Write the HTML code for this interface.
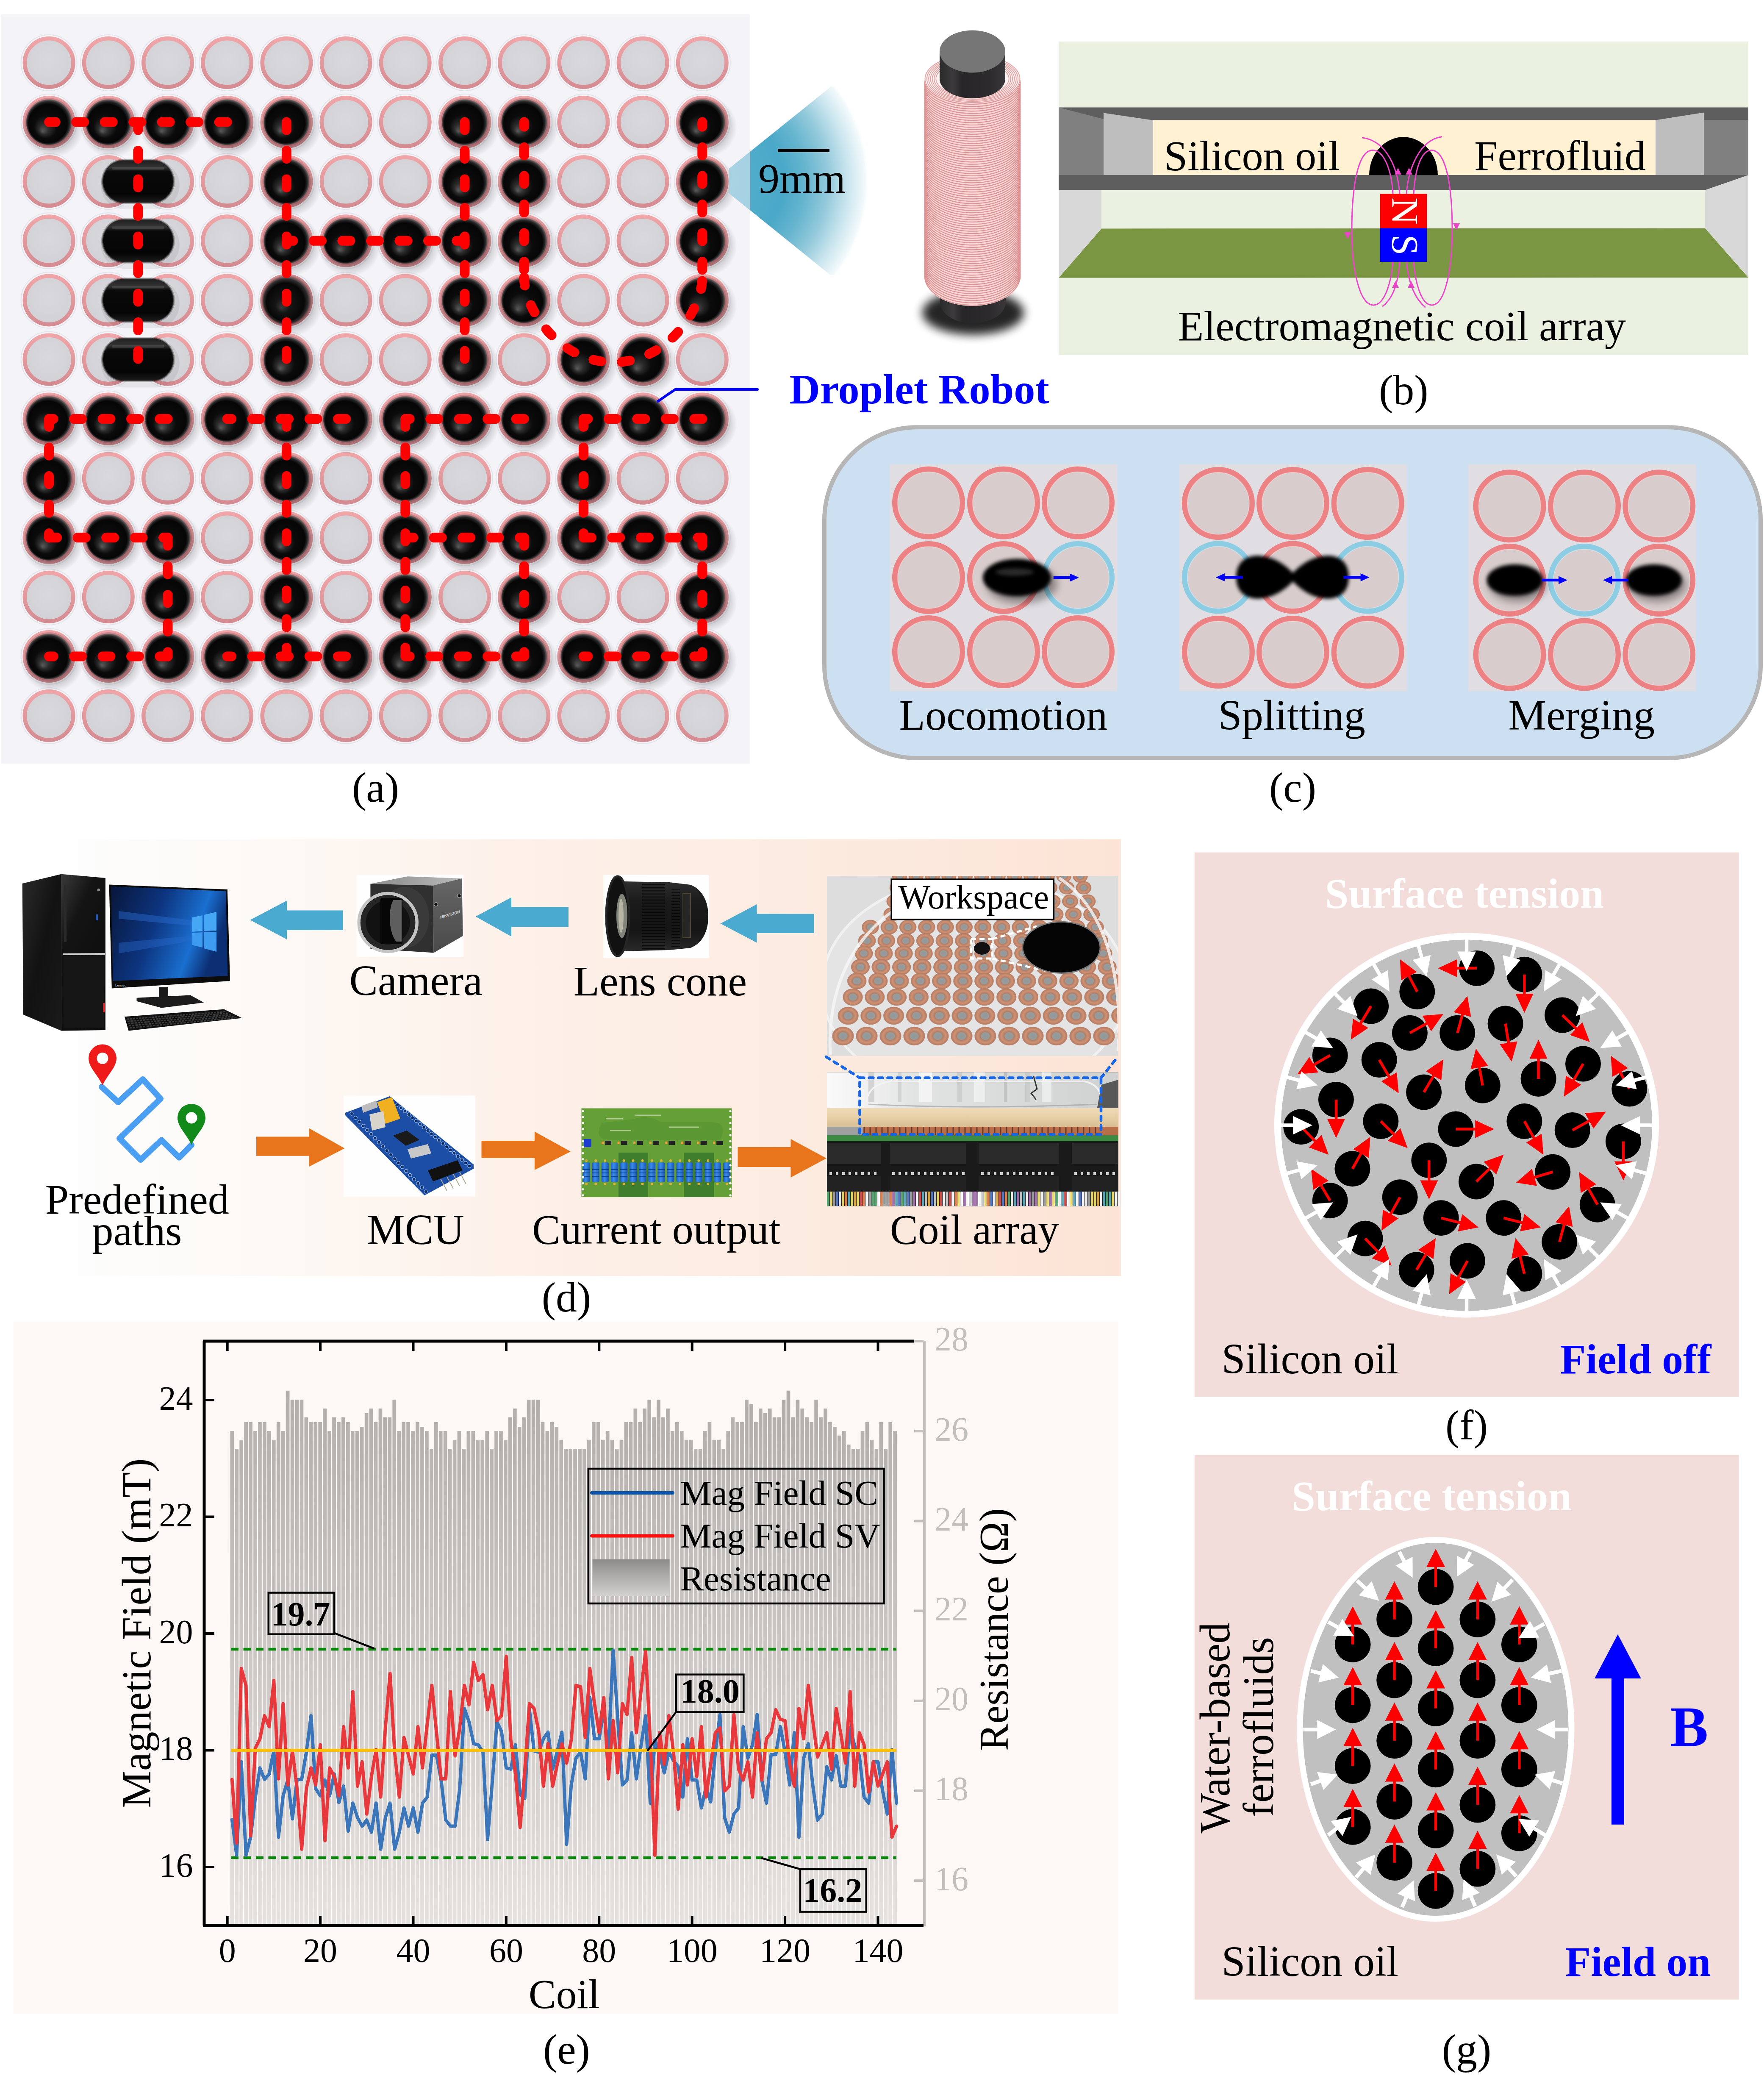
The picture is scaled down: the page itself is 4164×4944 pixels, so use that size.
<!DOCTYPE html>
<html><head><meta charset="utf-8"><title>Droplet robot figure</title>
<style>html,body{margin:0;padding:0;background:#fff;}body{width:4164px;height:4944px;overflow:hidden;}svg{display:block;}</style>
</head><body>
<svg xmlns="http://www.w3.org/2000/svg" width="4164" height="4944" viewBox="0 0 4164 4944"><defs>
<radialGradient id="gcell" cx="0.5" cy="0.45" r="0.55">
 <stop offset="0" stop-color="#d9d8dd"/><stop offset="1" stop-color="#d2d1d6"/>
</radialGradient>
<linearGradient id="gring" x1="0" y1="0" x2="0" y2="1">
 <stop offset="0" stop-color="#f0a6a8"/><stop offset="1" stop-color="#d48c92"/>
</linearGradient>
<radialGradient id="gdrop" cx="0.5" cy="0.5" r="0.5" fx="0.36" fy="0.70">
 <stop offset="0" stop-color="#5a5a5a"/>
 <stop offset="0.22" stop-color="#2c2c2c"/>
 <stop offset="0.5" stop-color="#0b0b0b"/>
 <stop offset="0.84" stop-color="#060606"/>
 <stop offset="0.92" stop-color="#262626"/>
 <stop offset="0.97" stop-color="#3a3a3a" stop-opacity="0.7"/>
 <stop offset="1" stop-color="#444" stop-opacity="0"/>
</radialGradient>
<radialGradient id="gdropb" cx="0.5" cy="0.5" r="0.5" fx="0.4" fy="0.65">
 <stop offset="0" stop-color="#3a3a3a"/>
 <stop offset="0.3" stop-color="#151515"/>
 <stop offset="0.75" stop-color="#070707"/>
 <stop offset="0.88" stop-color="#1a1a1a" stop-opacity="0.85"/>
 <stop offset="1" stop-color="#333" stop-opacity="0"/>
</radialGradient>
<radialGradient id="gshadow" cx="0.5" cy="0.5" r="0.5">
 <stop offset="0" stop-color="#000" stop-opacity="0.32"/>
 <stop offset="0.6" stop-color="#000" stop-opacity="0.22"/>
 <stop offset="1" stop-color="#000" stop-opacity="0"/>
</radialGradient>
<linearGradient id="gcap" x1="0" y1="0" x2="0" y2="1">
 <stop offset="0" stop-color="#222"/><stop offset="0.16" stop-color="#333"/><stop offset="0.26" stop-color="#0a0a0a"/>
 <stop offset="0.8" stop-color="#050505"/><stop offset="1" stop-color="#1a1a1a"/>
</linearGradient>

<radialGradient id="gcone" gradientUnits="userSpaceOnUse" cx="1685" cy="427" r="368">
 <stop offset="0" stop-color="#5ab2cf"/><stop offset="0.45" stop-color="#4aa8c8"/>
 <stop offset="0.59" stop-color="#66b5cf"/><stop offset="0.73" stop-color="#93c9db"/>
 <stop offset="0.86" stop-color="#cae5ee"/><stop offset="0.97" stop-color="#f2f9fb"/><stop offset="1" stop-color="#ffffff" stop-opacity="0"/>
</radialGradient>
<linearGradient id="gcore" x1="0" y1="0" x2="1" y2="0">
 <stop offset="0" stop-color="#2a2a2a"/><stop offset="0.2" stop-color="#3c3a3c"/><stop offset="0.35" stop-color="#272527"/>
 <stop offset="0.75" stop-color="#2c2a2d"/><stop offset="1" stop-color="#3a373b"/>
</linearGradient>
<filter id="fcshadow" x="-50%" y="-50%" width="200%" height="200%"><feGaussianBlur stdDeviation="11"/></filter>
<filter id="fblurc" x="-30%" y="-30%" width="160%" height="160%"><feGaussianBlur stdDeviation="4"/></filter>
<filter id="fblurc2" x="-30%" y="-30%" width="160%" height="160%"><feGaussianBlur stdDeviation="9"/></filter>
<marker id="mblue" viewBox="0 0 10 10" refX="9" refY="5" markerWidth="3.6" markerHeight="3.6" orient="auto-start-reverse" markerUnits="strokeWidth">
 <path d="M0,0 L10,5 L0,10 Z" fill="#0000ff"/></marker>

<linearGradient id="gdbg" x1="0" y1="0" x2="1" y2="0">
 <stop offset="0" stop-color="#fdfdfd"/><stop offset="0.1" stop-color="#fdfbf9"/><stop offset="0.45" stop-color="#fdf0e8"/><stop offset="1" stop-color="#fbe4d6"/>
</linearGradient>
<linearGradient id="gscreen" x1="0" y1="0" x2="1" y2="0.3">
 <stop offset="0" stop-color="#08163a"/><stop offset="0.45" stop-color="#0d3580"/><stop offset="0.8" stop-color="#1a6fd0"/><stop offset="1" stop-color="#0c2e72"/>
</linearGradient>
<linearGradient id="gtower" x1="0" y1="0" x2="1" y2="1">
 <stop offset="0" stop-color="#2a2a2a"/><stop offset="0.5" stop-color="#121212"/><stop offset="1" stop-color="#1a1a1a"/>
</linearGradient>
<linearGradient id="gfront" x1="0" y1="0" x2="0.6" y2="1">
 <stop offset="0" stop-color="#3a3a3a"/><stop offset="0.35" stop-color="#141414"/><stop offset="1" stop-color="#0c0c0c"/>
</linearGradient>
<linearGradient id="gcamtop" x1="0" y1="0" x2="1" y2="0">
 <stop offset="0" stop-color="#8a8a8a"/><stop offset="1" stop-color="#b9bcbc"/>
</linearGradient>
<linearGradient id="gcamside" x1="0" y1="0" x2="0" y2="1">
 <stop offset="0" stop-color="#666"/><stop offset="1" stop-color="#4a4a4a"/>
</linearGradient>
<linearGradient id="glens" x1="0" y1="0" x2="0" y2="1">
 <stop offset="0" stop-color="#2e2e2e"/><stop offset="0.3" stop-color="#1a1a1a"/><stop offset="0.7" stop-color="#151515"/><stop offset="1" stop-color="#2a2a2a"/>
</linearGradient>
<linearGradient id="gglass" x1="0" y1="0" x2="1" y2="0">
 <stop offset="0" stop-color="#fafafa"/><stop offset="0.15" stop-color="#f0f0f0"/><stop offset="0.3" stop-color="#e2e3e3"/><stop offset="0.6" stop-color="#dadcdc"/><stop offset="1" stop-color="#cfd1d1"/>
</linearGradient>
<linearGradient id="gtan" x1="0" y1="0" x2="0" y2="1">
 <stop offset="0" stop-color="#efdcb8"/><stop offset="0.5" stop-color="#e6cfa6"/><stop offset="1" stop-color="#d9bd92"/>
</linearGradient>
<radialGradient id="gcopper" cx="0.5" cy="0.5" r="0.5">
 <stop offset="0" stop-color="#85898a"/><stop offset="0.38" stop-color="#8a8e8e"/><stop offset="0.44" stop-color="#a86a4c"/>
 <stop offset="0.7" stop-color="#c98260"/><stop offset="0.93" stop-color="#b06848"/><stop offset="1" stop-color="#a06048" stop-opacity="0.6"/>
</radialGradient>
<linearGradient id="gres" x1="0" y1="0" x2="1" y2="0">
 <stop offset="0" stop-color="#1d5fc0"/><stop offset="0.4" stop-color="#3a8cf0"/><stop offset="1" stop-color="#1a56b0"/>
</linearGradient>

<linearGradient id="gbar" gradientUnits="userSpaceOnUse" x1="0" y1="3280" x2="0" y2="4541">
 <stop offset="0" stop-color="#b1adaa"/><stop offset="0.5" stop-color="#cbc7c5"/><stop offset="1" stop-color="#e4e1df"/>
</linearGradient>
<linearGradient id="glegbar" x1="0" y1="0" x2="0" y2="1">
 <stop offset="0" stop-color="#8e8c8b"/><stop offset="1" stop-color="#d4d2d1"/>
</linearGradient>
</defs><rect width="4164" height="4944" fill="#fff"/>
<rect x="2" y="34" width="1768" height="1768" fill="#f3f3f8"/>
<circle cx="115.6" cy="148.0" r="66" fill="none" stroke="#e4e4ea" stroke-width="2"/><circle cx="115.6" cy="148.0" r="57.2" fill="url(#gcell)" stroke="url(#gring)" stroke-width="9.6"/>
<circle cx="255.8" cy="148.0" r="66" fill="none" stroke="#e4e4ea" stroke-width="2"/><circle cx="255.8" cy="148.0" r="57.2" fill="url(#gcell)" stroke="url(#gring)" stroke-width="9.6"/>
<circle cx="396.0" cy="148.0" r="66" fill="none" stroke="#e4e4ea" stroke-width="2"/><circle cx="396.0" cy="148.0" r="57.2" fill="url(#gcell)" stroke="url(#gring)" stroke-width="9.6"/>
<circle cx="536.2" cy="148.0" r="66" fill="none" stroke="#e4e4ea" stroke-width="2"/><circle cx="536.2" cy="148.0" r="57.2" fill="url(#gcell)" stroke="url(#gring)" stroke-width="9.6"/>
<circle cx="676.4" cy="148.0" r="66" fill="none" stroke="#e4e4ea" stroke-width="2"/><circle cx="676.4" cy="148.0" r="57.2" fill="url(#gcell)" stroke="url(#gring)" stroke-width="9.6"/>
<circle cx="816.6" cy="148.0" r="66" fill="none" stroke="#e4e4ea" stroke-width="2"/><circle cx="816.6" cy="148.0" r="57.2" fill="url(#gcell)" stroke="url(#gring)" stroke-width="9.6"/>
<circle cx="956.8" cy="148.0" r="66" fill="none" stroke="#e4e4ea" stroke-width="2"/><circle cx="956.8" cy="148.0" r="57.2" fill="url(#gcell)" stroke="url(#gring)" stroke-width="9.6"/>
<circle cx="1097.0" cy="148.0" r="66" fill="none" stroke="#e4e4ea" stroke-width="2"/><circle cx="1097.0" cy="148.0" r="57.2" fill="url(#gcell)" stroke="url(#gring)" stroke-width="9.6"/>
<circle cx="1237.2" cy="148.0" r="66" fill="none" stroke="#e4e4ea" stroke-width="2"/><circle cx="1237.2" cy="148.0" r="57.2" fill="url(#gcell)" stroke="url(#gring)" stroke-width="9.6"/>
<circle cx="1377.4" cy="148.0" r="66" fill="none" stroke="#e4e4ea" stroke-width="2"/><circle cx="1377.4" cy="148.0" r="57.2" fill="url(#gcell)" stroke="url(#gring)" stroke-width="9.6"/>
<circle cx="1517.6" cy="148.0" r="66" fill="none" stroke="#e4e4ea" stroke-width="2"/><circle cx="1517.6" cy="148.0" r="57.2" fill="url(#gcell)" stroke="url(#gring)" stroke-width="9.6"/>
<circle cx="1657.8" cy="148.0" r="66" fill="none" stroke="#e4e4ea" stroke-width="2"/><circle cx="1657.8" cy="148.0" r="57.2" fill="url(#gcell)" stroke="url(#gring)" stroke-width="9.6"/>
<circle cx="115.6" cy="288.1" r="66" fill="none" stroke="#e4e4ea" stroke-width="2"/><circle cx="115.6" cy="288.1" r="57.2" fill="url(#gcell)" stroke="url(#gring)" stroke-width="9.6"/>
<circle cx="255.8" cy="288.1" r="66" fill="none" stroke="#e4e4ea" stroke-width="2"/><circle cx="255.8" cy="288.1" r="57.2" fill="url(#gcell)" stroke="url(#gring)" stroke-width="9.6"/>
<circle cx="396.0" cy="288.1" r="66" fill="none" stroke="#e4e4ea" stroke-width="2"/><circle cx="396.0" cy="288.1" r="57.2" fill="url(#gcell)" stroke="url(#gring)" stroke-width="9.6"/>
<circle cx="536.2" cy="288.1" r="66" fill="none" stroke="#e4e4ea" stroke-width="2"/><circle cx="536.2" cy="288.1" r="57.2" fill="url(#gcell)" stroke="url(#gring)" stroke-width="9.6"/>
<circle cx="676.4" cy="288.1" r="66" fill="none" stroke="#e4e4ea" stroke-width="2"/><circle cx="676.4" cy="288.1" r="57.2" fill="url(#gcell)" stroke="url(#gring)" stroke-width="9.6"/>
<circle cx="816.6" cy="288.1" r="66" fill="none" stroke="#e4e4ea" stroke-width="2"/><circle cx="816.6" cy="288.1" r="57.2" fill="url(#gcell)" stroke="url(#gring)" stroke-width="9.6"/>
<circle cx="956.8" cy="288.1" r="66" fill="none" stroke="#e4e4ea" stroke-width="2"/><circle cx="956.8" cy="288.1" r="57.2" fill="url(#gcell)" stroke="url(#gring)" stroke-width="9.6"/>
<circle cx="1097.0" cy="288.1" r="66" fill="none" stroke="#e4e4ea" stroke-width="2"/><circle cx="1097.0" cy="288.1" r="57.2" fill="url(#gcell)" stroke="url(#gring)" stroke-width="9.6"/>
<circle cx="1237.2" cy="288.1" r="66" fill="none" stroke="#e4e4ea" stroke-width="2"/><circle cx="1237.2" cy="288.1" r="57.2" fill="url(#gcell)" stroke="url(#gring)" stroke-width="9.6"/>
<circle cx="1377.4" cy="288.1" r="66" fill="none" stroke="#e4e4ea" stroke-width="2"/><circle cx="1377.4" cy="288.1" r="57.2" fill="url(#gcell)" stroke="url(#gring)" stroke-width="9.6"/>
<circle cx="1517.6" cy="288.1" r="66" fill="none" stroke="#e4e4ea" stroke-width="2"/><circle cx="1517.6" cy="288.1" r="57.2" fill="url(#gcell)" stroke="url(#gring)" stroke-width="9.6"/>
<circle cx="1657.8" cy="288.1" r="66" fill="none" stroke="#e4e4ea" stroke-width="2"/><circle cx="1657.8" cy="288.1" r="57.2" fill="url(#gcell)" stroke="url(#gring)" stroke-width="9.6"/>
<circle cx="115.6" cy="428.2" r="66" fill="none" stroke="#e4e4ea" stroke-width="2"/><circle cx="115.6" cy="428.2" r="57.2" fill="url(#gcell)" stroke="url(#gring)" stroke-width="9.6"/>
<circle cx="255.8" cy="428.2" r="66" fill="none" stroke="#e4e4ea" stroke-width="2"/><circle cx="255.8" cy="428.2" r="57.2" fill="url(#gcell)" stroke="url(#gring)" stroke-width="9.6"/>
<circle cx="396.0" cy="428.2" r="66" fill="none" stroke="#e4e4ea" stroke-width="2"/><circle cx="396.0" cy="428.2" r="57.2" fill="url(#gcell)" stroke="url(#gring)" stroke-width="9.6"/>
<circle cx="536.2" cy="428.2" r="66" fill="none" stroke="#e4e4ea" stroke-width="2"/><circle cx="536.2" cy="428.2" r="57.2" fill="url(#gcell)" stroke="url(#gring)" stroke-width="9.6"/>
<circle cx="676.4" cy="428.2" r="66" fill="none" stroke="#e4e4ea" stroke-width="2"/><circle cx="676.4" cy="428.2" r="57.2" fill="url(#gcell)" stroke="url(#gring)" stroke-width="9.6"/>
<circle cx="816.6" cy="428.2" r="66" fill="none" stroke="#e4e4ea" stroke-width="2"/><circle cx="816.6" cy="428.2" r="57.2" fill="url(#gcell)" stroke="url(#gring)" stroke-width="9.6"/>
<circle cx="956.8" cy="428.2" r="66" fill="none" stroke="#e4e4ea" stroke-width="2"/><circle cx="956.8" cy="428.2" r="57.2" fill="url(#gcell)" stroke="url(#gring)" stroke-width="9.6"/>
<circle cx="1097.0" cy="428.2" r="66" fill="none" stroke="#e4e4ea" stroke-width="2"/><circle cx="1097.0" cy="428.2" r="57.2" fill="url(#gcell)" stroke="url(#gring)" stroke-width="9.6"/>
<circle cx="1237.2" cy="428.2" r="66" fill="none" stroke="#e4e4ea" stroke-width="2"/><circle cx="1237.2" cy="428.2" r="57.2" fill="url(#gcell)" stroke="url(#gring)" stroke-width="9.6"/>
<circle cx="1377.4" cy="428.2" r="66" fill="none" stroke="#e4e4ea" stroke-width="2"/><circle cx="1377.4" cy="428.2" r="57.2" fill="url(#gcell)" stroke="url(#gring)" stroke-width="9.6"/>
<circle cx="1517.6" cy="428.2" r="66" fill="none" stroke="#e4e4ea" stroke-width="2"/><circle cx="1517.6" cy="428.2" r="57.2" fill="url(#gcell)" stroke="url(#gring)" stroke-width="9.6"/>
<circle cx="1657.8" cy="428.2" r="66" fill="none" stroke="#e4e4ea" stroke-width="2"/><circle cx="1657.8" cy="428.2" r="57.2" fill="url(#gcell)" stroke="url(#gring)" stroke-width="9.6"/>
<circle cx="115.6" cy="568.3" r="66" fill="none" stroke="#e4e4ea" stroke-width="2"/><circle cx="115.6" cy="568.3" r="57.2" fill="url(#gcell)" stroke="url(#gring)" stroke-width="9.6"/>
<circle cx="255.8" cy="568.3" r="66" fill="none" stroke="#e4e4ea" stroke-width="2"/><circle cx="255.8" cy="568.3" r="57.2" fill="url(#gcell)" stroke="url(#gring)" stroke-width="9.6"/>
<circle cx="396.0" cy="568.3" r="66" fill="none" stroke="#e4e4ea" stroke-width="2"/><circle cx="396.0" cy="568.3" r="57.2" fill="url(#gcell)" stroke="url(#gring)" stroke-width="9.6"/>
<circle cx="536.2" cy="568.3" r="66" fill="none" stroke="#e4e4ea" stroke-width="2"/><circle cx="536.2" cy="568.3" r="57.2" fill="url(#gcell)" stroke="url(#gring)" stroke-width="9.6"/>
<circle cx="676.4" cy="568.3" r="66" fill="none" stroke="#e4e4ea" stroke-width="2"/><circle cx="676.4" cy="568.3" r="57.2" fill="url(#gcell)" stroke="url(#gring)" stroke-width="9.6"/>
<circle cx="816.6" cy="568.3" r="66" fill="none" stroke="#e4e4ea" stroke-width="2"/><circle cx="816.6" cy="568.3" r="57.2" fill="url(#gcell)" stroke="url(#gring)" stroke-width="9.6"/>
<circle cx="956.8" cy="568.3" r="66" fill="none" stroke="#e4e4ea" stroke-width="2"/><circle cx="956.8" cy="568.3" r="57.2" fill="url(#gcell)" stroke="url(#gring)" stroke-width="9.6"/>
<circle cx="1097.0" cy="568.3" r="66" fill="none" stroke="#e4e4ea" stroke-width="2"/><circle cx="1097.0" cy="568.3" r="57.2" fill="url(#gcell)" stroke="url(#gring)" stroke-width="9.6"/>
<circle cx="1237.2" cy="568.3" r="66" fill="none" stroke="#e4e4ea" stroke-width="2"/><circle cx="1237.2" cy="568.3" r="57.2" fill="url(#gcell)" stroke="url(#gring)" stroke-width="9.6"/>
<circle cx="1377.4" cy="568.3" r="66" fill="none" stroke="#e4e4ea" stroke-width="2"/><circle cx="1377.4" cy="568.3" r="57.2" fill="url(#gcell)" stroke="url(#gring)" stroke-width="9.6"/>
<circle cx="1517.6" cy="568.3" r="66" fill="none" stroke="#e4e4ea" stroke-width="2"/><circle cx="1517.6" cy="568.3" r="57.2" fill="url(#gcell)" stroke="url(#gring)" stroke-width="9.6"/>
<circle cx="1657.8" cy="568.3" r="66" fill="none" stroke="#e4e4ea" stroke-width="2"/><circle cx="1657.8" cy="568.3" r="57.2" fill="url(#gcell)" stroke="url(#gring)" stroke-width="9.6"/>
<circle cx="115.6" cy="708.4" r="66" fill="none" stroke="#e4e4ea" stroke-width="2"/><circle cx="115.6" cy="708.4" r="57.2" fill="url(#gcell)" stroke="url(#gring)" stroke-width="9.6"/>
<circle cx="255.8" cy="708.4" r="66" fill="none" stroke="#e4e4ea" stroke-width="2"/><circle cx="255.8" cy="708.4" r="57.2" fill="url(#gcell)" stroke="url(#gring)" stroke-width="9.6"/>
<circle cx="396.0" cy="708.4" r="66" fill="none" stroke="#e4e4ea" stroke-width="2"/><circle cx="396.0" cy="708.4" r="57.2" fill="url(#gcell)" stroke="url(#gring)" stroke-width="9.6"/>
<circle cx="536.2" cy="708.4" r="66" fill="none" stroke="#e4e4ea" stroke-width="2"/><circle cx="536.2" cy="708.4" r="57.2" fill="url(#gcell)" stroke="url(#gring)" stroke-width="9.6"/>
<circle cx="676.4" cy="708.4" r="66" fill="none" stroke="#e4e4ea" stroke-width="2"/><circle cx="676.4" cy="708.4" r="57.2" fill="url(#gcell)" stroke="url(#gring)" stroke-width="9.6"/>
<circle cx="816.6" cy="708.4" r="66" fill="none" stroke="#e4e4ea" stroke-width="2"/><circle cx="816.6" cy="708.4" r="57.2" fill="url(#gcell)" stroke="url(#gring)" stroke-width="9.6"/>
<circle cx="956.8" cy="708.4" r="66" fill="none" stroke="#e4e4ea" stroke-width="2"/><circle cx="956.8" cy="708.4" r="57.2" fill="url(#gcell)" stroke="url(#gring)" stroke-width="9.6"/>
<circle cx="1097.0" cy="708.4" r="66" fill="none" stroke="#e4e4ea" stroke-width="2"/><circle cx="1097.0" cy="708.4" r="57.2" fill="url(#gcell)" stroke="url(#gring)" stroke-width="9.6"/>
<circle cx="1237.2" cy="708.4" r="66" fill="none" stroke="#e4e4ea" stroke-width="2"/><circle cx="1237.2" cy="708.4" r="57.2" fill="url(#gcell)" stroke="url(#gring)" stroke-width="9.6"/>
<circle cx="1377.4" cy="708.4" r="66" fill="none" stroke="#e4e4ea" stroke-width="2"/><circle cx="1377.4" cy="708.4" r="57.2" fill="url(#gcell)" stroke="url(#gring)" stroke-width="9.6"/>
<circle cx="1517.6" cy="708.4" r="66" fill="none" stroke="#e4e4ea" stroke-width="2"/><circle cx="1517.6" cy="708.4" r="57.2" fill="url(#gcell)" stroke="url(#gring)" stroke-width="9.6"/>
<circle cx="1657.8" cy="708.4" r="66" fill="none" stroke="#e4e4ea" stroke-width="2"/><circle cx="1657.8" cy="708.4" r="57.2" fill="url(#gcell)" stroke="url(#gring)" stroke-width="9.6"/>
<circle cx="115.6" cy="848.5" r="66" fill="none" stroke="#e4e4ea" stroke-width="2"/><circle cx="115.6" cy="848.5" r="57.2" fill="url(#gcell)" stroke="url(#gring)" stroke-width="9.6"/>
<circle cx="255.8" cy="848.5" r="66" fill="none" stroke="#e4e4ea" stroke-width="2"/><circle cx="255.8" cy="848.5" r="57.2" fill="url(#gcell)" stroke="url(#gring)" stroke-width="9.6"/>
<circle cx="396.0" cy="848.5" r="66" fill="none" stroke="#e4e4ea" stroke-width="2"/><circle cx="396.0" cy="848.5" r="57.2" fill="url(#gcell)" stroke="url(#gring)" stroke-width="9.6"/>
<circle cx="536.2" cy="848.5" r="66" fill="none" stroke="#e4e4ea" stroke-width="2"/><circle cx="536.2" cy="848.5" r="57.2" fill="url(#gcell)" stroke="url(#gring)" stroke-width="9.6"/>
<circle cx="676.4" cy="848.5" r="66" fill="none" stroke="#e4e4ea" stroke-width="2"/><circle cx="676.4" cy="848.5" r="57.2" fill="url(#gcell)" stroke="url(#gring)" stroke-width="9.6"/>
<circle cx="816.6" cy="848.5" r="66" fill="none" stroke="#e4e4ea" stroke-width="2"/><circle cx="816.6" cy="848.5" r="57.2" fill="url(#gcell)" stroke="url(#gring)" stroke-width="9.6"/>
<circle cx="956.8" cy="848.5" r="66" fill="none" stroke="#e4e4ea" stroke-width="2"/><circle cx="956.8" cy="848.5" r="57.2" fill="url(#gcell)" stroke="url(#gring)" stroke-width="9.6"/>
<circle cx="1097.0" cy="848.5" r="66" fill="none" stroke="#e4e4ea" stroke-width="2"/><circle cx="1097.0" cy="848.5" r="57.2" fill="url(#gcell)" stroke="url(#gring)" stroke-width="9.6"/>
<circle cx="1237.2" cy="848.5" r="66" fill="none" stroke="#e4e4ea" stroke-width="2"/><circle cx="1237.2" cy="848.5" r="57.2" fill="url(#gcell)" stroke="url(#gring)" stroke-width="9.6"/>
<circle cx="1377.4" cy="848.5" r="66" fill="none" stroke="#e4e4ea" stroke-width="2"/><circle cx="1377.4" cy="848.5" r="57.2" fill="url(#gcell)" stroke="url(#gring)" stroke-width="9.6"/>
<circle cx="1517.6" cy="848.5" r="66" fill="none" stroke="#e4e4ea" stroke-width="2"/><circle cx="1517.6" cy="848.5" r="57.2" fill="url(#gcell)" stroke="url(#gring)" stroke-width="9.6"/>
<circle cx="1657.8" cy="848.5" r="66" fill="none" stroke="#e4e4ea" stroke-width="2"/><circle cx="1657.8" cy="848.5" r="57.2" fill="url(#gcell)" stroke="url(#gring)" stroke-width="9.6"/>
<circle cx="115.6" cy="988.6" r="66" fill="none" stroke="#e4e4ea" stroke-width="2"/><circle cx="115.6" cy="988.6" r="57.2" fill="url(#gcell)" stroke="url(#gring)" stroke-width="9.6"/>
<circle cx="255.8" cy="988.6" r="66" fill="none" stroke="#e4e4ea" stroke-width="2"/><circle cx="255.8" cy="988.6" r="57.2" fill="url(#gcell)" stroke="url(#gring)" stroke-width="9.6"/>
<circle cx="396.0" cy="988.6" r="66" fill="none" stroke="#e4e4ea" stroke-width="2"/><circle cx="396.0" cy="988.6" r="57.2" fill="url(#gcell)" stroke="url(#gring)" stroke-width="9.6"/>
<circle cx="536.2" cy="988.6" r="66" fill="none" stroke="#e4e4ea" stroke-width="2"/><circle cx="536.2" cy="988.6" r="57.2" fill="url(#gcell)" stroke="url(#gring)" stroke-width="9.6"/>
<circle cx="676.4" cy="988.6" r="66" fill="none" stroke="#e4e4ea" stroke-width="2"/><circle cx="676.4" cy="988.6" r="57.2" fill="url(#gcell)" stroke="url(#gring)" stroke-width="9.6"/>
<circle cx="816.6" cy="988.6" r="66" fill="none" stroke="#e4e4ea" stroke-width="2"/><circle cx="816.6" cy="988.6" r="57.2" fill="url(#gcell)" stroke="url(#gring)" stroke-width="9.6"/>
<circle cx="956.8" cy="988.6" r="66" fill="none" stroke="#e4e4ea" stroke-width="2"/><circle cx="956.8" cy="988.6" r="57.2" fill="url(#gcell)" stroke="url(#gring)" stroke-width="9.6"/>
<circle cx="1097.0" cy="988.6" r="66" fill="none" stroke="#e4e4ea" stroke-width="2"/><circle cx="1097.0" cy="988.6" r="57.2" fill="url(#gcell)" stroke="url(#gring)" stroke-width="9.6"/>
<circle cx="1237.2" cy="988.6" r="66" fill="none" stroke="#e4e4ea" stroke-width="2"/><circle cx="1237.2" cy="988.6" r="57.2" fill="url(#gcell)" stroke="url(#gring)" stroke-width="9.6"/>
<circle cx="1377.4" cy="988.6" r="66" fill="none" stroke="#e4e4ea" stroke-width="2"/><circle cx="1377.4" cy="988.6" r="57.2" fill="url(#gcell)" stroke="url(#gring)" stroke-width="9.6"/>
<circle cx="1517.6" cy="988.6" r="66" fill="none" stroke="#e4e4ea" stroke-width="2"/><circle cx="1517.6" cy="988.6" r="57.2" fill="url(#gcell)" stroke="url(#gring)" stroke-width="9.6"/>
<circle cx="1657.8" cy="988.6" r="66" fill="none" stroke="#e4e4ea" stroke-width="2"/><circle cx="1657.8" cy="988.6" r="57.2" fill="url(#gcell)" stroke="url(#gring)" stroke-width="9.6"/>
<circle cx="115.6" cy="1128.7" r="66" fill="none" stroke="#e4e4ea" stroke-width="2"/><circle cx="115.6" cy="1128.7" r="57.2" fill="url(#gcell)" stroke="url(#gring)" stroke-width="9.6"/>
<circle cx="255.8" cy="1128.7" r="66" fill="none" stroke="#e4e4ea" stroke-width="2"/><circle cx="255.8" cy="1128.7" r="57.2" fill="url(#gcell)" stroke="url(#gring)" stroke-width="9.6"/>
<circle cx="396.0" cy="1128.7" r="66" fill="none" stroke="#e4e4ea" stroke-width="2"/><circle cx="396.0" cy="1128.7" r="57.2" fill="url(#gcell)" stroke="url(#gring)" stroke-width="9.6"/>
<circle cx="536.2" cy="1128.7" r="66" fill="none" stroke="#e4e4ea" stroke-width="2"/><circle cx="536.2" cy="1128.7" r="57.2" fill="url(#gcell)" stroke="url(#gring)" stroke-width="9.6"/>
<circle cx="676.4" cy="1128.7" r="66" fill="none" stroke="#e4e4ea" stroke-width="2"/><circle cx="676.4" cy="1128.7" r="57.2" fill="url(#gcell)" stroke="url(#gring)" stroke-width="9.6"/>
<circle cx="816.6" cy="1128.7" r="66" fill="none" stroke="#e4e4ea" stroke-width="2"/><circle cx="816.6" cy="1128.7" r="57.2" fill="url(#gcell)" stroke="url(#gring)" stroke-width="9.6"/>
<circle cx="956.8" cy="1128.7" r="66" fill="none" stroke="#e4e4ea" stroke-width="2"/><circle cx="956.8" cy="1128.7" r="57.2" fill="url(#gcell)" stroke="url(#gring)" stroke-width="9.6"/>
<circle cx="1097.0" cy="1128.7" r="66" fill="none" stroke="#e4e4ea" stroke-width="2"/><circle cx="1097.0" cy="1128.7" r="57.2" fill="url(#gcell)" stroke="url(#gring)" stroke-width="9.6"/>
<circle cx="1237.2" cy="1128.7" r="66" fill="none" stroke="#e4e4ea" stroke-width="2"/><circle cx="1237.2" cy="1128.7" r="57.2" fill="url(#gcell)" stroke="url(#gring)" stroke-width="9.6"/>
<circle cx="1377.4" cy="1128.7" r="66" fill="none" stroke="#e4e4ea" stroke-width="2"/><circle cx="1377.4" cy="1128.7" r="57.2" fill="url(#gcell)" stroke="url(#gring)" stroke-width="9.6"/>
<circle cx="1517.6" cy="1128.7" r="66" fill="none" stroke="#e4e4ea" stroke-width="2"/><circle cx="1517.6" cy="1128.7" r="57.2" fill="url(#gcell)" stroke="url(#gring)" stroke-width="9.6"/>
<circle cx="1657.8" cy="1128.7" r="66" fill="none" stroke="#e4e4ea" stroke-width="2"/><circle cx="1657.8" cy="1128.7" r="57.2" fill="url(#gcell)" stroke="url(#gring)" stroke-width="9.6"/>
<circle cx="115.6" cy="1268.8" r="66" fill="none" stroke="#e4e4ea" stroke-width="2"/><circle cx="115.6" cy="1268.8" r="57.2" fill="url(#gcell)" stroke="url(#gring)" stroke-width="9.6"/>
<circle cx="255.8" cy="1268.8" r="66" fill="none" stroke="#e4e4ea" stroke-width="2"/><circle cx="255.8" cy="1268.8" r="57.2" fill="url(#gcell)" stroke="url(#gring)" stroke-width="9.6"/>
<circle cx="396.0" cy="1268.8" r="66" fill="none" stroke="#e4e4ea" stroke-width="2"/><circle cx="396.0" cy="1268.8" r="57.2" fill="url(#gcell)" stroke="url(#gring)" stroke-width="9.6"/>
<circle cx="536.2" cy="1268.8" r="66" fill="none" stroke="#e4e4ea" stroke-width="2"/><circle cx="536.2" cy="1268.8" r="57.2" fill="url(#gcell)" stroke="url(#gring)" stroke-width="9.6"/>
<circle cx="676.4" cy="1268.8" r="66" fill="none" stroke="#e4e4ea" stroke-width="2"/><circle cx="676.4" cy="1268.8" r="57.2" fill="url(#gcell)" stroke="url(#gring)" stroke-width="9.6"/>
<circle cx="816.6" cy="1268.8" r="66" fill="none" stroke="#e4e4ea" stroke-width="2"/><circle cx="816.6" cy="1268.8" r="57.2" fill="url(#gcell)" stroke="url(#gring)" stroke-width="9.6"/>
<circle cx="956.8" cy="1268.8" r="66" fill="none" stroke="#e4e4ea" stroke-width="2"/><circle cx="956.8" cy="1268.8" r="57.2" fill="url(#gcell)" stroke="url(#gring)" stroke-width="9.6"/>
<circle cx="1097.0" cy="1268.8" r="66" fill="none" stroke="#e4e4ea" stroke-width="2"/><circle cx="1097.0" cy="1268.8" r="57.2" fill="url(#gcell)" stroke="url(#gring)" stroke-width="9.6"/>
<circle cx="1237.2" cy="1268.8" r="66" fill="none" stroke="#e4e4ea" stroke-width="2"/><circle cx="1237.2" cy="1268.8" r="57.2" fill="url(#gcell)" stroke="url(#gring)" stroke-width="9.6"/>
<circle cx="1377.4" cy="1268.8" r="66" fill="none" stroke="#e4e4ea" stroke-width="2"/><circle cx="1377.4" cy="1268.8" r="57.2" fill="url(#gcell)" stroke="url(#gring)" stroke-width="9.6"/>
<circle cx="1517.6" cy="1268.8" r="66" fill="none" stroke="#e4e4ea" stroke-width="2"/><circle cx="1517.6" cy="1268.8" r="57.2" fill="url(#gcell)" stroke="url(#gring)" stroke-width="9.6"/>
<circle cx="1657.8" cy="1268.8" r="66" fill="none" stroke="#e4e4ea" stroke-width="2"/><circle cx="1657.8" cy="1268.8" r="57.2" fill="url(#gcell)" stroke="url(#gring)" stroke-width="9.6"/>
<circle cx="115.6" cy="1408.9" r="66" fill="none" stroke="#e4e4ea" stroke-width="2"/><circle cx="115.6" cy="1408.9" r="57.2" fill="url(#gcell)" stroke="url(#gring)" stroke-width="9.6"/>
<circle cx="255.8" cy="1408.9" r="66" fill="none" stroke="#e4e4ea" stroke-width="2"/><circle cx="255.8" cy="1408.9" r="57.2" fill="url(#gcell)" stroke="url(#gring)" stroke-width="9.6"/>
<circle cx="396.0" cy="1408.9" r="66" fill="none" stroke="#e4e4ea" stroke-width="2"/><circle cx="396.0" cy="1408.9" r="57.2" fill="url(#gcell)" stroke="url(#gring)" stroke-width="9.6"/>
<circle cx="536.2" cy="1408.9" r="66" fill="none" stroke="#e4e4ea" stroke-width="2"/><circle cx="536.2" cy="1408.9" r="57.2" fill="url(#gcell)" stroke="url(#gring)" stroke-width="9.6"/>
<circle cx="676.4" cy="1408.9" r="66" fill="none" stroke="#e4e4ea" stroke-width="2"/><circle cx="676.4" cy="1408.9" r="57.2" fill="url(#gcell)" stroke="url(#gring)" stroke-width="9.6"/>
<circle cx="816.6" cy="1408.9" r="66" fill="none" stroke="#e4e4ea" stroke-width="2"/><circle cx="816.6" cy="1408.9" r="57.2" fill="url(#gcell)" stroke="url(#gring)" stroke-width="9.6"/>
<circle cx="956.8" cy="1408.9" r="66" fill="none" stroke="#e4e4ea" stroke-width="2"/><circle cx="956.8" cy="1408.9" r="57.2" fill="url(#gcell)" stroke="url(#gring)" stroke-width="9.6"/>
<circle cx="1097.0" cy="1408.9" r="66" fill="none" stroke="#e4e4ea" stroke-width="2"/><circle cx="1097.0" cy="1408.9" r="57.2" fill="url(#gcell)" stroke="url(#gring)" stroke-width="9.6"/>
<circle cx="1237.2" cy="1408.9" r="66" fill="none" stroke="#e4e4ea" stroke-width="2"/><circle cx="1237.2" cy="1408.9" r="57.2" fill="url(#gcell)" stroke="url(#gring)" stroke-width="9.6"/>
<circle cx="1377.4" cy="1408.9" r="66" fill="none" stroke="#e4e4ea" stroke-width="2"/><circle cx="1377.4" cy="1408.9" r="57.2" fill="url(#gcell)" stroke="url(#gring)" stroke-width="9.6"/>
<circle cx="1517.6" cy="1408.9" r="66" fill="none" stroke="#e4e4ea" stroke-width="2"/><circle cx="1517.6" cy="1408.9" r="57.2" fill="url(#gcell)" stroke="url(#gring)" stroke-width="9.6"/>
<circle cx="1657.8" cy="1408.9" r="66" fill="none" stroke="#e4e4ea" stroke-width="2"/><circle cx="1657.8" cy="1408.9" r="57.2" fill="url(#gcell)" stroke="url(#gring)" stroke-width="9.6"/>
<circle cx="115.6" cy="1549.0" r="66" fill="none" stroke="#e4e4ea" stroke-width="2"/><circle cx="115.6" cy="1549.0" r="57.2" fill="url(#gcell)" stroke="url(#gring)" stroke-width="9.6"/>
<circle cx="255.8" cy="1549.0" r="66" fill="none" stroke="#e4e4ea" stroke-width="2"/><circle cx="255.8" cy="1549.0" r="57.2" fill="url(#gcell)" stroke="url(#gring)" stroke-width="9.6"/>
<circle cx="396.0" cy="1549.0" r="66" fill="none" stroke="#e4e4ea" stroke-width="2"/><circle cx="396.0" cy="1549.0" r="57.2" fill="url(#gcell)" stroke="url(#gring)" stroke-width="9.6"/>
<circle cx="536.2" cy="1549.0" r="66" fill="none" stroke="#e4e4ea" stroke-width="2"/><circle cx="536.2" cy="1549.0" r="57.2" fill="url(#gcell)" stroke="url(#gring)" stroke-width="9.6"/>
<circle cx="676.4" cy="1549.0" r="66" fill="none" stroke="#e4e4ea" stroke-width="2"/><circle cx="676.4" cy="1549.0" r="57.2" fill="url(#gcell)" stroke="url(#gring)" stroke-width="9.6"/>
<circle cx="816.6" cy="1549.0" r="66" fill="none" stroke="#e4e4ea" stroke-width="2"/><circle cx="816.6" cy="1549.0" r="57.2" fill="url(#gcell)" stroke="url(#gring)" stroke-width="9.6"/>
<circle cx="956.8" cy="1549.0" r="66" fill="none" stroke="#e4e4ea" stroke-width="2"/><circle cx="956.8" cy="1549.0" r="57.2" fill="url(#gcell)" stroke="url(#gring)" stroke-width="9.6"/>
<circle cx="1097.0" cy="1549.0" r="66" fill="none" stroke="#e4e4ea" stroke-width="2"/><circle cx="1097.0" cy="1549.0" r="57.2" fill="url(#gcell)" stroke="url(#gring)" stroke-width="9.6"/>
<circle cx="1237.2" cy="1549.0" r="66" fill="none" stroke="#e4e4ea" stroke-width="2"/><circle cx="1237.2" cy="1549.0" r="57.2" fill="url(#gcell)" stroke="url(#gring)" stroke-width="9.6"/>
<circle cx="1377.4" cy="1549.0" r="66" fill="none" stroke="#e4e4ea" stroke-width="2"/><circle cx="1377.4" cy="1549.0" r="57.2" fill="url(#gcell)" stroke="url(#gring)" stroke-width="9.6"/>
<circle cx="1517.6" cy="1549.0" r="66" fill="none" stroke="#e4e4ea" stroke-width="2"/><circle cx="1517.6" cy="1549.0" r="57.2" fill="url(#gcell)" stroke="url(#gring)" stroke-width="9.6"/>
<circle cx="1657.8" cy="1549.0" r="66" fill="none" stroke="#e4e4ea" stroke-width="2"/><circle cx="1657.8" cy="1549.0" r="57.2" fill="url(#gcell)" stroke="url(#gring)" stroke-width="9.6"/>
<circle cx="115.6" cy="1689.1" r="66" fill="none" stroke="#e4e4ea" stroke-width="2"/><circle cx="115.6" cy="1689.1" r="57.2" fill="url(#gcell)" stroke="url(#gring)" stroke-width="9.6"/>
<circle cx="255.8" cy="1689.1" r="66" fill="none" stroke="#e4e4ea" stroke-width="2"/><circle cx="255.8" cy="1689.1" r="57.2" fill="url(#gcell)" stroke="url(#gring)" stroke-width="9.6"/>
<circle cx="396.0" cy="1689.1" r="66" fill="none" stroke="#e4e4ea" stroke-width="2"/><circle cx="396.0" cy="1689.1" r="57.2" fill="url(#gcell)" stroke="url(#gring)" stroke-width="9.6"/>
<circle cx="536.2" cy="1689.1" r="66" fill="none" stroke="#e4e4ea" stroke-width="2"/><circle cx="536.2" cy="1689.1" r="57.2" fill="url(#gcell)" stroke="url(#gring)" stroke-width="9.6"/>
<circle cx="676.4" cy="1689.1" r="66" fill="none" stroke="#e4e4ea" stroke-width="2"/><circle cx="676.4" cy="1689.1" r="57.2" fill="url(#gcell)" stroke="url(#gring)" stroke-width="9.6"/>
<circle cx="816.6" cy="1689.1" r="66" fill="none" stroke="#e4e4ea" stroke-width="2"/><circle cx="816.6" cy="1689.1" r="57.2" fill="url(#gcell)" stroke="url(#gring)" stroke-width="9.6"/>
<circle cx="956.8" cy="1689.1" r="66" fill="none" stroke="#e4e4ea" stroke-width="2"/><circle cx="956.8" cy="1689.1" r="57.2" fill="url(#gcell)" stroke="url(#gring)" stroke-width="9.6"/>
<circle cx="1097.0" cy="1689.1" r="66" fill="none" stroke="#e4e4ea" stroke-width="2"/><circle cx="1097.0" cy="1689.1" r="57.2" fill="url(#gcell)" stroke="url(#gring)" stroke-width="9.6"/>
<circle cx="1237.2" cy="1689.1" r="66" fill="none" stroke="#e4e4ea" stroke-width="2"/><circle cx="1237.2" cy="1689.1" r="57.2" fill="url(#gcell)" stroke="url(#gring)" stroke-width="9.6"/>
<circle cx="1377.4" cy="1689.1" r="66" fill="none" stroke="#e4e4ea" stroke-width="2"/><circle cx="1377.4" cy="1689.1" r="57.2" fill="url(#gcell)" stroke="url(#gring)" stroke-width="9.6"/>
<circle cx="1517.6" cy="1689.1" r="66" fill="none" stroke="#e4e4ea" stroke-width="2"/><circle cx="1517.6" cy="1689.1" r="57.2" fill="url(#gcell)" stroke="url(#gring)" stroke-width="9.6"/>
<circle cx="1657.8" cy="1689.1" r="66" fill="none" stroke="#e4e4ea" stroke-width="2"/><circle cx="1657.8" cy="1689.1" r="57.2" fill="url(#gcell)" stroke="url(#gring)" stroke-width="9.6"/>
<ellipse cx="123.6" cy="300.1" rx="74" ry="72" fill="url(#gshadow)"/><ellipse cx="263.8" cy="300.1" rx="74" ry="72" fill="url(#gshadow)"/><ellipse cx="404.0" cy="300.1" rx="74" ry="72" fill="url(#gshadow)"/><ellipse cx="544.2" cy="300.1" rx="74" ry="72" fill="url(#gshadow)"/><ellipse cx="684.4" cy="300.1" rx="74" ry="72" fill="url(#gshadow)"/><ellipse cx="1105.0" cy="300.1" rx="74" ry="72" fill="url(#gshadow)"/><ellipse cx="1245.2" cy="300.1" rx="74" ry="72" fill="url(#gshadow)"/><ellipse cx="1665.8" cy="300.1" rx="74" ry="72" fill="url(#gshadow)"/><ellipse cx="684.4" cy="440.2" rx="74" ry="72" fill="url(#gshadow)"/><ellipse cx="1105.0" cy="440.2" rx="74" ry="72" fill="url(#gshadow)"/><ellipse cx="1245.2" cy="440.2" rx="74" ry="72" fill="url(#gshadow)"/><ellipse cx="1665.8" cy="440.2" rx="74" ry="72" fill="url(#gshadow)"/><ellipse cx="684.4" cy="580.3" rx="74" ry="72" fill="url(#gshadow)"/><ellipse cx="824.6" cy="580.3" rx="74" ry="72" fill="url(#gshadow)"/><ellipse cx="964.8" cy="580.3" rx="74" ry="72" fill="url(#gshadow)"/><ellipse cx="1105.0" cy="580.3" rx="74" ry="72" fill="url(#gshadow)"/><ellipse cx="1245.2" cy="580.3" rx="74" ry="72" fill="url(#gshadow)"/><ellipse cx="1665.8" cy="580.3" rx="74" ry="72" fill="url(#gshadow)"/><ellipse cx="684.4" cy="720.4" rx="77" ry="75" fill="url(#gshadow)"/><ellipse cx="1105.0" cy="720.4" rx="74" ry="72" fill="url(#gshadow)"/><ellipse cx="1245.2" cy="720.4" rx="74" ry="72" fill="url(#gshadow)"/><ellipse cx="1665.8" cy="720.4" rx="74" ry="72" fill="url(#gshadow)"/><ellipse cx="684.4" cy="860.5" rx="74" ry="72" fill="url(#gshadow)"/><ellipse cx="1105.0" cy="860.5" rx="74" ry="72" fill="url(#gshadow)"/><ellipse cx="1385.4" cy="860.5" rx="74" ry="72" fill="url(#gshadow)"/><ellipse cx="1525.6" cy="860.5" rx="74" ry="72" fill="url(#gshadow)"/><ellipse cx="123.6" cy="1000.6" rx="74" ry="72" fill="url(#gshadow)"/><ellipse cx="263.8" cy="1000.6" rx="74" ry="72" fill="url(#gshadow)"/><ellipse cx="404.0" cy="1000.6" rx="74" ry="72" fill="url(#gshadow)"/><ellipse cx="544.2" cy="1000.6" rx="74" ry="72" fill="url(#gshadow)"/><ellipse cx="684.4" cy="1000.6" rx="74" ry="72" fill="url(#gshadow)"/><ellipse cx="824.6" cy="1000.6" rx="74" ry="72" fill="url(#gshadow)"/><ellipse cx="964.8" cy="1000.6" rx="74" ry="72" fill="url(#gshadow)"/><ellipse cx="1105.0" cy="1000.6" rx="74" ry="72" fill="url(#gshadow)"/><ellipse cx="1245.2" cy="1000.6" rx="74" ry="72" fill="url(#gshadow)"/><ellipse cx="1385.4" cy="1000.6" rx="74" ry="72" fill="url(#gshadow)"/><ellipse cx="1525.6" cy="1000.6" rx="74" ry="72" fill="url(#gshadow)"/><ellipse cx="1665.8" cy="1000.6" rx="74" ry="72" fill="url(#gshadow)"/><ellipse cx="123.6" cy="1140.7" rx="74" ry="72" fill="url(#gshadow)"/><ellipse cx="684.4" cy="1140.7" rx="74" ry="72" fill="url(#gshadow)"/><ellipse cx="964.8" cy="1140.7" rx="74" ry="72" fill="url(#gshadow)"/><ellipse cx="1385.4" cy="1140.7" rx="74" ry="72" fill="url(#gshadow)"/><ellipse cx="123.6" cy="1280.8" rx="74" ry="72" fill="url(#gshadow)"/><ellipse cx="263.8" cy="1280.8" rx="74" ry="72" fill="url(#gshadow)"/><ellipse cx="404.0" cy="1280.8" rx="74" ry="72" fill="url(#gshadow)"/><ellipse cx="684.4" cy="1280.8" rx="74" ry="72" fill="url(#gshadow)"/><ellipse cx="964.8" cy="1280.8" rx="74" ry="72" fill="url(#gshadow)"/><ellipse cx="1105.0" cy="1280.8" rx="74" ry="72" fill="url(#gshadow)"/><ellipse cx="1245.2" cy="1280.8" rx="74" ry="72" fill="url(#gshadow)"/><ellipse cx="1385.4" cy="1280.8" rx="74" ry="72" fill="url(#gshadow)"/><ellipse cx="1525.6" cy="1280.8" rx="74" ry="72" fill="url(#gshadow)"/><ellipse cx="1665.8" cy="1280.8" rx="74" ry="72" fill="url(#gshadow)"/><ellipse cx="404.0" cy="1420.9" rx="74" ry="72" fill="url(#gshadow)"/><ellipse cx="684.4" cy="1420.9" rx="74" ry="72" fill="url(#gshadow)"/><ellipse cx="964.8" cy="1420.9" rx="74" ry="72" fill="url(#gshadow)"/><ellipse cx="1245.2" cy="1420.9" rx="74" ry="72" fill="url(#gshadow)"/><ellipse cx="1665.8" cy="1420.9" rx="74" ry="72" fill="url(#gshadow)"/><ellipse cx="123.6" cy="1561.0" rx="74" ry="72" fill="url(#gshadow)"/><ellipse cx="263.8" cy="1561.0" rx="74" ry="72" fill="url(#gshadow)"/><ellipse cx="404.0" cy="1561.0" rx="74" ry="72" fill="url(#gshadow)"/><ellipse cx="544.2" cy="1561.0" rx="74" ry="72" fill="url(#gshadow)"/><ellipse cx="684.4" cy="1561.0" rx="74" ry="72" fill="url(#gshadow)"/><ellipse cx="824.6" cy="1561.0" rx="74" ry="72" fill="url(#gshadow)"/><ellipse cx="964.8" cy="1561.0" rx="74" ry="72" fill="url(#gshadow)"/><ellipse cx="1105.0" cy="1561.0" rx="74" ry="72" fill="url(#gshadow)"/><ellipse cx="1245.2" cy="1561.0" rx="74" ry="72" fill="url(#gshadow)"/><ellipse cx="1385.4" cy="1561.0" rx="74" ry="72" fill="url(#gshadow)"/><ellipse cx="1525.6" cy="1561.0" rx="74" ry="72" fill="url(#gshadow)"/><ellipse cx="1665.8" cy="1561.0" rx="74" ry="72" fill="url(#gshadow)"/><rect x="237.9" y="380.2" width="186" height="114" rx="57" fill="#000" opacity="0.06"/><rect x="237.9" y="520.3" width="186" height="114" rx="57" fill="#000" opacity="0.06"/><rect x="237.9" y="660.4" width="186" height="114" rx="57" fill="#000" opacity="0.06"/><rect x="237.9" y="800.5" width="186" height="114" rx="57" fill="#000" opacity="0.06"/>
<circle cx="115.6" cy="288.1" r="57" fill="#7a4048" opacity="0.25"/><circle cx="115.6" cy="288.1" r="54.5" fill="url(#gdrop)"/><circle cx="255.8" cy="288.1" r="57" fill="#7a4048" opacity="0.25"/><circle cx="255.8" cy="288.1" r="54.5" fill="url(#gdrop)"/><circle cx="396.0" cy="288.1" r="57" fill="#7a4048" opacity="0.25"/><circle cx="396.0" cy="288.1" r="54.5" fill="url(#gdrop)"/><circle cx="536.2" cy="288.1" r="57" fill="#7a4048" opacity="0.25"/><circle cx="536.2" cy="288.1" r="54.5" fill="url(#gdrop)"/><circle cx="676.4" cy="288.1" r="57" fill="#7a4048" opacity="0.25"/><circle cx="676.4" cy="288.1" r="54.5" fill="url(#gdrop)"/><circle cx="1097.0" cy="288.1" r="57" fill="#7a4048" opacity="0.25"/><circle cx="1097.0" cy="288.1" r="54.5" fill="url(#gdrop)"/><circle cx="1237.2" cy="288.1" r="57" fill="#7a4048" opacity="0.25"/><circle cx="1237.2" cy="288.1" r="54.5" fill="url(#gdrop)"/><circle cx="1657.8" cy="288.1" r="57" fill="#7a4048" opacity="0.25"/><circle cx="1657.8" cy="288.1" r="54.5" fill="url(#gdrop)"/><circle cx="676.4" cy="428.2" r="57" fill="#7a4048" opacity="0.25"/><circle cx="676.4" cy="428.2" r="54.5" fill="url(#gdrop)"/><circle cx="1097.0" cy="428.2" r="57" fill="#7a4048" opacity="0.25"/><circle cx="1097.0" cy="428.2" r="54.5" fill="url(#gdrop)"/><circle cx="1237.2" cy="428.2" r="57" fill="#7a4048" opacity="0.25"/><circle cx="1237.2" cy="428.2" r="54.5" fill="url(#gdrop)"/><circle cx="1657.8" cy="428.2" r="57" fill="#7a4048" opacity="0.25"/><circle cx="1657.8" cy="428.2" r="54.5" fill="url(#gdrop)"/><circle cx="676.4" cy="568.3" r="57" fill="#7a4048" opacity="0.25"/><circle cx="676.4" cy="568.3" r="54.5" fill="url(#gdrop)"/><circle cx="816.6" cy="568.3" r="57" fill="#7a4048" opacity="0.25"/><circle cx="816.6" cy="568.3" r="54.5" fill="url(#gdrop)"/><circle cx="956.8" cy="568.3" r="57" fill="#7a4048" opacity="0.25"/><circle cx="956.8" cy="568.3" r="54.5" fill="url(#gdrop)"/><circle cx="1097.0" cy="568.3" r="57" fill="#7a4048" opacity="0.25"/><circle cx="1097.0" cy="568.3" r="54.5" fill="url(#gdrop)"/><circle cx="1237.2" cy="568.3" r="57" fill="#7a4048" opacity="0.25"/><circle cx="1237.2" cy="568.3" r="54.5" fill="url(#gdrop)"/><circle cx="1657.8" cy="568.3" r="57" fill="#7a4048" opacity="0.25"/><circle cx="1657.8" cy="568.3" r="54.5" fill="url(#gdrop)"/><circle cx="676.4" cy="708.4" r="62" fill="#7a4048" opacity="0.25"/><circle cx="676.4" cy="708.4" r="59.5" fill="url(#gdropb)"/><circle cx="1097.0" cy="708.4" r="57" fill="#7a4048" opacity="0.25"/><circle cx="1097.0" cy="708.4" r="54.5" fill="url(#gdrop)"/><circle cx="1237.2" cy="708.4" r="57" fill="#7a4048" opacity="0.25"/><circle cx="1237.2" cy="708.4" r="54.5" fill="url(#gdrop)"/><circle cx="1657.8" cy="708.4" r="57" fill="#7a4048" opacity="0.25"/><circle cx="1657.8" cy="708.4" r="54.5" fill="url(#gdrop)"/><circle cx="676.4" cy="848.5" r="57" fill="#7a4048" opacity="0.25"/><circle cx="676.4" cy="848.5" r="54.5" fill="url(#gdrop)"/><circle cx="1097.0" cy="848.5" r="57" fill="#7a4048" opacity="0.25"/><circle cx="1097.0" cy="848.5" r="54.5" fill="url(#gdrop)"/><circle cx="1377.4" cy="848.5" r="57" fill="#7a4048" opacity="0.25"/><circle cx="1377.4" cy="848.5" r="54.5" fill="url(#gdrop)"/><circle cx="1517.6" cy="848.5" r="57" fill="#7a4048" opacity="0.25"/><circle cx="1517.6" cy="848.5" r="54.5" fill="url(#gdrop)"/><circle cx="115.6" cy="988.6" r="57" fill="#7a4048" opacity="0.25"/><circle cx="115.6" cy="988.6" r="54.5" fill="url(#gdrop)"/><circle cx="255.8" cy="988.6" r="57" fill="#7a4048" opacity="0.25"/><circle cx="255.8" cy="988.6" r="54.5" fill="url(#gdrop)"/><circle cx="396.0" cy="988.6" r="57" fill="#7a4048" opacity="0.25"/><circle cx="396.0" cy="988.6" r="54.5" fill="url(#gdrop)"/><circle cx="536.2" cy="988.6" r="57" fill="#7a4048" opacity="0.25"/><circle cx="536.2" cy="988.6" r="54.5" fill="url(#gdrop)"/><circle cx="676.4" cy="988.6" r="57" fill="#7a4048" opacity="0.25"/><circle cx="676.4" cy="988.6" r="54.5" fill="url(#gdrop)"/><circle cx="816.6" cy="988.6" r="57" fill="#7a4048" opacity="0.25"/><circle cx="816.6" cy="988.6" r="54.5" fill="url(#gdrop)"/><circle cx="956.8" cy="988.6" r="57" fill="#7a4048" opacity="0.25"/><circle cx="956.8" cy="988.6" r="54.5" fill="url(#gdrop)"/><circle cx="1097.0" cy="988.6" r="57" fill="#7a4048" opacity="0.25"/><circle cx="1097.0" cy="988.6" r="54.5" fill="url(#gdrop)"/><circle cx="1237.2" cy="988.6" r="57" fill="#7a4048" opacity="0.25"/><circle cx="1237.2" cy="988.6" r="54.5" fill="url(#gdrop)"/><circle cx="1377.4" cy="988.6" r="57" fill="#7a4048" opacity="0.25"/><circle cx="1377.4" cy="988.6" r="54.5" fill="url(#gdrop)"/><circle cx="1517.6" cy="988.6" r="57" fill="#7a4048" opacity="0.25"/><circle cx="1517.6" cy="988.6" r="54.5" fill="url(#gdrop)"/><circle cx="1657.8" cy="988.6" r="57" fill="#7a4048" opacity="0.25"/><circle cx="1657.8" cy="988.6" r="54.5" fill="url(#gdrop)"/><circle cx="115.6" cy="1128.7" r="57" fill="#7a4048" opacity="0.25"/><circle cx="115.6" cy="1128.7" r="54.5" fill="url(#gdrop)"/><circle cx="676.4" cy="1128.7" r="57" fill="#7a4048" opacity="0.25"/><circle cx="676.4" cy="1128.7" r="54.5" fill="url(#gdrop)"/><circle cx="956.8" cy="1128.7" r="57" fill="#7a4048" opacity="0.25"/><circle cx="956.8" cy="1128.7" r="54.5" fill="url(#gdrop)"/><circle cx="1377.4" cy="1128.7" r="57" fill="#7a4048" opacity="0.25"/><circle cx="1377.4" cy="1128.7" r="54.5" fill="url(#gdrop)"/><circle cx="115.6" cy="1268.8" r="57" fill="#7a4048" opacity="0.25"/><circle cx="115.6" cy="1268.8" r="54.5" fill="url(#gdrop)"/><circle cx="255.8" cy="1268.8" r="57" fill="#7a4048" opacity="0.25"/><circle cx="255.8" cy="1268.8" r="54.5" fill="url(#gdrop)"/><circle cx="396.0" cy="1268.8" r="57" fill="#7a4048" opacity="0.25"/><circle cx="396.0" cy="1268.8" r="54.5" fill="url(#gdrop)"/><circle cx="676.4" cy="1268.8" r="57" fill="#7a4048" opacity="0.25"/><circle cx="676.4" cy="1268.8" r="54.5" fill="url(#gdrop)"/><circle cx="956.8" cy="1268.8" r="57" fill="#7a4048" opacity="0.25"/><circle cx="956.8" cy="1268.8" r="54.5" fill="url(#gdrop)"/><circle cx="1097.0" cy="1268.8" r="57" fill="#7a4048" opacity="0.25"/><circle cx="1097.0" cy="1268.8" r="54.5" fill="url(#gdrop)"/><circle cx="1237.2" cy="1268.8" r="57" fill="#7a4048" opacity="0.25"/><circle cx="1237.2" cy="1268.8" r="54.5" fill="url(#gdrop)"/><circle cx="1377.4" cy="1268.8" r="57" fill="#7a4048" opacity="0.25"/><circle cx="1377.4" cy="1268.8" r="54.5" fill="url(#gdrop)"/><circle cx="1517.6" cy="1268.8" r="57" fill="#7a4048" opacity="0.25"/><circle cx="1517.6" cy="1268.8" r="54.5" fill="url(#gdrop)"/><circle cx="1657.8" cy="1268.8" r="57" fill="#7a4048" opacity="0.25"/><circle cx="1657.8" cy="1268.8" r="54.5" fill="url(#gdrop)"/><circle cx="396.0" cy="1408.9" r="57" fill="#7a4048" opacity="0.25"/><circle cx="396.0" cy="1408.9" r="54.5" fill="url(#gdrop)"/><circle cx="676.4" cy="1408.9" r="57" fill="#7a4048" opacity="0.25"/><circle cx="676.4" cy="1408.9" r="54.5" fill="url(#gdrop)"/><circle cx="956.8" cy="1408.9" r="57" fill="#7a4048" opacity="0.25"/><circle cx="956.8" cy="1408.9" r="54.5" fill="url(#gdrop)"/><circle cx="1237.2" cy="1408.9" r="57" fill="#7a4048" opacity="0.25"/><circle cx="1237.2" cy="1408.9" r="54.5" fill="url(#gdrop)"/><circle cx="1657.8" cy="1408.9" r="57" fill="#7a4048" opacity="0.25"/><circle cx="1657.8" cy="1408.9" r="54.5" fill="url(#gdrop)"/><circle cx="115.6" cy="1549.0" r="57" fill="#7a4048" opacity="0.25"/><circle cx="115.6" cy="1549.0" r="54.5" fill="url(#gdrop)"/><circle cx="255.8" cy="1549.0" r="57" fill="#7a4048" opacity="0.25"/><circle cx="255.8" cy="1549.0" r="54.5" fill="url(#gdrop)"/><circle cx="396.0" cy="1549.0" r="57" fill="#7a4048" opacity="0.25"/><circle cx="396.0" cy="1549.0" r="54.5" fill="url(#gdrop)"/><circle cx="536.2" cy="1549.0" r="57" fill="#7a4048" opacity="0.25"/><circle cx="536.2" cy="1549.0" r="54.5" fill="url(#gdrop)"/><circle cx="676.4" cy="1549.0" r="57" fill="#7a4048" opacity="0.25"/><circle cx="676.4" cy="1549.0" r="54.5" fill="url(#gdrop)"/><circle cx="816.6" cy="1549.0" r="57" fill="#7a4048" opacity="0.25"/><circle cx="816.6" cy="1549.0" r="54.5" fill="url(#gdrop)"/><circle cx="956.8" cy="1549.0" r="57" fill="#7a4048" opacity="0.25"/><circle cx="956.8" cy="1549.0" r="54.5" fill="url(#gdrop)"/><circle cx="1097.0" cy="1549.0" r="57" fill="#7a4048" opacity="0.25"/><circle cx="1097.0" cy="1549.0" r="54.5" fill="url(#gdrop)"/><circle cx="1237.2" cy="1549.0" r="57" fill="#7a4048" opacity="0.25"/><circle cx="1237.2" cy="1549.0" r="54.5" fill="url(#gdrop)"/><circle cx="1377.4" cy="1549.0" r="57" fill="#7a4048" opacity="0.25"/><circle cx="1377.4" cy="1549.0" r="54.5" fill="url(#gdrop)"/><circle cx="1517.6" cy="1549.0" r="57" fill="#7a4048" opacity="0.25"/><circle cx="1517.6" cy="1549.0" r="54.5" fill="url(#gdrop)"/><circle cx="1657.8" cy="1549.0" r="57" fill="#7a4048" opacity="0.25"/><circle cx="1657.8" cy="1549.0" r="54.5" fill="url(#gdrop)"/>
<rect x="238.9" y="374.7" width="174" height="107" rx="53.5" fill="#111" opacity="0.25"/><rect x="240.9" y="376.7" width="170" height="103" rx="51.5" fill="#111" opacity="0.45"/><rect x="242.4" y="378.2" width="167.0" height="100.0" rx="50.0" fill="#111" opacity="0.7"/><rect x="243.9" y="379.7" width="164" height="97" rx="48.5" fill="url(#gcap)"/><rect x="263.9" y="394.2" width="124" height="6" rx="3" fill="#555" opacity="0.55"/><rect x="238.9" y="514.8" width="174" height="107" rx="53.5" fill="#111" opacity="0.25"/><rect x="240.9" y="516.8" width="170" height="103" rx="51.5" fill="#111" opacity="0.45"/><rect x="242.4" y="518.3" width="167.0" height="100.0" rx="50.0" fill="#111" opacity="0.7"/><rect x="243.9" y="519.8" width="164" height="97" rx="48.5" fill="url(#gcap)"/><rect x="263.9" y="534.3" width="124" height="6" rx="3" fill="#555" opacity="0.55"/><rect x="238.9" y="654.9" width="174" height="107" rx="53.5" fill="#111" opacity="0.25"/><rect x="240.9" y="656.9" width="170" height="103" rx="51.5" fill="#111" opacity="0.45"/><rect x="242.4" y="658.4" width="167.0" height="100.0" rx="50.0" fill="#111" opacity="0.7"/><rect x="243.9" y="659.9" width="164" height="97" rx="48.5" fill="url(#gcap)"/><rect x="263.9" y="674.4" width="124" height="6" rx="3" fill="#555" opacity="0.55"/><rect x="238.9" y="795.0" width="174" height="107" rx="53.5" fill="#111" opacity="0.25"/><rect x="240.9" y="797.0" width="170" height="103" rx="51.5" fill="#111" opacity="0.45"/><rect x="242.4" y="798.5" width="167.0" height="100.0" rx="50.0" fill="#111" opacity="0.7"/><rect x="243.9" y="800.0" width="164" height="97" rx="48.5" fill="url(#gcap)"/><rect x="263.9" y="814.5" width="124" height="6" rx="3" fill="#555" opacity="0.55"/>
<path d="M536.2,288.1L115.6,288.1" fill="none" stroke="#ff0000" stroke-width="23" stroke-linecap="round" stroke-linejoin="round" stroke-dasharray="19 48.5" stroke-dashoffset="0"/>
<path d="M325.9,288.1L325.9,848.5" fill="none" stroke="#ff0000" stroke-width="23" stroke-linecap="round" stroke-linejoin="round" stroke-dasharray="19 48.5" stroke-dashoffset="0"/>
<path d="M676.4,288.1L676.4,848.5" fill="none" stroke="#ff0000" stroke-width="23" stroke-linecap="round" stroke-linejoin="round" stroke-dasharray="19 48.5" stroke-dashoffset="0"/>
<path d="M1097.0,568.3L676.4,568.3" fill="none" stroke="#ff0000" stroke-width="23" stroke-linecap="round" stroke-linejoin="round" stroke-dasharray="19 48.5" stroke-dashoffset="0"/>
<path d="M1097.0,288.1L1097.0,848.5" fill="none" stroke="#ff0000" stroke-width="23" stroke-linecap="round" stroke-linejoin="round" stroke-dasharray="19 48.5" stroke-dashoffset="0"/>
<path d="M1237.2,288.1L1237.2,655.0" fill="none" stroke="#ff0000" stroke-width="23" stroke-linecap="round" stroke-linejoin="round" stroke-dasharray="19 48.5" stroke-dashoffset="8"/>
<path d="M1657.8,288.1L1657.8,655.0" fill="none" stroke="#ff0000" stroke-width="23" stroke-linecap="round" stroke-linejoin="round" stroke-dasharray="19 48.5" stroke-dashoffset="8"/>
<path d="M396.0,988.6L115.6,988.6" fill="none" stroke="#ff0000" stroke-width="23" stroke-linecap="round" stroke-linejoin="round" stroke-dasharray="19 48.5" stroke-dashoffset="0"/>
<path d="M115.6,988.6L115.6,1268.8" fill="none" stroke="#ff0000" stroke-width="23" stroke-linecap="round" stroke-linejoin="round" stroke-dasharray="19 48.5" stroke-dashoffset="0"/>
<path d="M115.6,1268.8L396.0,1268.8" fill="none" stroke="#ff0000" stroke-width="23" stroke-linecap="round" stroke-linejoin="round" stroke-dasharray="19 48.5" stroke-dashoffset="0"/>
<path d="M396.0,1268.8L396.0,1549.0" fill="none" stroke="#ff0000" stroke-width="23" stroke-linecap="round" stroke-linejoin="round" stroke-dasharray="19 48.5" stroke-dashoffset="0"/>
<path d="M396.0,1549.0L115.6,1549.0" fill="none" stroke="#ff0000" stroke-width="23" stroke-linecap="round" stroke-linejoin="round" stroke-dasharray="19 48.5" stroke-dashoffset="0"/>
<path d="M816.6,988.6L536.2,988.6" fill="none" stroke="#ff0000" stroke-width="23" stroke-linecap="round" stroke-linejoin="round" stroke-dasharray="19 48.5" stroke-dashoffset="0"/>
<path d="M676.4,988.6L676.4,1549.0" fill="none" stroke="#ff0000" stroke-width="23" stroke-linecap="round" stroke-linejoin="round" stroke-dasharray="19 48.5" stroke-dashoffset="0"/>
<path d="M816.6,1549.0L536.2,1549.0" fill="none" stroke="#ff0000" stroke-width="23" stroke-linecap="round" stroke-linejoin="round" stroke-dasharray="19 48.5" stroke-dashoffset="0"/>
<path d="M1237.2,988.6L956.8,988.6" fill="none" stroke="#ff0000" stroke-width="23" stroke-linecap="round" stroke-linejoin="round" stroke-dasharray="19 48.5" stroke-dashoffset="0"/>
<path d="M956.8,988.6L956.8,1549.0" fill="none" stroke="#ff0000" stroke-width="23" stroke-linecap="round" stroke-linejoin="round" stroke-dasharray="19 48.5" stroke-dashoffset="0"/>
<path d="M956.8,1268.8L1237.2,1268.8" fill="none" stroke="#ff0000" stroke-width="23" stroke-linecap="round" stroke-linejoin="round" stroke-dasharray="19 48.5" stroke-dashoffset="0"/>
<path d="M1237.2,1268.8L1237.2,1549.0" fill="none" stroke="#ff0000" stroke-width="23" stroke-linecap="round" stroke-linejoin="round" stroke-dasharray="19 48.5" stroke-dashoffset="0"/>
<path d="M1237.2,1549.0L956.8,1549.0" fill="none" stroke="#ff0000" stroke-width="23" stroke-linecap="round" stroke-linejoin="round" stroke-dasharray="19 48.5" stroke-dashoffset="0"/>
<path d="M1657.8,988.6L1377.4,988.6" fill="none" stroke="#ff0000" stroke-width="23" stroke-linecap="round" stroke-linejoin="round" stroke-dasharray="19 48.5" stroke-dashoffset="0"/>
<path d="M1377.4,988.6L1377.4,1268.8" fill="none" stroke="#ff0000" stroke-width="23" stroke-linecap="round" stroke-linejoin="round" stroke-dasharray="19 48.5" stroke-dashoffset="0"/>
<path d="M1377.4,1268.8L1657.8,1268.8" fill="none" stroke="#ff0000" stroke-width="23" stroke-linecap="round" stroke-linejoin="round" stroke-dasharray="19 48.5" stroke-dashoffset="0"/>
<path d="M1657.8,1268.8L1657.8,1549.0" fill="none" stroke="#ff0000" stroke-width="23" stroke-linecap="round" stroke-linejoin="round" stroke-dasharray="19 48.5" stroke-dashoffset="0"/>
<path d="M1657.8,1549.0L1377.4,1549.0" fill="none" stroke="#ff0000" stroke-width="23" stroke-linecap="round" stroke-linejoin="round" stroke-dasharray="19 48.5" stroke-dashoffset="0"/>
<path d="M1237.2,655C1237.2,730 1320,855 1448,855C1576,855 1657.8,730 1657.8,655" fill="none" stroke="#ff0000" stroke-width="23" stroke-linecap="round" stroke-linejoin="round" stroke-dasharray="19 48.5" stroke-dashoffset="0"/>
<polyline points="1553,947 1594,919 1788,919" fill="none" stroke="#0000ff" stroke-width="6" stroke-linecap="round"/>
<path d="M1721,398 L1962,204 L2080,204 L2080,650 L1960,649 L1721,456 Z" fill="url(#gcone)"/>
<path d="M1721,398 L1771,357.8 L1771,496.3 L1721,456 Z" fill="#f3f3f8" opacity="0.52"/>
<rect x="1836" y="351" width="122" height="8" fill="#000"/>
<text x="1790" y="454.5" font-family="Liberation Serif, Times New Roman, serif" font-size="100.2">9mm</text>
<ellipse cx="2297" cy="738" rx="120" ry="52" fill="#000" opacity="0.85" filter="url(#fcshadow)"/>
<path d="M2219,640 V713 A77.5,50 0 0 0 2374,713 V640 Z" fill="url(#gcore)"/>
<path d="M2182,186 V652 A113.5,70 0 0 0 2409,652 V186 Z" fill="#f6d6d6"/>
<path d="M2182.5,188.9A113,57.1 0 0 0 2408.5,188.9M2182.5,194.2A113,57.2 0 0 0 2408.5,194.2M2182.5,199.5A113,57.4 0 0 0 2408.5,199.5M2182.5,204.8A113,57.5 0 0 0 2408.5,204.8M2182.5,210.1A113,57.7 0 0 0 2408.5,210.1M2182.5,215.4A113,57.8 0 0 0 2408.5,215.4M2182.5,220.7A113,58.0 0 0 0 2408.5,220.7M2182.5,226.0A113,58.1 0 0 0 2408.5,226.0M2182.5,231.3A113,58.3 0 0 0 2408.5,231.3M2182.5,236.6A113,58.4 0 0 0 2408.5,236.6M2182.5,241.9A113,58.6 0 0 0 2408.5,241.9M2182.5,247.2A113,58.7 0 0 0 2408.5,247.2M2182.5,252.5A113,58.9 0 0 0 2408.5,252.5M2182.5,257.8A113,59.0 0 0 0 2408.5,257.8M2182.5,263.1A113,59.2 0 0 0 2408.5,263.1M2182.5,268.4A113,59.3 0 0 0 2408.5,268.4M2182.5,273.8A113,59.4 0 0 0 2408.5,273.8M2182.5,279.1A113,59.6 0 0 0 2408.5,279.1M2182.5,284.4A113,59.7 0 0 0 2408.5,284.4M2182.5,289.7A113,59.9 0 0 0 2408.5,289.7M2182.5,295.0A113,60.0 0 0 0 2408.5,295.0M2182.5,300.3A113,60.2 0 0 0 2408.5,300.3M2182.5,305.6A113,60.3 0 0 0 2408.5,305.6M2182.5,310.9A113,60.5 0 0 0 2408.5,310.9M2182.5,316.2A113,60.6 0 0 0 2408.5,316.2M2182.5,321.5A113,60.8 0 0 0 2408.5,321.5M2182.5,326.8A113,60.9 0 0 0 2408.5,326.8M2182.5,332.1A113,61.1 0 0 0 2408.5,332.1M2182.5,337.4A113,61.2 0 0 0 2408.5,337.4M2182.5,342.7A113,61.4 0 0 0 2408.5,342.7M2182.5,348.0A113,61.5 0 0 0 2408.5,348.0M2182.5,353.3A113,61.7 0 0 0 2408.5,353.3M2182.5,358.6A113,61.8 0 0 0 2408.5,358.6M2182.5,363.9A113,62.0 0 0 0 2408.5,363.9M2182.5,369.2A113,62.1 0 0 0 2408.5,369.2M2182.5,374.5A113,62.3 0 0 0 2408.5,374.5M2182.5,379.8A113,62.4 0 0 0 2408.5,379.8M2182.5,385.1A113,62.6 0 0 0 2408.5,385.1M2182.5,390.4A113,62.7 0 0 0 2408.5,390.4M2182.5,395.7A113,62.8 0 0 0 2408.5,395.7M2182.5,401.0A113,63.0 0 0 0 2408.5,401.0M2182.5,406.3A113,63.1 0 0 0 2408.5,406.3M2182.5,411.6A113,63.3 0 0 0 2408.5,411.6M2182.5,416.9A113,63.4 0 0 0 2408.5,416.9M2182.5,422.2A113,63.6 0 0 0 2408.5,422.2M2182.5,427.5A113,63.7 0 0 0 2408.5,427.5M2182.5,432.8A113,63.9 0 0 0 2408.5,432.8M2182.5,438.1A113,64.0 0 0 0 2408.5,438.1M2182.5,443.4A113,64.2 0 0 0 2408.5,443.4M2182.5,448.7A113,64.3 0 0 0 2408.5,448.7M2182.5,454.0A113,64.5 0 0 0 2408.5,454.0M2182.5,459.3A113,64.6 0 0 0 2408.5,459.3M2182.5,464.6A113,64.8 0 0 0 2408.5,464.6M2182.5,469.9A113,64.9 0 0 0 2408.5,469.9M2182.5,475.2A113,65.1 0 0 0 2408.5,475.2M2182.5,480.5A113,65.2 0 0 0 2408.5,480.5M2182.5,485.8A113,65.4 0 0 0 2408.5,485.8M2182.5,491.1A113,65.5 0 0 0 2408.5,491.1M2182.5,496.4A113,65.7 0 0 0 2408.5,496.4M2182.5,501.7A113,65.8 0 0 0 2408.5,501.7M2182.5,507.0A113,66.0 0 0 0 2408.5,507.0M2182.5,512.3A113,66.1 0 0 0 2408.5,512.3M2182.5,517.6A113,66.3 0 0 0 2408.5,517.6M2182.5,523.0A113,66.4 0 0 0 2408.5,523.0M2182.5,528.3A113,66.5 0 0 0 2408.5,528.3M2182.5,533.6A113,66.7 0 0 0 2408.5,533.6M2182.5,538.9A113,66.8 0 0 0 2408.5,538.9M2182.5,544.2A113,67.0 0 0 0 2408.5,544.2M2182.5,549.5A113,67.1 0 0 0 2408.5,549.5M2182.5,554.8A113,67.3 0 0 0 2408.5,554.8M2182.5,560.1A113,67.4 0 0 0 2408.5,560.1M2182.5,565.4A113,67.6 0 0 0 2408.5,565.4M2182.5,570.7A113,67.7 0 0 0 2408.5,570.7M2182.5,576.0A113,67.9 0 0 0 2408.5,576.0M2182.5,581.3A113,68.0 0 0 0 2408.5,581.3M2182.5,586.6A113,68.2 0 0 0 2408.5,586.6M2182.5,591.9A113,68.3 0 0 0 2408.5,591.9M2182.5,597.2A113,68.5 0 0 0 2408.5,597.2M2182.5,602.5A113,68.6 0 0 0 2408.5,602.5M2182.5,607.8A113,68.8 0 0 0 2408.5,607.8M2182.5,613.1A113,68.9 0 0 0 2408.5,613.1M2182.5,618.4A113,69.1 0 0 0 2408.5,618.4M2182.5,623.7A113,69.2 0 0 0 2408.5,623.7M2182.5,629.0A113,69.4 0 0 0 2408.5,629.0M2182.5,634.3A113,69.5 0 0 0 2408.5,634.3M2182.5,639.6A113,69.7 0 0 0 2408.5,639.6M2182.5,644.9A113,69.8 0 0 0 2408.5,644.9M2182.5,650.2A113,69.9 0 0 0 2408.5,650.2" fill="none" stroke="#dc9494" stroke-width="2.2"/>
<ellipse cx="2295.5" cy="186" rx="113.5" ry="57" fill="#fdf2f2"/>
<ellipse cx="2295.5" cy="186" rx="112.0" ry="56.0" fill="none" stroke="#e3a0a0" stroke-width="1.8"/><ellipse cx="2295.5" cy="186" rx="107.7" ry="53.4" fill="none" stroke="#e3a0a0" stroke-width="1.8"/><ellipse cx="2295.5" cy="186" rx="103.4" ry="50.8" fill="none" stroke="#e3a0a0" stroke-width="1.8"/><ellipse cx="2295.5" cy="186" rx="99.1" ry="48.2" fill="none" stroke="#e3a0a0" stroke-width="1.8"/><ellipse cx="2295.5" cy="186" rx="94.8" ry="45.6" fill="none" stroke="#e3a0a0" stroke-width="1.8"/><ellipse cx="2295.5" cy="186" rx="90.5" ry="43.0" fill="none" stroke="#e3a0a0" stroke-width="1.8"/><ellipse cx="2295.5" cy="186" rx="86.2" ry="40.4" fill="none" stroke="#e3a0a0" stroke-width="1.8"/>
<path d="M2218,121.5 V186 A77.5,46 0 0 0 2373,186 V121.5 Z" fill="url(#gcore)"/>
<ellipse cx="2295.5" cy="121.5" rx="77.5" ry="50" fill="#767676"/>
<text x="1863.5" y="952" font-family="Liberation Serif, Times New Roman, serif" font-size="100.2" font-weight="bold" fill="#0000ff">Droplet Robot</text>
<rect x="2499" y="98" width="1628" height="740" fill="#ebf1e0"/>
<polygon points="2600,539.4 4025,538.8 4127,655 2499,655.6" fill="#7a9642"/>
<polygon points="2499,448.6 2600,448.6 2600,539.4 2499,655.6" fill="#d8d8d8"/>
<polygon points="4025,448.6 4127,413 4127,654 4025,538.8" fill="#d8d8d8"/>
<rect x="2499" y="253.5" width="1628" height="30.2" fill="#5e5e5e"/>
<polygon points="2499,253.5 2605,281 2605,414 2499,414" fill="#808080"/>
<polygon points="2605,266.5 2722,283.7 2722,414 2605,414" fill="#bebebe"/>
<rect x="2722" y="283.7" width="1186" height="130" fill="#fff1d2"/>
<polygon points="3908,283.6 4022,265.6 4022,414 3908,414" fill="#bebebe"/>
<rect x="4022" y="283.6" width="105" height="130.4" fill="#808080"/>
<polygon points="2499,413 4127,413 4025,448.6 2499,448.6" fill="#5e5e5e"/>
<path d="M3232,413.3 A81,90 0 0 1 3394,413.3 Z" fill="#000"/>
<rect x="3258" y="457.5" width="110.3" height="81" fill="#ff0000"/>
<rect x="3258" y="538.4" width="110.3" height="79.6" fill="#0000ff"/>
<text transform="translate(3316.7,498) rotate(90)" text-anchor="middle" y="30" font-family="Liberation Serif, Times New Roman, serif" font-size="88" fill="#fff">N</text>
<text transform="translate(3316.7,578) rotate(90)" text-anchor="middle" y="30" font-family="Liberation Serif, Times New Roman, serif" font-size="88" fill="#fff">S</text>
<path d="M3288,457.5 C3285,400 3266,354 3240,354.5 C3203,355 3191,450 3191,543 C3191,640 3210,720 3242,720 C3270,720 3285,660 3288,618" fill="none" stroke="#ee44cc" stroke-width="3"/>
<path d="M3337,457.5 C3340,400 3355,354 3379,354.5 C3416,355 3428,450 3428,543 C3428,640 3410,720 3380,720 C3353,720 3340,660 3337,618" fill="none" stroke="#ee44cc" stroke-width="3"/>
<path d="M3304,457.5 C3300,400 3275,332 3215,324.7" fill="none" stroke="#ee44cc" stroke-width="3"/>
<path d="M3320,457.5 C3324,400 3350,330 3404,322.4" fill="none" stroke="#ee44cc" stroke-width="3"/>
<path d="M3304,618 C3300,670 3288,705 3263,723.3" fill="none" stroke="#ee44cc" stroke-width="3"/>
<path d="M3320,618 C3325,670 3340,705 3365,725.6" fill="none" stroke="#ee44cc" stroke-width="3"/>
<polygon points="3292,412 3308,412 3300,396" fill="#ee44cc"/>
<polygon points="3318,412 3334,412 3326,396" fill="#ee44cc"/>
<polygon points="3173,548 3189,548 3181,564" fill="#ee44cc"/>
<polygon points="3430,527 3446,527 3438,543" fill="#ee44cc"/>
<polygon points="3286,679 3302,679 3294,663" fill="#ee44cc"/>
<polygon points="3323,679 3339,679 3331,663" fill="#ee44cc"/>
<text x="2747.5" y="400.8" font-family="Liberation Serif, Times New Roman, serif" font-size="100.4">Silicon oil</text>
<text x="3480" y="400.5" font-family="Liberation Serif, Times New Roman, serif" font-size="99.9">Ferrofluid</text>
<text x="2780.6" y="802.7" font-family="Liberation Serif, Times New Roman, serif" font-size="99.7">Electromagnetic coil array</text>
<rect x="1946" y="1008.3" width="2210" height="780.7" rx="218" fill="#cce0f2" stroke="#b6b6b6" stroke-width="10"/>
<rect x="2100.5" y="1095.6" width="537" height="535.6" fill="#e1dee3"/>
<circle cx="2192" cy="1186.7" r="79.5" fill="#d8cccc" stroke="#ec8284" stroke-width="13"/><circle cx="2192" cy="1186.7" r="73" fill="none" stroke="#ffffff" stroke-opacity="0.35" stroke-width="2"/>
<circle cx="2369" cy="1186.7" r="79.5" fill="#d8cccc" stroke="#ec8284" stroke-width="13"/><circle cx="2369" cy="1186.7" r="73" fill="none" stroke="#ffffff" stroke-opacity="0.35" stroke-width="2"/>
<circle cx="2545" cy="1186.7" r="79.5" fill="#d8cccc" stroke="#ec8284" stroke-width="13"/><circle cx="2545" cy="1186.7" r="73" fill="none" stroke="#ffffff" stroke-opacity="0.35" stroke-width="2"/>
<circle cx="2192" cy="1363" r="79.5" fill="#d8cccc" stroke="#ec8284" stroke-width="13"/><circle cx="2192" cy="1363" r="73" fill="none" stroke="#ffffff" stroke-opacity="0.35" stroke-width="2"/>
<circle cx="2369" cy="1363" r="79.5" fill="#d8cccc" stroke="#ec8284" stroke-width="13"/><circle cx="2369" cy="1363" r="73" fill="none" stroke="#ffffff" stroke-opacity="0.35" stroke-width="2"/>
<circle cx="2545" cy="1363" r="79.5" fill="#d8cccc" stroke="#8ccde4" stroke-width="13"/><circle cx="2545" cy="1363" r="73" fill="none" stroke="#ffffff" stroke-opacity="0.35" stroke-width="2"/>
<circle cx="2192" cy="1538" r="79.5" fill="#d8cccc" stroke="#ec8284" stroke-width="13"/><circle cx="2192" cy="1538" r="73" fill="none" stroke="#ffffff" stroke-opacity="0.35" stroke-width="2"/>
<circle cx="2369" cy="1538" r="79.5" fill="#d8cccc" stroke="#ec8284" stroke-width="13"/><circle cx="2369" cy="1538" r="73" fill="none" stroke="#ffffff" stroke-opacity="0.35" stroke-width="2"/>
<circle cx="2545" cy="1538" r="79.5" fill="#d8cccc" stroke="#ec8284" stroke-width="13"/><circle cx="2545" cy="1538" r="73" fill="none" stroke="#ffffff" stroke-opacity="0.35" stroke-width="2"/>
<rect x="2783.7" y="1095.6" width="537" height="535.6" fill="#e1dee3"/>
<circle cx="2875.9" cy="1188" r="79.5" fill="#d8cccc" stroke="#ec8284" stroke-width="13"/><circle cx="2875.9" cy="1188" r="73" fill="none" stroke="#ffffff" stroke-opacity="0.35" stroke-width="2"/>
<circle cx="3052" cy="1188" r="79.5" fill="#d8cccc" stroke="#ec8284" stroke-width="13"/><circle cx="3052" cy="1188" r="73" fill="none" stroke="#ffffff" stroke-opacity="0.35" stroke-width="2"/>
<circle cx="3228.6" cy="1188" r="79.5" fill="#d8cccc" stroke="#ec8284" stroke-width="13"/><circle cx="3228.6" cy="1188" r="73" fill="none" stroke="#ffffff" stroke-opacity="0.35" stroke-width="2"/>
<circle cx="2875.9" cy="1362.6" r="79.5" fill="#d8cccc" stroke="#8ccde4" stroke-width="13"/><circle cx="2875.9" cy="1362.6" r="73" fill="none" stroke="#ffffff" stroke-opacity="0.35" stroke-width="2"/>
<circle cx="3052" cy="1362.6" r="79.5" fill="#d8cccc" stroke="#ec8284" stroke-width="13"/><circle cx="3052" cy="1362.6" r="73" fill="none" stroke="#ffffff" stroke-opacity="0.35" stroke-width="2"/>
<circle cx="3228.6" cy="1362.6" r="79.5" fill="#d8cccc" stroke="#8ccde4" stroke-width="13"/><circle cx="3228.6" cy="1362.6" r="73" fill="none" stroke="#ffffff" stroke-opacity="0.35" stroke-width="2"/>
<circle cx="2875.9" cy="1539" r="79.5" fill="#d8cccc" stroke="#ec8284" stroke-width="13"/><circle cx="2875.9" cy="1539" r="73" fill="none" stroke="#ffffff" stroke-opacity="0.35" stroke-width="2"/>
<circle cx="3052" cy="1539" r="79.5" fill="#d8cccc" stroke="#ec8284" stroke-width="13"/><circle cx="3052" cy="1539" r="73" fill="none" stroke="#ffffff" stroke-opacity="0.35" stroke-width="2"/>
<circle cx="3228.6" cy="1539" r="79.5" fill="#d8cccc" stroke="#ec8284" stroke-width="13"/><circle cx="3228.6" cy="1539" r="73" fill="none" stroke="#ffffff" stroke-opacity="0.35" stroke-width="2"/>
<rect x="3465.8" y="1095.6" width="537" height="535.6" fill="#e1dee3"/>
<clipPath id="clipm"><rect x="3465.8" y="1095.6" width="537" height="535.6"/></clipPath><g clip-path="url(#clipm)">
<circle cx="3563.6" cy="1194.3" r="79.5" fill="#d8cccc" stroke="#ec8284" stroke-width="13"/><circle cx="3563.6" cy="1194.3" r="73" fill="none" stroke="#ffffff" stroke-opacity="0.35" stroke-width="2"/>
<circle cx="3740" cy="1194.3" r="79.5" fill="#d8cccc" stroke="#ec8284" stroke-width="13"/><circle cx="3740" cy="1194.3" r="73" fill="none" stroke="#ffffff" stroke-opacity="0.35" stroke-width="2"/>
<circle cx="3916.3" cy="1194.3" r="79.5" fill="#d8cccc" stroke="#ec8284" stroke-width="13"/><circle cx="3916.3" cy="1194.3" r="73" fill="none" stroke="#ffffff" stroke-opacity="0.35" stroke-width="2"/>
<circle cx="3563.6" cy="1369" r="79.5" fill="#d8cccc" stroke="#ec8284" stroke-width="13"/><circle cx="3563.6" cy="1369" r="73" fill="none" stroke="#ffffff" stroke-opacity="0.35" stroke-width="2"/>
<circle cx="3740" cy="1369" r="79.5" fill="#d8cccc" stroke="#8ccde4" stroke-width="13"/><circle cx="3740" cy="1369" r="73" fill="none" stroke="#ffffff" stroke-opacity="0.35" stroke-width="2"/>
<circle cx="3916.3" cy="1369" r="79.5" fill="#d8cccc" stroke="#ec8284" stroke-width="13"/><circle cx="3916.3" cy="1369" r="73" fill="none" stroke="#ffffff" stroke-opacity="0.35" stroke-width="2"/>
<circle cx="3563.6" cy="1544.6" r="79.5" fill="#d8cccc" stroke="#ec8284" stroke-width="13"/><circle cx="3563.6" cy="1544.6" r="73" fill="none" stroke="#ffffff" stroke-opacity="0.35" stroke-width="2"/>
<circle cx="3740" cy="1544.6" r="79.5" fill="#d8cccc" stroke="#ec8284" stroke-width="13"/><circle cx="3740" cy="1544.6" r="73" fill="none" stroke="#ffffff" stroke-opacity="0.35" stroke-width="2"/>
<circle cx="3916.3" cy="1544.6" r="79.5" fill="#d8cccc" stroke="#ec8284" stroke-width="13"/><circle cx="3916.3" cy="1544.6" r="73" fill="none" stroke="#ffffff" stroke-opacity="0.35" stroke-width="2"/>
</g>
<ellipse cx="2412" cy="1378" rx="84" ry="46" fill="#000" opacity="0.35" filter="url(#fblurc2)"/>
<ellipse cx="2400.5" cy="1363" rx="80.5" ry="44" fill="#050505" filter="url(#fblurc)"/>
<ellipse cx="2395" cy="1350" rx="45" ry="9" fill="#555" opacity="0.5" filter="url(#fblurc)"/>
<path d="M2918,1362 C2918,1296 3000,1296 3052,1352 C3104,1296 3184,1296 3184,1362 C3184,1428 3104,1428 3052,1372 C3000,1428 2918,1428 2918,1362 Z" fill="#050505" filter="url(#fblurc)"/>
<ellipse cx="3583" cy="1380" rx="68" ry="40" fill="#000" opacity="0.35" filter="url(#fblurc2)"/>
<ellipse cx="3575.7" cy="1369" rx="66" ry="37" fill="#050505" filter="url(#fblurc)"/>
<ellipse cx="3912" cy="1380" rx="68" ry="40" fill="#000" opacity="0.35" filter="url(#fblurc2)"/>
<ellipse cx="3904" cy="1369" rx="66" ry="37" fill="#050505" filter="url(#fblurc)"/>
<polygon points="2486.7,1359.75 2525.7,1359.75 2525.7,1353.5 2546.7,1363 2525.7,1372.5 2525.7,1366.25 2486.7,1366.25" fill="#0000ff"/>
<polygon points="2934,1359.35 2891,1359.35 2891,1353.1 2870,1362.6 2891,1372.1 2891,1365.85 2934,1365.85" fill="#0000ff"/>
<polygon points="3171,1359.35 3211.6,1359.35 3211.6,1353.1 3232.6,1362.6 3211.6,1372.1 3211.6,1365.85 3171,1365.85" fill="#0000ff"/>
<polygon points="3640,1365.75 3679,1365.75 3679,1359.5 3700,1369 3679,1378.5 3679,1372.25 3640,1372.25" fill="#0000ff"/>
<polygon points="3844,1365.75 3805,1365.75 3805,1359.5 3784,1369 3805,1378.5 3805,1372.25 3844,1372.25" fill="#0000ff"/>
<text x="2122.5" y="1721.7" font-family="Liberation Serif, Times New Roman, serif" font-size="100.6">Locomotion</text>
<text x="2875.4" y="1721.7" font-family="Liberation Serif, Times New Roman, serif" font-size="100.9">Splitting</text>
<text x="3560.6" y="1721.7" font-family="Liberation Serif, Times New Roman, serif" font-size="100.9">Merging</text>
<rect x="184" y="1980.5" width="2462" height="1030.5" fill="url(#gdbg)"/>
<polygon points="52.7,2085 144.8,2062.7 144.8,2432.5 55,2394.4" fill="url(#gtower)"/>
<polygon points="144.8,2062.7 248.9,2072 248.9,2431 144.8,2432.5" fill="url(#gfront)"/>
<polygon points="148,2250 248,2249 248,2253 148,2254" fill="#cfcfcf"/>
<rect x="150" y="2257" width="96" height="168" fill="#161616"/>
<rect x="243" y="2367" width="5" height="22" fill="#e02020"/>
<rect x="151" y="2088" width="6" height="135" fill="#2a2a2a"/>
<circle cx="233" cy="2100" r="3.2" fill="#888"/>
<rect x="226" y="2158" width="5" height="14" fill="#2a5ab0"/>
<polygon points="257.5,2087.5 536.8,2099 543,2315 263.8,2332.5" fill="#0c0c0c"/>
<polygon points="262,2092 533,2103 537.5,2303 266.5,2315" fill="url(#gscreen)"/>
<polygon points="280,2150 455,2172 455,2185 280,2168" fill="#2a6cd0" opacity="0.45"/>
<polygon points="280,2225 455,2208 455,2220 280,2250" fill="#2a6cd0" opacity="0.4"/>
<polygon points="452.7,2165 478,2160 478,2197 452.7,2199" fill="#46a8f5"/>
<polygon points="481,2159 511,2152 511,2196 481,2197" fill="#46a8f5"/>
<polygon points="452.7,2202 478,2200 478,2236 452.7,2230" fill="#3d9cf0"/>
<polygon points="481,2200 511,2199 511,2246 481,2238" fill="#3d9cf0"/>
<text x="272" y="2328" font-family="Liberation Sans, sans-serif" font-size="8" fill="#ccc">Lenovo</text>
<rect x="375" y="2330" width="22" height="22" fill="#1a1a1a"/>
<polygon points="322.5,2354.8 449.5,2348.4 481.3,2365.9 381.3,2378.6 322.5,2362.7" fill="#1c1c1c"/>
<polygon points="294,2399.2 528.9,2381.7 571.7,2402.4 303.5,2432.5" fill="#111"/>
<path d="M298.9,2403.5l5.2,-0.4v3.3l-5.2,0.4zM306.3,2403.0l5.2,-0.4v3.3l-5.2,0.4zM313.7,2402.4l5.2,-0.4v3.3l-5.2,0.4zM321.0,2401.8l5.2,-0.4v3.3l-5.2,0.4zM328.4,2401.3l5.2,-0.4v3.3l-5.2,0.4zM335.7,2400.7l5.2,-0.4v3.3l-5.2,0.4zM343.1,2400.2l5.2,-0.4v3.3l-5.2,0.4zM350.5,2399.6l5.2,-0.4v3.3l-5.2,0.4zM357.8,2399.1l5.2,-0.4v3.3l-5.2,0.4zM365.2,2398.5l5.2,-0.4v3.3l-5.2,0.4zM372.5,2397.9l5.2,-0.4v3.3l-5.2,0.4zM379.9,2397.4l5.2,-0.4v3.3l-5.2,0.4zM387.2,2396.8l5.2,-0.4v3.3l-5.2,0.4zM394.6,2396.3l5.2,-0.4v3.3l-5.2,0.4zM402.0,2395.7l5.2,-0.4v3.3l-5.2,0.4zM409.3,2395.1l5.2,-0.4v3.3l-5.2,0.4zM416.7,2394.6l5.2,-0.4v3.3l-5.2,0.4zM424.0,2394.0l5.2,-0.4v3.3l-5.2,0.4zM431.4,2393.5l5.2,-0.4v3.3l-5.2,0.4zM438.8,2392.9l5.2,-0.4v3.3l-5.2,0.4zM446.1,2392.4l5.2,-0.4v3.3l-5.2,0.4zM453.5,2391.8l5.2,-0.4v3.3l-5.2,0.4zM460.8,2391.2l5.2,-0.4v3.3l-5.2,0.4zM468.2,2390.7l5.2,-0.4v3.3l-5.2,0.4zM475.6,2390.1l5.2,-0.4v3.3l-5.2,0.4zM482.9,2389.6l5.2,-0.4v3.3l-5.2,0.4zM490.3,2389.0l5.2,-0.4v3.3l-5.2,0.4zM497.6,2388.5l5.2,-0.4v3.3l-5.2,0.4zM505.0,2387.9l5.2,-0.4v3.3l-5.2,0.4zM512.4,2387.3l5.2,-0.4v3.3l-5.2,0.4zM519.7,2386.8l5.2,-0.4v3.3l-5.2,0.4zM527.1,2386.2l5.2,-0.4v3.3l-5.2,0.4zM300.6,2408.7l5.2,-0.4v3.3l-5.2,0.4zM308.1,2408.1l5.2,-0.4v3.3l-5.2,0.4zM315.7,2407.5l5.2,-0.4v3.3l-5.2,0.4zM323.2,2406.9l5.2,-0.4v3.3l-5.2,0.4zM330.7,2406.2l5.2,-0.4v3.3l-5.2,0.4zM338.2,2405.6l5.2,-0.4v3.3l-5.2,0.4zM345.7,2405.0l5.2,-0.4v3.3l-5.2,0.4zM353.2,2404.4l5.2,-0.4v3.3l-5.2,0.4zM360.8,2403.8l5.2,-0.4v3.3l-5.2,0.4zM368.3,2403.2l5.2,-0.4v3.3l-5.2,0.4zM375.8,2402.6l5.2,-0.4v3.3l-5.2,0.4zM383.3,2402.0l5.2,-0.4v3.3l-5.2,0.4zM390.8,2401.4l5.2,-0.4v3.3l-5.2,0.4zM398.3,2400.8l5.2,-0.4v3.3l-5.2,0.4zM405.8,2400.2l5.2,-0.4v3.3l-5.2,0.4zM413.4,2399.5l5.2,-0.4v3.3l-5.2,0.4zM420.9,2398.9l5.2,-0.4v3.3l-5.2,0.4zM428.4,2398.3l5.2,-0.4v3.3l-5.2,0.4zM435.9,2397.7l5.2,-0.4v3.3l-5.2,0.4zM443.4,2397.1l5.2,-0.4v3.3l-5.2,0.4zM450.9,2396.5l5.2,-0.4v3.3l-5.2,0.4zM458.5,2395.9l5.2,-0.4v3.3l-5.2,0.4zM466.0,2395.3l5.2,-0.4v3.3l-5.2,0.4zM473.5,2394.7l5.2,-0.4v3.3l-5.2,0.4zM481.0,2394.1l5.2,-0.4v3.3l-5.2,0.4zM488.5,2393.5l5.2,-0.4v3.3l-5.2,0.4zM496.0,2392.8l5.2,-0.4v3.3l-5.2,0.4zM503.5,2392.2l5.2,-0.4v3.3l-5.2,0.4zM511.1,2391.6l5.2,-0.4v3.3l-5.2,0.4zM518.6,2391.0l5.2,-0.4v3.3l-5.2,0.4zM526.1,2390.4l5.2,-0.4v3.3l-5.2,0.4zM533.6,2389.8l5.2,-0.4v3.3l-5.2,0.4zM302.3,2413.9l5.2,-0.4v3.3l-5.2,0.4zM310.0,2413.2l5.2,-0.4v3.3l-5.2,0.4zM317.7,2412.5l5.2,-0.4v3.3l-5.2,0.4zM325.3,2411.9l5.2,-0.4v3.3l-5.2,0.4zM333.0,2411.2l5.2,-0.4v3.3l-5.2,0.4zM340.7,2410.6l5.2,-0.4v3.3l-5.2,0.4zM348.3,2409.9l5.2,-0.4v3.3l-5.2,0.4zM356.0,2409.2l5.2,-0.4v3.3l-5.2,0.4zM363.7,2408.6l5.2,-0.4v3.3l-5.2,0.4zM371.4,2407.9l5.2,-0.4v3.3l-5.2,0.4zM379.0,2407.2l5.2,-0.4v3.3l-5.2,0.4zM386.7,2406.6l5.2,-0.4v3.3l-5.2,0.4zM394.4,2405.9l5.2,-0.4v3.3l-5.2,0.4zM402.1,2405.3l5.2,-0.4v3.3l-5.2,0.4zM409.7,2404.6l5.2,-0.4v3.3l-5.2,0.4zM417.4,2403.9l5.2,-0.4v3.3l-5.2,0.4zM425.1,2403.3l5.2,-0.4v3.3l-5.2,0.4zM432.7,2402.6l5.2,-0.4v3.3l-5.2,0.4zM440.4,2402.0l5.2,-0.4v3.3l-5.2,0.4zM448.1,2401.3l5.2,-0.4v3.3l-5.2,0.4zM455.8,2400.6l5.2,-0.4v3.3l-5.2,0.4zM463.4,2400.0l5.2,-0.4v3.3l-5.2,0.4zM471.1,2399.3l5.2,-0.4v3.3l-5.2,0.4zM478.8,2398.7l5.2,-0.4v3.3l-5.2,0.4zM486.4,2398.0l5.2,-0.4v3.3l-5.2,0.4zM494.1,2397.3l5.2,-0.4v3.3l-5.2,0.4zM501.8,2396.7l5.2,-0.4v3.3l-5.2,0.4zM509.5,2396.0l5.2,-0.4v3.3l-5.2,0.4zM517.1,2395.3l5.2,-0.4v3.3l-5.2,0.4zM524.8,2394.7l5.2,-0.4v3.3l-5.2,0.4zM532.5,2394.0l5.2,-0.4v3.3l-5.2,0.4zM540.1,2393.4l5.2,-0.4v3.3l-5.2,0.4zM304.0,2419.0l5.2,-0.4v3.3l-5.2,0.4zM311.8,2418.3l5.2,-0.4v3.3l-5.2,0.4zM319.7,2417.6l5.2,-0.4v3.3l-5.2,0.4zM327.5,2416.9l5.2,-0.4v3.3l-5.2,0.4zM335.3,2416.2l5.2,-0.4v3.3l-5.2,0.4zM343.1,2415.5l5.2,-0.4v3.3l-5.2,0.4zM351.0,2414.8l5.2,-0.4v3.3l-5.2,0.4zM358.8,2414.0l5.2,-0.4v3.3l-5.2,0.4zM366.6,2413.3l5.2,-0.4v3.3l-5.2,0.4zM374.5,2412.6l5.2,-0.4v3.3l-5.2,0.4zM382.3,2411.9l5.2,-0.4v3.3l-5.2,0.4zM390.1,2411.2l5.2,-0.4v3.3l-5.2,0.4zM397.9,2410.5l5.2,-0.4v3.3l-5.2,0.4zM405.8,2409.8l5.2,-0.4v3.3l-5.2,0.4zM413.6,2409.1l5.2,-0.4v3.3l-5.2,0.4zM421.4,2408.3l5.2,-0.4v3.3l-5.2,0.4zM429.3,2407.6l5.2,-0.4v3.3l-5.2,0.4zM437.1,2406.9l5.2,-0.4v3.3l-5.2,0.4zM444.9,2406.2l5.2,-0.4v3.3l-5.2,0.4zM452.7,2405.5l5.2,-0.4v3.3l-5.2,0.4zM460.6,2404.8l5.2,-0.4v3.3l-5.2,0.4zM468.4,2404.1l5.2,-0.4v3.3l-5.2,0.4zM476.2,2403.3l5.2,-0.4v3.3l-5.2,0.4zM484.1,2402.6l5.2,-0.4v3.3l-5.2,0.4zM491.9,2401.9l5.2,-0.4v3.3l-5.2,0.4zM499.7,2401.2l5.2,-0.4v3.3l-5.2,0.4zM507.5,2400.5l5.2,-0.4v3.3l-5.2,0.4zM515.4,2399.8l5.2,-0.4v3.3l-5.2,0.4zM523.2,2399.1l5.2,-0.4v3.3l-5.2,0.4zM531.0,2398.3l5.2,-0.4v3.3l-5.2,0.4zM538.9,2397.6l5.2,-0.4v3.3l-5.2,0.4zM546.7,2396.9l5.2,-0.4v3.3l-5.2,0.4zM305.7,2424.2l5.2,-0.4v3.3l-5.2,0.4zM313.7,2423.5l5.2,-0.4v3.3l-5.2,0.4zM321.7,2422.7l5.2,-0.4v3.3l-5.2,0.4zM329.7,2421.9l5.2,-0.4v3.3l-5.2,0.4zM337.6,2421.2l5.2,-0.4v3.3l-5.2,0.4zM345.6,2420.4l5.2,-0.4v3.3l-5.2,0.4zM353.6,2419.6l5.2,-0.4v3.3l-5.2,0.4zM361.6,2418.9l5.2,-0.4v3.3l-5.2,0.4zM369.6,2418.1l5.2,-0.4v3.3l-5.2,0.4zM377.6,2417.3l5.2,-0.4v3.3l-5.2,0.4zM385.5,2416.6l5.2,-0.4v3.3l-5.2,0.4zM393.5,2415.8l5.2,-0.4v3.3l-5.2,0.4zM401.5,2415.0l5.2,-0.4v3.3l-5.2,0.4zM409.5,2414.3l5.2,-0.4v3.3l-5.2,0.4zM417.5,2413.5l5.2,-0.4v3.3l-5.2,0.4zM425.5,2412.7l5.2,-0.4v3.3l-5.2,0.4zM433.4,2412.0l5.2,-0.4v3.3l-5.2,0.4zM441.4,2411.2l5.2,-0.4v3.3l-5.2,0.4zM449.4,2410.4l5.2,-0.4v3.3l-5.2,0.4zM457.4,2409.7l5.2,-0.4v3.3l-5.2,0.4zM465.4,2408.9l5.2,-0.4v3.3l-5.2,0.4zM473.4,2408.1l5.2,-0.4v3.3l-5.2,0.4zM481.4,2407.4l5.2,-0.4v3.3l-5.2,0.4zM489.3,2406.6l5.2,-0.4v3.3l-5.2,0.4zM497.3,2405.8l5.2,-0.4v3.3l-5.2,0.4zM505.3,2405.1l5.2,-0.4v3.3l-5.2,0.4zM513.3,2404.3l5.2,-0.4v3.3l-5.2,0.4zM521.3,2403.5l5.2,-0.4v3.3l-5.2,0.4zM529.3,2402.8l5.2,-0.4v3.3l-5.2,0.4zM537.2,2402.0l5.2,-0.4v3.3l-5.2,0.4zM545.2,2401.2l5.2,-0.4v3.3l-5.2,0.4zM553.2,2400.5l5.2,-0.4v3.3l-5.2,0.4z" fill="#3a3a3a"/>
<rect x="841" y="2064.3" width="253.3" height="193.7" fill="#fefefe"/>
<polygon points="874.4,2085.7 961.7,2068.3 1090.3,2073 1022,2089.7" fill="url(#gcamtop)"/>
<polygon points="1022,2089.7 1090.3,2073 1092.7,2208.7 1023.7,2248.4" fill="url(#gcamside)"/>
<polygon points="874.4,2085.7 1022,2089.7 1023.7,2248.4 874.4,2238.9" fill="#303030"/>
<text transform="translate(1040,2168) rotate(-16)" font-family="Liberation Sans, sans-serif" font-weight="bold" font-style="italic" font-size="9.5" fill="#ddd">HIKVISION</text>
<circle cx="1029" cy="2134" r="4.5" fill="#111" stroke="#aaa" stroke-width="1.5"/><circle cx="1084" cy="2114" r="4.5" fill="#111" stroke="#aaa" stroke-width="1.5"/>
<ellipse cx="955" cy="2165" rx="58" ry="72" fill="#3a3a3a"/>
<polygon points="915,2108 955,2093 955,2237 915,2246" fill="#3a3a3a"/>
<circle cx="915.7" cy="2177" r="68.5" fill="#121212" stroke="#c4c4c4" stroke-width="7.5"/>
<circle cx="915.7" cy="2177" r="58" fill="none" stroke="#262626" stroke-width="12"/>
<rect x="898" y="2120" width="52" height="108" rx="4" fill="#060606"/>
<path d="M928,2124 H948 V2222 H935 C918,2200 915,2150 928,2124 Z" fill="#5e5e5e"/>
<rect x="1424.4" y="2064.6" width="249.8" height="196.7" fill="#fefefe"/>
<path d="M1470,2080 L1580,2082 L1630,2088 C1660,2100 1672,2130 1672,2162 C1672,2195 1660,2225 1630,2237 L1580,2242 L1470,2245 Z" fill="url(#glens)"/>
<path d="M1515,2088.0H1570M1515,2095.2H1570M1515,2102.4H1570M1515,2109.6H1570M1515,2116.8H1570M1515,2124.0H1570M1515,2131.2H1570M1515,2138.4H1570M1515,2145.6H1570M1515,2152.8H1570M1515,2160.0H1570M1515,2167.2H1570M1515,2174.4H1570M1515,2181.6H1570M1515,2188.8H1570M1515,2196.0H1570M1515,2203.2H1570M1515,2210.4H1570M1515,2217.6H1570M1515,2224.8H1570M1515,2232.0H1570M1515,2239.2H1570" stroke="#0a0a0a" stroke-width="2.4"/>
<path d="M1585,2100.0H1605M1585,2107.0H1605M1585,2114.0H1605M1585,2121.0H1605M1585,2128.0H1605M1585,2135.0H1605M1585,2142.0H1605M1585,2149.0H1605M1585,2156.0H1605M1585,2163.0H1605M1585,2170.0H1605M1585,2177.0H1605M1585,2184.0H1605M1585,2191.0H1605M1585,2198.0H1605M1585,2205.0H1605M1585,2212.0H1605M1585,2219.0H1605M1585,2226.0H1605M1585,2233.0H1605" stroke="#0a0a0a" stroke-width="2"/>
<rect x="1612" y="2108" width="18" height="105" fill="#262626" stroke="#7a6a40" stroke-width="1"/>
<ellipse cx="1458" cy="2162" rx="27" ry="94" fill="#111" stroke="#262626" stroke-width="5"/>
<ellipse cx="1468" cy="2161" rx="13" ry="52" fill="#84857a"/>
<ellipse cx="1466" cy="2161" rx="6" ry="40" fill="#b7b5a6"/>
<clipPath id="clipws"><rect x="1952" y="2067" width="687.5" height="424.7"/></clipPath>
<g clip-path="url(#clipws)">
<rect x="1952" y="2067" width="687.5" height="424.7" fill="#dcdcdc"/>
<ellipse cx="2300" cy="2330" rx="360" ry="260" fill="#e4e4e4" stroke="#f4f4f4" stroke-width="6"/>
<ellipse cx="2123.6" cy="2068.0" rx="17.8" ry="15.3" fill="url(#gcopper)"/><ellipse cx="2162.3" cy="2068.0" rx="17.8" ry="15.3" fill="url(#gcopper)"/><ellipse cx="2201.1" cy="2068.0" rx="17.8" ry="15.3" fill="url(#gcopper)"/><ellipse cx="2239.9" cy="2068.0" rx="17.8" ry="15.3" fill="url(#gcopper)"/><ellipse cx="2278.6" cy="2068.0" rx="17.8" ry="15.3" fill="url(#gcopper)"/><ellipse cx="2317.4" cy="2068.0" rx="17.8" ry="15.3" fill="url(#gcopper)"/><ellipse cx="2356.1" cy="2068.0" rx="17.8" ry="15.3" fill="url(#gcopper)"/><ellipse cx="2394.9" cy="2068.0" rx="17.8" ry="15.3" fill="url(#gcopper)"/><ellipse cx="2433.7" cy="2068.0" rx="17.8" ry="15.3" fill="url(#gcopper)"/><ellipse cx="2472.4" cy="2068.0" rx="17.8" ry="15.3" fill="url(#gcopper)"/><ellipse cx="2511.2" cy="2068.0" rx="17.8" ry="15.3" fill="url(#gcopper)"/><ellipse cx="2550.0" cy="2068.0" rx="17.8" ry="15.3" fill="url(#gcopper)"/><ellipse cx="2118.0" cy="2095.0" rx="18.4" ry="15.8" fill="url(#gcopper)"/><ellipse cx="2158.0" cy="2095.0" rx="18.4" ry="15.8" fill="url(#gcopper)"/><ellipse cx="2198.0" cy="2095.0" rx="18.4" ry="15.8" fill="url(#gcopper)"/><ellipse cx="2238.0" cy="2095.0" rx="18.4" ry="15.8" fill="url(#gcopper)"/><ellipse cx="2278.0" cy="2095.0" rx="18.4" ry="15.8" fill="url(#gcopper)"/><ellipse cx="2318.0" cy="2095.0" rx="18.4" ry="15.8" fill="url(#gcopper)"/><ellipse cx="2358.0" cy="2095.0" rx="18.4" ry="15.8" fill="url(#gcopper)"/><ellipse cx="2398.0" cy="2095.0" rx="18.4" ry="15.8" fill="url(#gcopper)"/><ellipse cx="2438.0" cy="2095.0" rx="18.4" ry="15.8" fill="url(#gcopper)"/><ellipse cx="2478.0" cy="2095.0" rx="18.4" ry="15.8" fill="url(#gcopper)"/><ellipse cx="2518.0" cy="2095.0" rx="18.4" ry="15.8" fill="url(#gcopper)"/><ellipse cx="2558.0" cy="2095.0" rx="18.4" ry="15.8" fill="url(#gcopper)"/><ellipse cx="2111.4" cy="2127.0" rx="19.1" ry="16.4" fill="url(#gcopper)"/><ellipse cx="2152.9" cy="2127.0" rx="19.1" ry="16.4" fill="url(#gcopper)"/><ellipse cx="2194.3" cy="2127.0" rx="19.1" ry="16.4" fill="url(#gcopper)"/><ellipse cx="2235.8" cy="2127.0" rx="19.1" ry="16.4" fill="url(#gcopper)"/><ellipse cx="2277.3" cy="2127.0" rx="19.1" ry="16.4" fill="url(#gcopper)"/><ellipse cx="2318.7" cy="2127.0" rx="19.1" ry="16.4" fill="url(#gcopper)"/><ellipse cx="2360.2" cy="2127.0" rx="19.1" ry="16.4" fill="url(#gcopper)"/><ellipse cx="2401.7" cy="2127.0" rx="19.1" ry="16.4" fill="url(#gcopper)"/><ellipse cx="2443.1" cy="2127.0" rx="19.1" ry="16.4" fill="url(#gcopper)"/><ellipse cx="2484.6" cy="2127.0" rx="19.1" ry="16.4" fill="url(#gcopper)"/><ellipse cx="2526.0" cy="2127.0" rx="19.1" ry="16.4" fill="url(#gcopper)"/><ellipse cx="2567.5" cy="2127.0" rx="19.1" ry="16.4" fill="url(#gcopper)"/><ellipse cx="2105.0" cy="2158.0" rx="19.7" ry="17.0" fill="url(#gcopper)"/><ellipse cx="2147.9" cy="2158.0" rx="19.7" ry="17.0" fill="url(#gcopper)"/><ellipse cx="2190.8" cy="2158.0" rx="19.7" ry="17.0" fill="url(#gcopper)"/><ellipse cx="2233.7" cy="2158.0" rx="19.7" ry="17.0" fill="url(#gcopper)"/><ellipse cx="2276.6" cy="2158.0" rx="19.7" ry="17.0" fill="url(#gcopper)"/><ellipse cx="2319.4" cy="2158.0" rx="19.7" ry="17.0" fill="url(#gcopper)"/><ellipse cx="2362.3" cy="2158.0" rx="19.7" ry="17.0" fill="url(#gcopper)"/><ellipse cx="2405.2" cy="2158.0" rx="19.7" ry="17.0" fill="url(#gcopper)"/><ellipse cx="2448.1" cy="2158.0" rx="19.7" ry="17.0" fill="url(#gcopper)"/><ellipse cx="2491.0" cy="2158.0" rx="19.7" ry="17.0" fill="url(#gcopper)"/><ellipse cx="2533.8" cy="2158.0" rx="19.7" ry="17.0" fill="url(#gcopper)"/><ellipse cx="2576.7" cy="2158.0" rx="19.7" ry="17.0" fill="url(#gcopper)"/><ellipse cx="2054.6" cy="2188.0" rx="20.4" ry="17.5" fill="url(#gcopper)"/><ellipse cx="2098.9" cy="2188.0" rx="20.4" ry="17.5" fill="url(#gcopper)"/><ellipse cx="2143.1" cy="2188.0" rx="20.4" ry="17.5" fill="url(#gcopper)"/><ellipse cx="2187.4" cy="2188.0" rx="20.4" ry="17.5" fill="url(#gcopper)"/><ellipse cx="2231.6" cy="2188.0" rx="20.4" ry="17.5" fill="url(#gcopper)"/><ellipse cx="2275.9" cy="2188.0" rx="20.4" ry="17.5" fill="url(#gcopper)"/><ellipse cx="2320.1" cy="2188.0" rx="20.4" ry="17.5" fill="url(#gcopper)"/><ellipse cx="2364.4" cy="2188.0" rx="20.4" ry="17.5" fill="url(#gcopper)"/><ellipse cx="2408.6" cy="2188.0" rx="20.4" ry="17.5" fill="url(#gcopper)"/><ellipse cx="2452.9" cy="2188.0" rx="20.4" ry="17.5" fill="url(#gcopper)"/><ellipse cx="2497.1" cy="2188.0" rx="20.4" ry="17.5" fill="url(#gcopper)"/><ellipse cx="2541.4" cy="2188.0" rx="20.4" ry="17.5" fill="url(#gcopper)"/><ellipse cx="2585.6" cy="2188.0" rx="20.4" ry="17.5" fill="url(#gcopper)"/><ellipse cx="2046.6" cy="2220.0" rx="21.0" ry="18.1" fill="url(#gcopper)"/><ellipse cx="2092.3" cy="2220.0" rx="21.0" ry="18.1" fill="url(#gcopper)"/><ellipse cx="2138.0" cy="2220.0" rx="21.0" ry="18.1" fill="url(#gcopper)"/><ellipse cx="2183.7" cy="2220.0" rx="21.0" ry="18.1" fill="url(#gcopper)"/><ellipse cx="2229.4" cy="2220.0" rx="21.0" ry="18.1" fill="url(#gcopper)"/><ellipse cx="2275.1" cy="2220.0" rx="21.0" ry="18.1" fill="url(#gcopper)"/><ellipse cx="2320.9" cy="2220.0" rx="21.0" ry="18.1" fill="url(#gcopper)"/><ellipse cx="2366.6" cy="2220.0" rx="21.0" ry="18.1" fill="url(#gcopper)"/><ellipse cx="2412.3" cy="2220.0" rx="21.0" ry="18.1" fill="url(#gcopper)"/><ellipse cx="2458.0" cy="2220.0" rx="21.0" ry="18.1" fill="url(#gcopper)"/><ellipse cx="2503.7" cy="2220.0" rx="21.0" ry="18.1" fill="url(#gcopper)"/><ellipse cx="2549.4" cy="2220.0" rx="21.0" ry="18.1" fill="url(#gcopper)"/><ellipse cx="2595.1" cy="2220.0" rx="21.0" ry="18.1" fill="url(#gcopper)"/><ellipse cx="2039.0" cy="2250.0" rx="21.7" ry="18.6" fill="url(#gcopper)"/><ellipse cx="2086.1" cy="2250.0" rx="21.7" ry="18.6" fill="url(#gcopper)"/><ellipse cx="2133.2" cy="2250.0" rx="21.7" ry="18.6" fill="url(#gcopper)"/><ellipse cx="2180.3" cy="2250.0" rx="21.7" ry="18.6" fill="url(#gcopper)"/><ellipse cx="2227.4" cy="2250.0" rx="21.7" ry="18.6" fill="url(#gcopper)"/><ellipse cx="2274.5" cy="2250.0" rx="21.7" ry="18.6" fill="url(#gcopper)"/><ellipse cx="2321.5" cy="2250.0" rx="21.7" ry="18.6" fill="url(#gcopper)"/><ellipse cx="2368.6" cy="2250.0" rx="21.7" ry="18.6" fill="url(#gcopper)"/><ellipse cx="2415.7" cy="2250.0" rx="21.7" ry="18.6" fill="url(#gcopper)"/><ellipse cx="2462.8" cy="2250.0" rx="21.7" ry="18.6" fill="url(#gcopper)"/><ellipse cx="2509.9" cy="2250.0" rx="21.7" ry="18.6" fill="url(#gcopper)"/><ellipse cx="2557.0" cy="2250.0" rx="21.7" ry="18.6" fill="url(#gcopper)"/><ellipse cx="2604.1" cy="2250.0" rx="21.7" ry="18.6" fill="url(#gcopper)"/><ellipse cx="2031.0" cy="2282.0" rx="22.3" ry="19.2" fill="url(#gcopper)"/><ellipse cx="2079.5" cy="2282.0" rx="22.3" ry="19.2" fill="url(#gcopper)"/><ellipse cx="2128.1" cy="2282.0" rx="22.3" ry="19.2" fill="url(#gcopper)"/><ellipse cx="2176.6" cy="2282.0" rx="22.3" ry="19.2" fill="url(#gcopper)"/><ellipse cx="2225.2" cy="2282.0" rx="22.3" ry="19.2" fill="url(#gcopper)"/><ellipse cx="2273.7" cy="2282.0" rx="22.3" ry="19.2" fill="url(#gcopper)"/><ellipse cx="2322.3" cy="2282.0" rx="22.3" ry="19.2" fill="url(#gcopper)"/><ellipse cx="2370.8" cy="2282.0" rx="22.3" ry="19.2" fill="url(#gcopper)"/><ellipse cx="2419.4" cy="2282.0" rx="22.3" ry="19.2" fill="url(#gcopper)"/><ellipse cx="2467.9" cy="2282.0" rx="22.3" ry="19.2" fill="url(#gcopper)"/><ellipse cx="2516.5" cy="2282.0" rx="22.3" ry="19.2" fill="url(#gcopper)"/><ellipse cx="2565.0" cy="2282.0" rx="22.3" ry="19.2" fill="url(#gcopper)"/><ellipse cx="2613.6" cy="2282.0" rx="22.3" ry="19.2" fill="url(#gcopper)"/><ellipse cx="2022.7" cy="2315.0" rx="23.0" ry="19.8" fill="url(#gcopper)"/><ellipse cx="2072.7" cy="2315.0" rx="23.0" ry="19.8" fill="url(#gcopper)"/><ellipse cx="2122.8" cy="2315.0" rx="23.0" ry="19.8" fill="url(#gcopper)"/><ellipse cx="2172.9" cy="2315.0" rx="23.0" ry="19.8" fill="url(#gcopper)"/><ellipse cx="2222.9" cy="2315.0" rx="23.0" ry="19.8" fill="url(#gcopper)"/><ellipse cx="2273.0" cy="2315.0" rx="23.0" ry="19.8" fill="url(#gcopper)"/><ellipse cx="2323.0" cy="2315.0" rx="23.0" ry="19.8" fill="url(#gcopper)"/><ellipse cx="2373.1" cy="2315.0" rx="23.0" ry="19.8" fill="url(#gcopper)"/><ellipse cx="2423.1" cy="2315.0" rx="23.0" ry="19.8" fill="url(#gcopper)"/><ellipse cx="2473.2" cy="2315.0" rx="23.0" ry="19.8" fill="url(#gcopper)"/><ellipse cx="2523.3" cy="2315.0" rx="23.0" ry="19.8" fill="url(#gcopper)"/><ellipse cx="2573.3" cy="2315.0" rx="23.0" ry="19.8" fill="url(#gcopper)"/><ellipse cx="2623.4" cy="2315.0" rx="23.0" ry="19.8" fill="url(#gcopper)"/><ellipse cx="2013.1" cy="2353.0" rx="23.8" ry="20.5" fill="url(#gcopper)"/><ellipse cx="2064.9" cy="2353.0" rx="23.8" ry="20.5" fill="url(#gcopper)"/><ellipse cx="2116.7" cy="2353.0" rx="23.8" ry="20.5" fill="url(#gcopper)"/><ellipse cx="2168.5" cy="2353.0" rx="23.8" ry="20.5" fill="url(#gcopper)"/><ellipse cx="2220.3" cy="2353.0" rx="23.8" ry="20.5" fill="url(#gcopper)"/><ellipse cx="2272.1" cy="2353.0" rx="23.8" ry="20.5" fill="url(#gcopper)"/><ellipse cx="2323.9" cy="2353.0" rx="23.8" ry="20.5" fill="url(#gcopper)"/><ellipse cx="2375.7" cy="2353.0" rx="23.8" ry="20.5" fill="url(#gcopper)"/><ellipse cx="2427.5" cy="2353.0" rx="23.8" ry="20.5" fill="url(#gcopper)"/><ellipse cx="2479.3" cy="2353.0" rx="23.8" ry="20.5" fill="url(#gcopper)"/><ellipse cx="2531.1" cy="2353.0" rx="23.8" ry="20.5" fill="url(#gcopper)"/><ellipse cx="2582.9" cy="2353.0" rx="23.8" ry="20.5" fill="url(#gcopper)"/><ellipse cx="2634.7" cy="2353.0" rx="23.8" ry="20.5" fill="url(#gcopper)"/><ellipse cx="2002.1" cy="2397.0" rx="24.8" ry="21.3" fill="url(#gcopper)"/><ellipse cx="2055.9" cy="2397.0" rx="24.8" ry="21.3" fill="url(#gcopper)"/><ellipse cx="2109.7" cy="2397.0" rx="24.8" ry="21.3" fill="url(#gcopper)"/><ellipse cx="2163.5" cy="2397.0" rx="24.8" ry="21.3" fill="url(#gcopper)"/><ellipse cx="2217.3" cy="2397.0" rx="24.8" ry="21.3" fill="url(#gcopper)"/><ellipse cx="2271.1" cy="2397.0" rx="24.8" ry="21.3" fill="url(#gcopper)"/><ellipse cx="2324.9" cy="2397.0" rx="24.8" ry="21.3" fill="url(#gcopper)"/><ellipse cx="2378.7" cy="2397.0" rx="24.8" ry="21.3" fill="url(#gcopper)"/><ellipse cx="2432.5" cy="2397.0" rx="24.8" ry="21.3" fill="url(#gcopper)"/><ellipse cx="2486.3" cy="2397.0" rx="24.8" ry="21.3" fill="url(#gcopper)"/><ellipse cx="2540.1" cy="2397.0" rx="24.8" ry="21.3" fill="url(#gcopper)"/><ellipse cx="2593.9" cy="2397.0" rx="24.8" ry="21.3" fill="url(#gcopper)"/><ellipse cx="2647.7" cy="2397.0" rx="24.8" ry="21.3" fill="url(#gcopper)"/><ellipse cx="1990.0" cy="2445.0" rx="25.8" ry="22.2" fill="url(#gcopper)"/><ellipse cx="2046.0" cy="2445.0" rx="25.8" ry="22.2" fill="url(#gcopper)"/><ellipse cx="2102.0" cy="2445.0" rx="25.8" ry="22.2" fill="url(#gcopper)"/><ellipse cx="2158.0" cy="2445.0" rx="25.8" ry="22.2" fill="url(#gcopper)"/><ellipse cx="2214.0" cy="2445.0" rx="25.8" ry="22.2" fill="url(#gcopper)"/><ellipse cx="2270.0" cy="2445.0" rx="25.8" ry="22.2" fill="url(#gcopper)"/><ellipse cx="2326.0" cy="2445.0" rx="25.8" ry="22.2" fill="url(#gcopper)"/><ellipse cx="2382.0" cy="2445.0" rx="25.8" ry="22.2" fill="url(#gcopper)"/><ellipse cx="2438.0" cy="2445.0" rx="25.8" ry="22.2" fill="url(#gcopper)"/><ellipse cx="2494.0" cy="2445.0" rx="25.8" ry="22.2" fill="url(#gcopper)"/><ellipse cx="2550.0" cy="2445.0" rx="25.8" ry="22.2" fill="url(#gcopper)"/><ellipse cx="2606.0" cy="2445.0" rx="25.8" ry="22.2" fill="url(#gcopper)"/><ellipse cx="2662.0" cy="2445.0" rx="25.8" ry="22.2" fill="url(#gcopper)"/>
<rect x="1952" y="2067" width="687.5" height="424.7" fill="#e6e6e6" opacity="0.16"/><path d="M1960,2490 C1950,2300 2040,2120 2300,2075 M2639,2480 C2650,2330 2620,2150 2500,2072" stroke="#f6f6f6" stroke-width="7" fill="none" opacity="0.8"/>
</g>
<ellipse cx="2318" cy="2238" rx="19" ry="15" fill="#111"/>
<rect x="2292" y="2216" width="50.5" height="46" fill="none" stroke="#fff" stroke-width="5" stroke-dasharray="12 8"/>
<path d="M2342.5,2216 L2447,2186 M2342.5,2262 L2475,2292.5" stroke="#fff" stroke-width="5" stroke-dasharray="12 8"/>
<ellipse cx="2505.5" cy="2236" rx="91.6" ry="60.4" fill="#050505" stroke="#777" stroke-width="3"/>
<rect x="2104.2" y="2075" width="383.2" height="94.7" fill="#fff" stroke="#000" stroke-width="3.5"/>
<text x="2120.3" y="2143.5" font-family="Liberation Serif, Times New Roman, serif" font-size="80.5">Workspace</text>
<rect x="1952" y="2530.3" width="687.5" height="316" fill="#1e1e1e"/>
<rect x="1952" y="2530.3" width="687.5" height="85" fill="url(#gglass)"/>
<rect x="2050" y="2530.3" width="14" height="70" fill="#b8b8b8" opacity="0.5"/><rect x="2120" y="2530.3" width="8" height="70" fill="#c0c0c0" opacity="0.5"/><rect x="2170" y="2530.3" width="30" height="70" fill="#ffffff" opacity="0.6"/><rect x="2260" y="2530.3" width="10" height="70" fill="#b0b0b0" opacity="0.4"/><rect x="2300" y="2530.3" width="26" height="70" fill="#f8f8f8" opacity="0.6"/><rect x="2370" y="2530.3" width="8" height="70" fill="#a8a8a8" opacity="0.5"/><rect x="2420" y="2530.3" width="12" height="70" fill="#bdbdbd" opacity="0.5"/><rect x="2460" y="2530.3" width="22" height="70" fill="#ffffff" opacity="0.5"/>
<path d="M2045,2600 Q2050,2560 2100,2552 L2560,2552 Q2600,2560 2600,2600" stroke="#f4f4f4" stroke-width="4" fill="none" opacity="0.9"/>
<path d="M2050,2606 Q2300,2618 2590,2606" stroke="#9a9a9a" stroke-width="3" fill="none" opacity="0.6"/>
<path d="M2440,2540 l8,30 l-14,10 l12,15" stroke="#333" stroke-width="3" fill="none"/>
<polygon points="2600,2560 2640,2548 2640,2614 2590,2614" fill="#3a3a3a" opacity="0.8"/>
<rect x="1952" y="2614.8" width="687.5" height="44.2" fill="url(#gtan)"/>
<rect x="1952" y="2659" width="687.5" height="20" fill="#b86e48"/>
<path d="M2040,2659v20M2054,2659v20M2068,2659v20M2082,2659v20M2096,2659v20M2110,2659v20M2124,2659v20M2138,2659v20M2152,2659v20M2166,2659v20M2180,2659v20M2194,2659v20M2208,2659v20M2222,2659v20M2236,2659v20M2250,2659v20M2264,2659v20M2278,2659v20M2292,2659v20M2306,2659v20M2320,2659v20M2334,2659v20M2348,2659v20M2362,2659v20M2376,2659v20M2390,2659v20M2404,2659v20M2418,2659v20M2432,2659v20M2446,2659v20M2460,2659v20M2474,2659v20M2488,2659v20M2502,2659v20M2516,2659v20M2530,2659v20M2544,2659v20M2558,2659v20M2572,2659v20M2586,2659v20" stroke="#6a3a28" stroke-width="3"/>
<rect x="1952" y="2659" width="85" height="20" fill="#a0a0a0"/>
<rect x="1952" y="2679" width="687.5" height="14.3" fill="#3c8a44"/>
<rect x="1952" y="2693.3" width="687.5" height="125" fill="#1a1a1a"/>
<rect x="1952" y="2697" width="128" height="50" fill="#2a2a2a"/>
<path d="M1958,2766h6v7h-6zM1973,2766h6v7h-6zM1988,2766h6v7h-6zM2003,2766h6v7h-6zM2018,2766h6v7h-6zM2033,2766h6v7h-6zM2048,2766h6v7h-6zM2063,2766h6v7h-6z" fill="#cfcfcf"/>
<rect x="1952" y="2776" width="128" height="40" fill="#222"/>
<rect x="2100" y="2697" width="180" height="50" fill="#2a2a2a"/>
<path d="M2106,2766h6v7h-6zM2121,2766h6v7h-6zM2136,2766h6v7h-6zM2151,2766h6v7h-6zM2166,2766h6v7h-6zM2181,2766h6v7h-6zM2196,2766h6v7h-6zM2211,2766h6v7h-6zM2226,2766h6v7h-6zM2241,2766h6v7h-6zM2256,2766h6v7h-6zM2271,2766h6v7h-6z" fill="#cfcfcf"/>
<rect x="2100" y="2776" width="180" height="40" fill="#222"/>
<rect x="2310" y="2697" width="190" height="50" fill="#2a2a2a"/>
<path d="M2316,2766h6v7h-6zM2331,2766h6v7h-6zM2346,2766h6v7h-6zM2361,2766h6v7h-6zM2376,2766h6v7h-6zM2391,2766h6v7h-6zM2406,2766h6v7h-6zM2421,2766h6v7h-6zM2436,2766h6v7h-6zM2451,2766h6v7h-6zM2466,2766h6v7h-6zM2481,2766h6v7h-6z" fill="#cfcfcf"/>
<rect x="2310" y="2776" width="190" height="40" fill="#222"/>
<rect x="2530" y="2697" width="109.5" height="50" fill="#2a2a2a"/>
<path d="M2536,2766h6v7h-6zM2551,2766h6v7h-6zM2566,2766h6v7h-6zM2581,2766h6v7h-6zM2596,2766h6v7h-6zM2611,2766h6v7h-6zM2626,2766h6v7h-6z" fill="#cfcfcf"/>
<rect x="2530" y="2776" width="109.5" height="40" fill="#222"/>
<rect x="1952" y="2812" width="6" height="34.3" fill="#58a070"/><rect x="1959" y="2812" width="6" height="34.3" fill="#e8d870"/><rect x="1966" y="2812" width="6" height="34.3" fill="#9a9a9a"/><rect x="1973" y="2812" width="6" height="34.3" fill="#5878c0"/><rect x="1980" y="2812" width="6" height="34.3" fill="#eeeeee"/><rect x="1987" y="2812" width="6" height="34.3" fill="#e8d870"/><rect x="1994" y="2812" width="6" height="34.3" fill="#d88050"/><rect x="2001" y="2812" width="6" height="34.3" fill="#60a8b8"/><rect x="2008" y="2812" width="6" height="34.3" fill="#e8d870"/><rect x="2015" y="2812" width="6" height="34.3" fill="#d8a848"/><rect x="2022" y="2812" width="6" height="34.3" fill="#e8d870"/><rect x="2029" y="2812" width="6" height="34.3" fill="#c85050"/><rect x="2036" y="2812" width="6" height="34.3" fill="#d88050"/><rect x="2043" y="2812" width="6" height="34.3" fill="#f4f4f4"/><rect x="2050" y="2812" width="6" height="34.3" fill="#9a9a9a"/><rect x="2057" y="2812" width="6" height="34.3" fill="#58a070"/><rect x="2064" y="2812" width="6" height="34.3" fill="#58a070"/><rect x="2071" y="2812" width="6" height="34.3" fill="#f8f8f8"/><rect x="2078" y="2812" width="6" height="34.3" fill="#d88050"/><rect x="2085" y="2812" width="6" height="34.3" fill="#9a9a9a"/><rect x="2092" y="2812" width="6" height="34.3" fill="#9a9a9a"/><rect x="2099" y="2812" width="6" height="34.3" fill="#d88050"/><rect x="2106" y="2812" width="6" height="34.3" fill="#a070a8"/><rect x="2113" y="2812" width="6" height="34.3" fill="#60a8b8"/><rect x="2120" y="2812" width="6" height="34.3" fill="#5878c0"/><rect x="2127" y="2812" width="6" height="34.3" fill="#58a070"/><rect x="2134" y="2812" width="6" height="34.3" fill="#60a8b8"/><rect x="2141" y="2812" width="6" height="34.3" fill="#5878c0"/><rect x="2148" y="2812" width="6" height="34.3" fill="#9a9a9a"/><rect x="2155" y="2812" width="6" height="34.3" fill="#a070a8"/><rect x="2162" y="2812" width="6" height="34.3" fill="#f8f8f8"/><rect x="2169" y="2812" width="6" height="34.3" fill="#c85050"/><rect x="2176" y="2812" width="6" height="34.3" fill="#60a8b8"/><rect x="2183" y="2812" width="6" height="34.3" fill="#c8c8c8"/><rect x="2190" y="2812" width="6" height="34.3" fill="#d8a848"/><rect x="2197" y="2812" width="6" height="34.3" fill="#5878c0"/><rect x="2204" y="2812" width="6" height="34.3" fill="#c8c8c8"/><rect x="2211" y="2812" width="6" height="34.3" fill="#e8d870"/><rect x="2218" y="2812" width="6" height="34.3" fill="#c85050"/><rect x="2225" y="2812" width="6" height="34.3" fill="#f4f4f4"/><rect x="2232" y="2812" width="6" height="34.3" fill="#c8c8c8"/><rect x="2239" y="2812" width="6" height="34.3" fill="#c85050"/><rect x="2246" y="2812" width="6" height="34.3" fill="#f4f4f4"/><rect x="2253" y="2812" width="6" height="34.3" fill="#d88050"/><rect x="2260" y="2812" width="6" height="34.3" fill="#e8d870"/><rect x="2267" y="2812" width="6" height="34.3" fill="#f8f8f8"/><rect x="2274" y="2812" width="6" height="34.3" fill="#a070a8"/><rect x="2281" y="2812" width="6" height="34.3" fill="#f8f8f8"/><rect x="2288" y="2812" width="6" height="34.3" fill="#c8c8c8"/><rect x="2295" y="2812" width="6" height="34.3" fill="#a070a8"/><rect x="2302" y="2812" width="6" height="34.3" fill="#a070a8"/><rect x="2309" y="2812" width="6" height="34.3" fill="#f8f8f8"/><rect x="2316" y="2812" width="6" height="34.3" fill="#c8c8c8"/><rect x="2323" y="2812" width="6" height="34.3" fill="#e8d870"/><rect x="2330" y="2812" width="6" height="34.3" fill="#d88050"/><rect x="2337" y="2812" width="6" height="34.3" fill="#5878c0"/><rect x="2344" y="2812" width="6" height="34.3" fill="#eeeeee"/><rect x="2351" y="2812" width="6" height="34.3" fill="#d8a848"/><rect x="2358" y="2812" width="6" height="34.3" fill="#c85050"/><rect x="2365" y="2812" width="6" height="34.3" fill="#5878c0"/><rect x="2372" y="2812" width="6" height="34.3" fill="#d88050"/><rect x="2379" y="2812" width="6" height="34.3" fill="#58a070"/><rect x="2386" y="2812" width="6" height="34.3" fill="#f4f4f4"/><rect x="2393" y="2812" width="6" height="34.3" fill="#60a8b8"/><rect x="2400" y="2812" width="6" height="34.3" fill="#a070a8"/><rect x="2407" y="2812" width="6" height="34.3" fill="#c8c8c8"/><rect x="2414" y="2812" width="6" height="34.3" fill="#60a8b8"/><rect x="2421" y="2812" width="6" height="34.3" fill="#f4f4f4"/><rect x="2428" y="2812" width="6" height="34.3" fill="#a070a8"/><rect x="2435" y="2812" width="6" height="34.3" fill="#9a9a9a"/><rect x="2442" y="2812" width="6" height="34.3" fill="#a070a8"/><rect x="2449" y="2812" width="6" height="34.3" fill="#e8d870"/><rect x="2456" y="2812" width="6" height="34.3" fill="#eeeeee"/><rect x="2463" y="2812" width="6" height="34.3" fill="#9a9a9a"/><rect x="2470" y="2812" width="6" height="34.3" fill="#e8d870"/><rect x="2477" y="2812" width="6" height="34.3" fill="#a070a8"/><rect x="2484" y="2812" width="6" height="34.3" fill="#e8d870"/><rect x="2491" y="2812" width="6" height="34.3" fill="#58a070"/><rect x="2498" y="2812" width="6" height="34.3" fill="#eeeeee"/><rect x="2505" y="2812" width="6" height="34.3" fill="#60a8b8"/><rect x="2512" y="2812" width="6" height="34.3" fill="#c85050"/><rect x="2519" y="2812" width="6" height="34.3" fill="#f4f4f4"/><rect x="2526" y="2812" width="6" height="34.3" fill="#e8d870"/><rect x="2533" y="2812" width="6" height="34.3" fill="#60a8b8"/><rect x="2540" y="2812" width="6" height="34.3" fill="#f8f8f8"/><rect x="2547" y="2812" width="6" height="34.3" fill="#5878c0"/><rect x="2554" y="2812" width="6" height="34.3" fill="#f8f8f8"/><rect x="2561" y="2812" width="6" height="34.3" fill="#eeeeee"/><rect x="2568" y="2812" width="6" height="34.3" fill="#9a9a9a"/><rect x="2575" y="2812" width="6" height="34.3" fill="#e8d870"/><rect x="2582" y="2812" width="6" height="34.3" fill="#e8d870"/><rect x="2589" y="2812" width="6" height="34.3" fill="#d8a848"/><rect x="2596" y="2812" width="6" height="34.3" fill="#f8f8f8"/><rect x="2603" y="2812" width="6" height="34.3" fill="#60a8b8"/><rect x="2610" y="2812" width="6" height="34.3" fill="#58a070"/><rect x="2617" y="2812" width="6" height="34.3" fill="#60a8b8"/><rect x="2624" y="2812" width="6" height="34.3" fill="#e8d870"/><rect x="2631" y="2812" width="6" height="34.3" fill="#f4f4f4"/><rect x="2638" y="2812" width="6" height="34.3" fill="#f4f4f4"/>
<rect x="2029.4" y="2543.6" width="569.6" height="133.6" fill="none" stroke="#1565e6" stroke-width="6.5" stroke-dasharray="10 12" stroke-linecap="round"/>
<path d="M1950,2494 L2029.4,2543.6 M2632.3,2502 L2599,2543.6" stroke="#1565e6" stroke-width="6.5" stroke-dasharray="10 12" stroke-linecap="round"/>
<rect x="810.6" y="2585.4" width="311.3" height="238.1" fill="#fefefe"/>
<polygon points="815,2626 920,2587 1118,2748 1118,2758 1002,2821 815,2632" fill="#1c4ea6"/>
<circle cx="830.0" cy="2628.0" r="4" fill="#0f2f6a" stroke="#8fb4e8" stroke-width="1.5"/><circle cx="938.0" cy="2607.0" r="4" fill="#0f2f6a" stroke="#8fb4e8" stroke-width="1.5"/><circle cx="839.2" cy="2637.7" r="4" fill="#0f2f6a" stroke="#8fb4e8" stroke-width="1.5"/><circle cx="946.9" cy="2614.6" r="4" fill="#0f2f6a" stroke="#8fb4e8" stroke-width="1.5"/><circle cx="848.4" cy="2647.4" r="4" fill="#0f2f6a" stroke="#8fb4e8" stroke-width="1.5"/><circle cx="955.9" cy="2622.3" r="4" fill="#0f2f6a" stroke="#8fb4e8" stroke-width="1.5"/><circle cx="857.6" cy="2657.1" r="4" fill="#0f2f6a" stroke="#8fb4e8" stroke-width="1.5"/><circle cx="964.8" cy="2629.9" r="4" fill="#0f2f6a" stroke="#8fb4e8" stroke-width="1.5"/><circle cx="866.8" cy="2666.7" r="4" fill="#0f2f6a" stroke="#8fb4e8" stroke-width="1.5"/><circle cx="973.8" cy="2637.5" r="4" fill="#0f2f6a" stroke="#8fb4e8" stroke-width="1.5"/><circle cx="876.1" cy="2676.4" r="4" fill="#0f2f6a" stroke="#8fb4e8" stroke-width="1.5"/><circle cx="982.7" cy="2645.2" r="4" fill="#0f2f6a" stroke="#8fb4e8" stroke-width="1.5"/><circle cx="885.3" cy="2686.1" r="4" fill="#0f2f6a" stroke="#8fb4e8" stroke-width="1.5"/><circle cx="991.7" cy="2652.8" r="4" fill="#0f2f6a" stroke="#8fb4e8" stroke-width="1.5"/><circle cx="894.5" cy="2695.8" r="4" fill="#0f2f6a" stroke="#8fb4e8" stroke-width="1.5"/><circle cx="1000.6" cy="2660.4" r="4" fill="#0f2f6a" stroke="#8fb4e8" stroke-width="1.5"/><circle cx="903.7" cy="2705.5" r="4" fill="#0f2f6a" stroke="#8fb4e8" stroke-width="1.5"/><circle cx="1009.6" cy="2668.1" r="4" fill="#0f2f6a" stroke="#8fb4e8" stroke-width="1.5"/><circle cx="912.9" cy="2715.2" r="4" fill="#0f2f6a" stroke="#8fb4e8" stroke-width="1.5"/><circle cx="1018.5" cy="2675.7" r="4" fill="#0f2f6a" stroke="#8fb4e8" stroke-width="1.5"/><circle cx="922.1" cy="2724.8" r="4" fill="#0f2f6a" stroke="#8fb4e8" stroke-width="1.5"/><circle cx="1027.5" cy="2683.3" r="4" fill="#0f2f6a" stroke="#8fb4e8" stroke-width="1.5"/><circle cx="931.3" cy="2734.5" r="4" fill="#0f2f6a" stroke="#8fb4e8" stroke-width="1.5"/><circle cx="1036.4" cy="2690.9" r="4" fill="#0f2f6a" stroke="#8fb4e8" stroke-width="1.5"/><circle cx="940.5" cy="2744.2" r="4" fill="#0f2f6a" stroke="#8fb4e8" stroke-width="1.5"/><circle cx="1045.4" cy="2698.6" r="4" fill="#0f2f6a" stroke="#8fb4e8" stroke-width="1.5"/><circle cx="949.7" cy="2753.9" r="4" fill="#0f2f6a" stroke="#8fb4e8" stroke-width="1.5"/><circle cx="1054.3" cy="2706.2" r="4" fill="#0f2f6a" stroke="#8fb4e8" stroke-width="1.5"/><circle cx="958.9" cy="2763.6" r="4" fill="#0f2f6a" stroke="#8fb4e8" stroke-width="1.5"/><circle cx="1063.3" cy="2713.8" r="4" fill="#0f2f6a" stroke="#8fb4e8" stroke-width="1.5"/><circle cx="968.2" cy="2773.3" r="4" fill="#0f2f6a" stroke="#8fb4e8" stroke-width="1.5"/><circle cx="1072.2" cy="2721.5" r="4" fill="#0f2f6a" stroke="#8fb4e8" stroke-width="1.5"/><circle cx="977.4" cy="2782.9" r="4" fill="#0f2f6a" stroke="#8fb4e8" stroke-width="1.5"/><circle cx="1081.2" cy="2729.1" r="4" fill="#0f2f6a" stroke="#8fb4e8" stroke-width="1.5"/><circle cx="986.6" cy="2792.6" r="4" fill="#0f2f6a" stroke="#8fb4e8" stroke-width="1.5"/><circle cx="1090.1" cy="2736.7" r="4" fill="#0f2f6a" stroke="#8fb4e8" stroke-width="1.5"/><circle cx="995.8" cy="2802.3" r="4" fill="#0f2f6a" stroke="#8fb4e8" stroke-width="1.5"/><circle cx="1099.1" cy="2744.4" r="4" fill="#0f2f6a" stroke="#8fb4e8" stroke-width="1.5"/><circle cx="1005.0" cy="2812.0" r="4" fill="#0f2f6a" stroke="#8fb4e8" stroke-width="1.5"/><circle cx="1108.0" cy="2752.0" r="4" fill="#0f2f6a" stroke="#8fb4e8" stroke-width="1.5"/>
<polygon points="928,2680 960,2668 990,2690 958,2704" fill="#1a1a1a"/>
<polygon points="962,2712 1010,2700 1018,2722 970,2734" fill="#c8c8c8"/>
<polygon points="890,2601 925,2589 945,2640 910,2652" fill="#f0b020"/>
<polygon points="853,2610 888,2597 892,2613 857,2626" fill="#bdbdbd"/>
<polygon points="872,2630 905,2622 910,2660 878,2668" fill="#d8d4cc"/>
<polygon points="1010,2762 1080,2738 1092,2762 1022,2788" fill="#111"/>
<path d="M1040,2782 L1055,2810 M1055,2777 L1070,2805 M1070,2771 L1085,2799 M1085,2766 L1100,2794" stroke="#b0a890" stroke-width="2"/>
<rect x="1372.5" y="2615.5" width="354.8" height="209.6" fill="#64a036"/>
<path d="M1420,2650 Q1400,2690 1440,2690 L1700,2690 Q1720,2650 1680,2648 L1560,2648 Q1530,2630 1500,2640 Z" fill="#4a8a30" opacity="0.35"/>
<path d="M1430,2640h40M1500,2632h60M1580,2660h70M1440,2668h50" stroke="#e8e8d0" stroke-width="3" opacity="0.6"/>
<rect x="1460" y="2720" width="70" height="105" fill="#3e7e2c"/><rect x="1615" y="2720" width="70" height="105" fill="#3e7e2c"/>
<rect x="1428.0" y="2692" width="15" height="10" fill="#222"/><rect x="1420.0" y="2694" width="5" height="6" fill="#f0a040"/><rect x="1465.6" y="2692" width="15" height="10" fill="#222"/><rect x="1457.6" y="2694" width="5" height="6" fill="#f0a040"/><rect x="1503.2" y="2692" width="15" height="10" fill="#222"/><rect x="1495.2" y="2694" width="5" height="6" fill="#f0a040"/><rect x="1540.8" y="2692" width="15" height="10" fill="#222"/><rect x="1532.8" y="2694" width="5" height="6" fill="#f0a040"/><rect x="1578.4" y="2692" width="15" height="10" fill="#222"/><rect x="1570.4" y="2694" width="5" height="6" fill="#f0a040"/><rect x="1616.0" y="2692" width="15" height="10" fill="#222"/><rect x="1608.0" y="2694" width="5" height="6" fill="#f0a040"/><rect x="1653.6" y="2692" width="15" height="10" fill="#222"/><rect x="1645.6" y="2694" width="5" height="6" fill="#f0a040"/><rect x="1691.2" y="2692" width="15" height="10" fill="#222"/><rect x="1683.2" y="2694" width="5" height="6" fill="#f0a040"/>
<rect x="1378" y="2688" width="18" height="19" fill="#1a3ad0"/>
<rect x="1375.6" y="2743.3" width="17" height="46.3" rx="3" fill="url(#gres)"/><path d="M1375.6,2760h17M1375.6,2768h17M1375.6,2776h17" stroke="#0c3470" stroke-width="1.6"/><circle cx="1384.1" cy="2739" r="3" fill="#d8b040"/><circle cx="1384.1" cy="2794" r="3" fill="#d8b040"/><rect x="1397.7" y="2743.3" width="17" height="46.3" rx="3" fill="url(#gres)"/><path d="M1397.7,2760h17M1397.7,2768h17M1397.7,2776h17" stroke="#0c3470" stroke-width="1.6"/><circle cx="1406.2" cy="2739" r="3" fill="#d8b040"/><circle cx="1406.2" cy="2794" r="3" fill="#d8b040"/><rect x="1419.8" y="2743.3" width="17" height="46.3" rx="3" fill="url(#gres)"/><path d="M1419.8,2760h17M1419.8,2768h17M1419.8,2776h17" stroke="#0c3470" stroke-width="1.6"/><circle cx="1428.3" cy="2739" r="3" fill="#d8b040"/><circle cx="1428.3" cy="2794" r="3" fill="#d8b040"/><rect x="1441.9" y="2743.3" width="17" height="46.3" rx="3" fill="url(#gres)"/><path d="M1441.9,2760h17M1441.9,2768h17M1441.9,2776h17" stroke="#0c3470" stroke-width="1.6"/><circle cx="1450.4" cy="2739" r="3" fill="#d8b040"/><circle cx="1450.4" cy="2794" r="3" fill="#d8b040"/><rect x="1464.0" y="2743.3" width="17" height="46.3" rx="3" fill="url(#gres)"/><path d="M1464.0,2760h17M1464.0,2768h17M1464.0,2776h17" stroke="#0c3470" stroke-width="1.6"/><circle cx="1472.5" cy="2739" r="3" fill="#d8b040"/><circle cx="1472.5" cy="2794" r="3" fill="#d8b040"/><rect x="1486.1" y="2743.3" width="17" height="46.3" rx="3" fill="url(#gres)"/><path d="M1486.1,2760h17M1486.1,2768h17M1486.1,2776h17" stroke="#0c3470" stroke-width="1.6"/><circle cx="1494.6" cy="2739" r="3" fill="#d8b040"/><circle cx="1494.6" cy="2794" r="3" fill="#d8b040"/><rect x="1508.2" y="2743.3" width="17" height="46.3" rx="3" fill="url(#gres)"/><path d="M1508.2,2760h17M1508.2,2768h17M1508.2,2776h17" stroke="#0c3470" stroke-width="1.6"/><circle cx="1516.7" cy="2739" r="3" fill="#d8b040"/><circle cx="1516.7" cy="2794" r="3" fill="#d8b040"/><rect x="1530.3" y="2743.3" width="17" height="46.3" rx="3" fill="url(#gres)"/><path d="M1530.3,2760h17M1530.3,2768h17M1530.3,2776h17" stroke="#0c3470" stroke-width="1.6"/><circle cx="1538.8" cy="2739" r="3" fill="#d8b040"/><circle cx="1538.8" cy="2794" r="3" fill="#d8b040"/><rect x="1552.4" y="2743.3" width="17" height="46.3" rx="3" fill="url(#gres)"/><path d="M1552.4,2760h17M1552.4,2768h17M1552.4,2776h17" stroke="#0c3470" stroke-width="1.6"/><circle cx="1560.9" cy="2739" r="3" fill="#d8b040"/><circle cx="1560.9" cy="2794" r="3" fill="#d8b040"/><rect x="1574.5" y="2743.3" width="17" height="46.3" rx="3" fill="url(#gres)"/><path d="M1574.5,2760h17M1574.5,2768h17M1574.5,2776h17" stroke="#0c3470" stroke-width="1.6"/><circle cx="1583.0" cy="2739" r="3" fill="#d8b040"/><circle cx="1583.0" cy="2794" r="3" fill="#d8b040"/><rect x="1596.6" y="2743.3" width="17" height="46.3" rx="3" fill="url(#gres)"/><path d="M1596.6,2760h17M1596.6,2768h17M1596.6,2776h17" stroke="#0c3470" stroke-width="1.6"/><circle cx="1605.1" cy="2739" r="3" fill="#d8b040"/><circle cx="1605.1" cy="2794" r="3" fill="#d8b040"/><rect x="1618.7" y="2743.3" width="17" height="46.3" rx="3" fill="url(#gres)"/><path d="M1618.7,2760h17M1618.7,2768h17M1618.7,2776h17" stroke="#0c3470" stroke-width="1.6"/><circle cx="1627.2" cy="2739" r="3" fill="#d8b040"/><circle cx="1627.2" cy="2794" r="3" fill="#d8b040"/><rect x="1640.8" y="2743.3" width="17" height="46.3" rx="3" fill="url(#gres)"/><path d="M1640.8,2760h17M1640.8,2768h17M1640.8,2776h17" stroke="#0c3470" stroke-width="1.6"/><circle cx="1649.3" cy="2739" r="3" fill="#d8b040"/><circle cx="1649.3" cy="2794" r="3" fill="#d8b040"/><rect x="1662.9" y="2743.3" width="17" height="46.3" rx="3" fill="url(#gres)"/><path d="M1662.9,2760h17M1662.9,2768h17M1662.9,2776h17" stroke="#0c3470" stroke-width="1.6"/><circle cx="1671.4" cy="2739" r="3" fill="#d8b040"/><circle cx="1671.4" cy="2794" r="3" fill="#d8b040"/><rect x="1685.0" y="2743.3" width="17" height="46.3" rx="3" fill="url(#gres)"/><path d="M1685.0,2760h17M1685.0,2768h17M1685.0,2776h17" stroke="#0c3470" stroke-width="1.6"/><circle cx="1693.5" cy="2739" r="3" fill="#d8b040"/><circle cx="1693.5" cy="2794" r="3" fill="#d8b040"/><rect x="1707.1" y="2743.3" width="17" height="46.3" rx="3" fill="url(#gres)"/><path d="M1707.1,2760h17M1707.1,2768h17M1707.1,2776h17" stroke="#0c3470" stroke-width="1.6"/><circle cx="1715.6" cy="2739" r="3" fill="#d8b040"/><circle cx="1715.6" cy="2794" r="3" fill="#d8b040"/>
<circle cx="1376" cy="2622.0" r="2.6" fill="#fff"/><circle cx="1724" cy="2622.0" r="2.6" fill="#fff"/><circle cx="1376" cy="2636.2" r="2.6" fill="#fff"/><circle cx="1724" cy="2636.2" r="2.6" fill="#fff"/><circle cx="1376" cy="2650.4" r="2.6" fill="#fff"/><circle cx="1724" cy="2650.4" r="2.6" fill="#fff"/><circle cx="1376" cy="2664.6" r="2.6" fill="#fff"/><circle cx="1724" cy="2664.6" r="2.6" fill="#fff"/><circle cx="1376" cy="2678.8" r="2.6" fill="#fff"/><circle cx="1724" cy="2678.8" r="2.6" fill="#fff"/><circle cx="1376" cy="2693.0" r="2.6" fill="#fff"/><circle cx="1724" cy="2693.0" r="2.6" fill="#fff"/><circle cx="1376" cy="2707.2" r="2.6" fill="#fff"/><circle cx="1724" cy="2707.2" r="2.6" fill="#fff"/><circle cx="1376" cy="2721.4" r="2.6" fill="#fff"/><circle cx="1724" cy="2721.4" r="2.6" fill="#fff"/><circle cx="1376" cy="2735.6" r="2.6" fill="#fff"/><circle cx="1724" cy="2735.6" r="2.6" fill="#fff"/><circle cx="1376" cy="2749.8" r="2.6" fill="#fff"/><circle cx="1724" cy="2749.8" r="2.6" fill="#fff"/><circle cx="1376" cy="2764.0" r="2.6" fill="#fff"/><circle cx="1724" cy="2764.0" r="2.6" fill="#fff"/><circle cx="1376" cy="2778.2" r="2.6" fill="#fff"/><circle cx="1724" cy="2778.2" r="2.6" fill="#fff"/><circle cx="1376" cy="2792.4" r="2.6" fill="#fff"/><circle cx="1724" cy="2792.4" r="2.6" fill="#fff"/><circle cx="1376" cy="2806.6" r="2.6" fill="#fff"/><circle cx="1724" cy="2806.6" r="2.6" fill="#fff"/><circle cx="1376" cy="2820.8" r="2.6" fill="#fff"/><circle cx="1724" cy="2820.8" r="2.6" fill="#fff"/>
<polyline points="240,2565 279,2601 337,2547 379,2593 282,2686.5 332,2737 381,2690.5 423,2731.7 452,2702" fill="none" stroke="#4a9ff2" stroke-width="14" stroke-linejoin="round" stroke-linecap="round"/>
<path d="M242,2561.6 C232,2537.6 209,2519.6 209,2497.6 A33,33 0 1 1 275,2497.6 C275,2519.6 252,2537.6 242,2561.6 Z" fill="#ef1a1a"/><circle cx="242" cy="2497.6" r="13.5" fill="#fff"/>
<path d="M452,2702 C442,2678 419,2660 419,2638 A33,33 0 1 1 485,2638 C485,2660 462,2678 452,2702 Z" fill="#118a1a"/><circle cx="452" cy="2638" r="13.5" fill="#fff"/>
<polygon points="590.5,2171 677,2125.5 677,2148.6 809.5,2148.6 809.5,2195 677,2195 677,2216.7" fill="#4aaacf"/>
<polygon points="1122.7,2163 1207,2117.8 1207,2140.5 1342,2140.5 1342,2187.6 1207,2187.6 1207,2210" fill="#4aaacf"/>
<polygon points="1700.5,2179.5 1786.6,2134 1786.6,2156.8 1921,2156.8 1921,2202 1786.6,2202 1786.6,2224.8" fill="#4aaacf"/>
<polygon points="605,2682.5 730,2682.5 730,2662.7 813.5,2710 730,2753 730,2727.8 605,2727.8" fill="#e8751c"/>
<polygon points="1136.5,2692 1262,2692 1262,2670.6 1347,2717.5 1262,2761 1262,2733 1136.5,2733" fill="#e8751c"/>
<polygon points="1741.5,2707 1866.5,2707 1866.5,2688 1951,2733.6 1866.5,2778.8 1866.5,2754 1741.5,2754" fill="#e8751c"/>
<text x="824.6" y="2348" font-family="Liberation Serif, Times New Roman, serif" font-size="101.1">Camera</text>
<text x="1353.7" y="2349" font-family="Liberation Serif, Times New Roman, serif" font-size="100.3">Lens cone</text>
<text x="106.5" y="2864" font-family="Liberation Serif, Times New Roman, serif" font-size="100.3">Predefined</text>
<text x="323.3" y="2938" text-anchor="middle" font-family="Liberation Serif, Times New Roman, serif" font-size="100.5">paths</text>
<text x="866" y="2935.7" font-family="Liberation Serif, Times New Roman, serif" font-size="100.9">MCU</text>
<text x="1256" y="2935" font-family="Liberation Serif, Times New Roman, serif" font-size="100.1">Current output</text>
<text x="2100.8" y="2935" font-family="Liberation Serif, Times New Roman, serif" font-size="99.1">Coil array</text>
<rect x="31.5" y="3119.5" width="2608.5" height="1632.5" fill="#fdf8f5"/>
<path d="M543.45,3376.9H552.15V4541H543.45ZM554.39,3419.0H563.09V4541H554.39ZM565.34,3397.8H574.04V4541H565.34ZM576.28,3356.0H584.98V4541H576.28ZM587.22,3356.0H595.92V4541H587.22ZM598.16,3376.9H606.87V4541H598.16ZM609.11,3356.0H617.81V4541H609.11ZM620.05,3356.0H628.75V4541H620.05ZM630.99,3376.9H639.69V4541H630.99ZM641.94,3397.8H650.64V4541H641.94ZM652.88,3356.0H661.58V4541H652.88ZM663.82,3376.9H672.52V4541H663.82ZM674.77,3281.8H683.47V4541H674.77ZM685.71,3303.0H694.41V4541H685.71ZM696.65,3303.0H705.35V4541H696.65ZM707.59,3303.0H716.29V4541H707.59ZM718.54,3344.8H727.24V4541H718.54ZM729.48,3356.0H738.18V4541H729.48ZM740.42,3356.0H749.12V4541H740.42ZM751.37,3356.0H760.07V4541H751.37ZM762.31,3323.9H771.01V4541H762.31ZM773.25,3376.9H781.95V4541H773.25ZM784.20,3344.8H792.90V4541H784.20ZM795.14,3356.0H803.84V4541H795.14ZM806.08,3344.8H814.78V4541H806.08ZM817.02,3356.0H825.73V4541H817.02ZM827.97,3376.9H836.67V4541H827.97ZM838.91,3376.9H847.61V4541H838.91ZM849.85,3367.0H858.55V4541H849.85ZM860.80,3334.8H869.50V4541H860.80ZM871.74,3323.9H880.44V4541H871.74ZM882.68,3356.0H891.38V4541H882.68ZM893.63,3323.9H902.33V4541H893.63ZM904.57,3344.8H913.27V4541H904.57ZM915.51,3344.8H924.21V4541H915.51ZM926.45,3303.0H935.15V4541H926.45ZM937.40,3376.9H946.10V4541H937.40ZM948.34,3356.0H957.04V4541H948.34ZM959.28,3356.0H967.98V4541H959.28ZM970.23,3376.9H978.93V4541H970.23ZM981.17,3356.0H989.87V4541H981.17ZM992.11,3367.0H1000.81V4541H992.11ZM1003.06,3376.9H1011.76V4541H1003.06ZM1014.00,3419.0H1022.70V4541H1014.00ZM1024.94,3356.0H1033.64V4541H1024.94ZM1035.88,3376.9H1044.58V4541H1035.88ZM1046.83,3376.9H1055.53V4541H1046.83ZM1057.77,3419.0H1066.47V4541H1057.77ZM1068.71,3397.8H1077.41V4541H1068.71ZM1079.66,3376.9H1088.36V4541H1079.66ZM1090.60,3419.0H1099.30V4541H1090.60ZM1101.54,3376.9H1110.24V4541H1101.54ZM1112.49,3376.9H1121.19V4541H1112.49ZM1123.43,3397.8H1132.13V4541H1123.43ZM1134.37,3397.8H1143.07V4541H1134.37ZM1145.32,3376.9H1154.01V4541H1145.32ZM1156.26,3419.0H1164.96V4541H1156.26ZM1167.20,3376.9H1175.90V4541H1167.20ZM1178.14,3376.9H1186.84V4541H1178.14ZM1189.09,3397.8H1197.79V4541H1189.09ZM1200.03,3344.8H1208.73V4541H1200.03ZM1210.97,3323.9H1219.67V4541H1210.97ZM1221.92,3367.0H1230.62V4541H1221.92ZM1232.86,3344.8H1241.56V4541H1232.86ZM1243.80,3303.0H1252.50V4541H1243.80ZM1254.74,3303.0H1263.44V4541H1254.74ZM1265.69,3303.0H1274.39V4541H1265.69ZM1276.63,3356.0H1285.33V4541H1276.63ZM1287.57,3376.9H1296.27V4541H1287.57ZM1298.52,3356.0H1307.22V4541H1298.52ZM1309.46,3367.0H1318.16V4541H1309.46ZM1320.40,3397.8H1329.10V4541H1320.40ZM1331.35,3419.0H1340.05V4541H1331.35ZM1342.29,3419.0H1350.99V4541H1342.29ZM1353.23,3419.0H1361.93V4541H1353.23ZM1364.18,3419.0H1372.88V4541H1364.18ZM1375.12,3419.0H1383.82V4541H1375.12ZM1386.06,3397.8H1394.76V4541H1386.06ZM1397.00,3356.0H1405.70V4541H1397.00ZM1407.95,3356.0H1416.65V4541H1407.95ZM1418.89,3397.8H1427.59V4541H1418.89ZM1429.83,3376.9H1438.53V4541H1429.83ZM1440.78,3397.8H1449.48V4541H1440.78ZM1451.72,3419.0H1460.42V4541H1451.72ZM1462.66,3397.8H1471.36V4541H1462.66ZM1473.61,3356.0H1482.30V4541H1473.61ZM1484.55,3356.0H1493.25V4541H1484.55ZM1495.49,3323.9H1504.19V4541H1495.49ZM1506.43,3356.0H1515.13V4541H1506.43ZM1517.38,3323.9H1526.08V4541H1517.38ZM1528.32,3303.0H1537.02V4541H1528.32ZM1539.26,3344.8H1547.96V4541H1539.26ZM1550.21,3303.0H1558.91V4541H1550.21ZM1561.15,3344.8H1569.85V4541H1561.15ZM1572.09,3323.9H1580.79V4541H1572.09ZM1583.04,3376.9H1591.73V4541H1583.04ZM1593.98,3356.0H1602.68V4541H1593.98ZM1604.92,3376.9H1613.62V4541H1604.92ZM1615.86,3397.8H1624.56V4541H1615.86ZM1626.81,3397.8H1635.51V4541H1626.81ZM1637.75,3419.0H1646.45V4541H1637.75ZM1648.69,3419.0H1657.39V4541H1648.69ZM1659.64,3376.9H1668.34V4541H1659.64ZM1670.58,3356.0H1679.28V4541H1670.58ZM1681.52,3397.8H1690.22V4541H1681.52ZM1692.46,3397.8H1701.16V4541H1692.46ZM1703.41,3419.0H1712.11V4541H1703.41ZM1714.35,3376.9H1723.05V4541H1714.35ZM1725.29,3344.8H1733.99V4541H1725.29ZM1736.24,3356.0H1744.94V4541H1736.24ZM1747.18,3356.0H1755.88V4541H1747.18ZM1758.12,3303.0H1766.82V4541H1758.12ZM1769.07,3313.6H1777.77V4541H1769.07ZM1780.01,3356.0H1788.71V4541H1780.01ZM1790.95,3323.9H1799.65V4541H1790.95ZM1801.89,3334.8H1810.59V4541H1801.89ZM1812.84,3323.9H1821.54V4541H1812.84ZM1823.78,3344.8H1832.48V4541H1823.78ZM1834.72,3344.8H1843.42V4541H1834.72ZM1845.67,3303.0H1854.37V4541H1845.67ZM1856.61,3281.8H1865.31V4541H1856.61ZM1867.55,3344.8H1876.25V4541H1867.55ZM1878.50,3303.0H1887.20V4541H1878.50ZM1889.44,3323.9H1898.14V4541H1889.44ZM1900.38,3344.8H1909.08V4541H1900.38ZM1911.33,3356.0H1920.02V4541H1911.33ZM1922.27,3303.0H1930.97V4541H1922.27ZM1933.21,3344.8H1941.91V4541H1933.21ZM1944.15,3323.9H1952.85V4541H1944.15ZM1955.10,3356.0H1963.80V4541H1955.10ZM1966.04,3367.0H1974.74V4541H1966.04ZM1976.98,3387.8H1985.68V4541H1976.98ZM1987.93,3376.9H1996.63V4541H1987.93ZM1998.87,3409.0H2007.57V4541H1998.87ZM2009.81,3419.0H2018.51V4541H2009.81ZM2020.75,3419.0H2029.45V4541H2020.75ZM2031.70,3376.9H2040.40V4541H2031.70ZM2042.64,3356.0H2051.34V4541H2042.64ZM2053.58,3397.8H2062.28V4541H2053.58ZM2064.53,3419.0H2073.23V4541H2064.53ZM2075.47,3356.0H2084.17V4541H2075.47ZM2086.41,3419.0H2095.11V4541H2086.41ZM2097.36,3356.0H2106.06V4541H2097.36ZM2108.30,3376.9H2117.00V4541H2108.30Z" fill="url(#gbar)"/>
<path d="M545,3892H2116M545,4384H2116" stroke="#0a8a0a" stroke-width="6.5" stroke-dasharray="18 11.5"/>
<polyline points="547.7,4293.8 558.6,4378.2 569.6,4157.8 580.6,4378.2 591.6,4335.3 602.5,4243.7 613.5,4172.1 624.5,4199.3 635.4,4186.4 646.4,4130.6 657.4,4335.3 668.3,4237.9 679.3,4200.7 690.3,4292.3 701.2,4199.3 712.2,4199.3 723.2,4134.9 734.2,4049.0 745.1,4220.8 756.1,4237.9 767.1,4200.7 778.0,4237.9 789.0,4186.4 800.0,4253.7 811.0,4215.0 821.9,4321.0 832.9,4255.1 843.9,4289.5 854.8,4309.5 865.8,4295.2 876.8,4323.8 887.7,4255.1 898.7,4363.9 909.7,4289.5 920.7,4255.1 931.6,4363.9 942.6,4323.8 953.6,4266.6 964.5,4309.5 975.5,4266.6 986.5,4323.8 997.4,4255.1 1008.4,4240.8 1019.4,4142.0 1030.4,4142.0 1041.3,4200.7 1052.3,4295.2 1063.3,4309.5 1074.2,4309.5 1085.2,4220.8 1096.2,4031.8 1107.1,4063.3 1118.1,4114.9 1129.1,4117.7 1140.1,4134.9 1151.0,4341.0 1162.0,4206.5 1173.0,4063.3 1183.9,4086.2 1194.9,4172.1 1205.9,4175.0 1216.8,4117.7 1227.8,4235.1 1238.8,4243.7 1249.8,4034.7 1260.7,4132.0 1271.7,4134.9 1282.7,4103.4 1293.6,4087.7 1304.6,4175.0 1315.6,4132.0 1326.5,4087.7 1337.5,4352.4 1348.5,4212.2 1359.5,4149.2 1370.4,4134.9 1381.4,4197.9 1392.4,4006.1 1403.3,4103.4 1414.3,4103.4 1425.3,4034.7 1436.2,4134.9 1447.2,3894.4 1458.2,4054.7 1469.2,4212.2 1480.1,4200.7 1491.1,4089.1 1502.1,4197.9 1513.0,4120.6 1524.0,4049.0 1535.0,4255.1 1545.9,4106.3 1556.9,4137.8 1567.9,4183.6 1578.9,4134.9 1589.8,4154.9 1600.8,4169.2 1611.8,4240.8 1622.7,4103.4 1633.7,4200.7 1644.7,4200.7 1655.6,4266.6 1666.6,4217.9 1677.6,4252.3 1688.6,4134.9 1699.5,4046.1 1710.5,4289.5 1721.5,4323.8 1732.4,4280.9 1743.4,4266.6 1754.4,4074.8 1765.3,4149.2 1776.3,4117.7 1787.3,4046.1 1798.3,4200.7 1809.2,4255.1 1820.2,4140.6 1831.2,4140.6 1842.1,4074.8 1853.1,4134.9 1864.1,4212.2 1875.0,4089.1 1886.0,4335.3 1897.0,4149.2 1908.0,4114.9 1918.9,4215.0 1929.9,4295.2 1940.9,4280.9 1951.8,4169.2 1962.8,4200.7 1973.8,4143.5 1984.7,4215.0 1995.7,4215.0 2006.7,4077.6 2017.7,4120.6 2028.6,4143.5 2039.6,4240.8 2050.6,4255.1 2061.5,4157.8 2072.5,4157.8 2083.5,4226.5 2094.4,4280.9 2105.4,4129.2 2116.4,4255.1" fill="none" stroke="#3a76b9" stroke-width="7.8" stroke-linejoin="round" stroke-linecap="round"/>
<polyline points="547.7,4199.3 558.6,4349.6 569.6,3937.4 580.6,3977.4 591.6,4332.4 602.5,4126.3 613.5,4103.4 624.5,4049.0 635.4,4074.8 646.4,3966.0 657.4,4197.9 668.3,4020.4 679.3,4212.2 690.3,4132.0 701.2,4220.8 712.2,4363.9 723.2,4220.8 734.2,4172.1 745.1,4212.2 756.1,4117.7 767.1,4343.9 778.0,4172.1 789.0,4192.1 800.0,4237.9 811.0,4074.8 821.9,4172.1 832.9,3991.8 843.9,4215.0 854.8,4157.8 865.8,4280.9 876.8,4192.1 887.7,4129.2 898.7,4240.8 909.7,4077.6 920.7,3948.8 931.6,4134.9 942.6,4240.8 953.6,4100.5 964.5,4143.5 975.5,4186.4 986.5,4074.8 997.4,4172.1 1008.4,4069.0 1019.4,3977.4 1030.4,4089.1 1041.3,4197.9 1052.3,4197.9 1063.3,3991.8 1074.2,4143.5 1085.2,4077.6 1096.2,3977.4 1107.1,4023.2 1118.1,3923.1 1129.1,3966.0 1140.1,3951.7 1151.0,4034.7 1162.0,3977.4 1173.0,4060.5 1183.9,4049.0 1194.9,3908.7 1205.9,4106.3 1216.8,4186.4 1227.8,4312.4 1238.8,4177.8 1249.8,4020.4 1260.7,4031.8 1271.7,4086.2 1282.7,4215.0 1293.6,4114.9 1304.6,4215.0 1315.6,4163.5 1326.5,4114.9 1337.5,4160.7 1348.5,4106.3 1359.5,3977.4 1370.4,3980.3 1381.4,4100.5 1392.4,3937.4 1403.3,4020.4 1414.3,4089.1 1425.3,4006.1 1436.2,4197.9 1447.2,4060.5 1458.2,4183.6 1469.2,4020.4 1480.1,4046.1 1491.1,3911.6 1502.1,4089.1 1513.0,3991.8 1524.0,3897.3 1535.0,4106.3 1545.9,4378.2 1556.9,4089.1 1567.9,4163.5 1578.9,4049.0 1589.8,4134.9 1600.8,4269.4 1611.8,4117.7 1622.7,4212.2 1633.7,4103.4 1644.7,4192.1 1655.6,4074.8 1666.6,4240.8 1677.6,4163.5 1688.6,4089.1 1699.5,4077.6 1710.5,4226.5 1721.5,4215.0 1732.4,4046.1 1743.4,4175.0 1754.4,4200.7 1765.3,4157.8 1776.3,4240.8 1787.3,4089.1 1798.3,4200.7 1809.2,4103.4 1820.2,4089.1 1831.2,4034.7 1842.1,4057.6 1853.1,4060.5 1864.1,4163.5 1875.0,4215.0 1886.0,4031.8 1897.0,4103.4 1908.0,3977.4 1918.9,4063.3 1929.9,4146.3 1940.9,4117.7 1951.8,4089.1 1962.8,4175.0 1973.8,4031.8 1984.7,4091.9 1995.7,4160.7 2006.7,3991.8 2017.7,4215.0 2028.6,4089.1 2039.6,4117.7 2050.6,4229.4 2061.5,4157.8 2072.5,4215.0 2083.5,4186.4 2094.4,4157.8 2105.4,4335.3 2116.4,4309.5" fill="none" stroke="#e8383c" stroke-width="7.8" stroke-linejoin="round" stroke-linecap="round"/>
<path d="M545,4130.6H2116" stroke="#ffc000" stroke-width="7"/>
<path d="M2182,3165V4546" stroke="#c3bfbc" stroke-width="6"/>
<path d="M2158,4438.2H2182M2158,4226.0H2182M2158,4013.8H2182M2158,3801.6H2182M2158,3589.4H2182M2158,3377.2H2182M2158,3165.0H2182" stroke="#c3bfbc" stroke-width="6"/>
<text x="2206" y="4460.6" font-family="Liberation Serif, Times New Roman, serif" font-size="80" fill="#c3bfbc">16</text>
<text x="2206" y="4248.4" font-family="Liberation Serif, Times New Roman, serif" font-size="80" fill="#c3bfbc">18</text>
<text x="2206" y="4036.2" font-family="Liberation Serif, Times New Roman, serif" font-size="80" fill="#c3bfbc">20</text>
<text x="2206" y="3824.0" font-family="Liberation Serif, Times New Roman, serif" font-size="80" fill="#c3bfbc">22</text>
<text x="2206" y="3611.8" font-family="Liberation Serif, Times New Roman, serif" font-size="80" fill="#c3bfbc">24</text>
<text x="2206" y="3399.6" font-family="Liberation Serif, Times New Roman, serif" font-size="80" fill="#c3bfbc">26</text>
<text x="2206" y="3187.4" font-family="Liberation Serif, Times New Roman, serif" font-size="80" fill="#c3bfbc">28</text>
<path d="M482,3165V4544M479,3165H2158M479,4544H2180" stroke="#000" stroke-width="7"/>
<path d="M536.7,3165V3188M536.7,4544V4521M756.1,3165V3188M756.1,4544V4521M975.5,3165V3188M975.5,4544V4521M1194.9,3165V3188M1194.9,4544V4521M1414.3,3165V3188M1414.3,4544V4521M1633.7,3165V3188M1633.7,4544V4521M1853.1,3165V3188M1853.1,4544V4521M2072.5,3165V3188M2072.5,4544V4521M482,4406.1H506M482,4130.6H506M482,3855.1H506M482,3579.6H506M482,3304.1H506" stroke="#000" stroke-width="6"/>
<text x="455.5" y="4428.5" text-anchor="end" font-family="Liberation Serif, Times New Roman, serif" font-size="80">16</text>
<text x="455.5" y="4153.0" text-anchor="end" font-family="Liberation Serif, Times New Roman, serif" font-size="80">18</text>
<text x="455.5" y="3877.5" text-anchor="end" font-family="Liberation Serif, Times New Roman, serif" font-size="80">20</text>
<text x="455.5" y="3602.0" text-anchor="end" font-family="Liberation Serif, Times New Roman, serif" font-size="80">22</text>
<text x="455.5" y="3326.5" text-anchor="end" font-family="Liberation Serif, Times New Roman, serif" font-size="80">24</text>
<text x="536.7" y="4630" text-anchor="middle" font-family="Liberation Serif, Times New Roman, serif" font-size="80">0</text>
<text x="756.1" y="4630" text-anchor="middle" font-family="Liberation Serif, Times New Roman, serif" font-size="80">20</text>
<text x="975.5" y="4630" text-anchor="middle" font-family="Liberation Serif, Times New Roman, serif" font-size="80">40</text>
<text x="1194.9" y="4630" text-anchor="middle" font-family="Liberation Serif, Times New Roman, serif" font-size="80">60</text>
<text x="1414.3" y="4630" text-anchor="middle" font-family="Liberation Serif, Times New Roman, serif" font-size="80">80</text>
<text x="1633.7" y="4630" text-anchor="middle" font-family="Liberation Serif, Times New Roman, serif" font-size="80">100</text>
<text x="1853.1" y="4630" text-anchor="middle" font-family="Liberation Serif, Times New Roman, serif" font-size="80">120</text>
<text x="2072.5" y="4630" text-anchor="middle" font-family="Liberation Serif, Times New Roman, serif" font-size="80">140</text>
<text transform="translate(355,3854) rotate(-90)" text-anchor="middle" font-family="Liberation Serif, Times New Roman, serif" font-size="98.4">Magnetic Field (mT)</text>
<text transform="translate(2379,3845.5) rotate(-90)" text-anchor="middle" font-family="Liberation Serif, Times New Roman, serif" font-size="96.5">Resistance (Ω)</text>
<text x="1247.7" y="4738.5" font-family="Liberation Serif, Times New Roman, serif" font-size="97.5">Coil</text>
<rect x="1388.9" y="3466" width="697.6" height="318" fill="none" stroke="#000" stroke-width="4.5"/>
<path d="M1397,3523H1588" stroke="#0c56ad" stroke-width="8" stroke-linecap="round"/>
<path d="M1397,3624.6H1588" stroke="#ff1010" stroke-width="8" stroke-linecap="round"/>
<rect x="1398.5" y="3680" width="182" height="87" fill="url(#glegbar)"/>
<text x="1605.5" y="3551" font-family="Liberation Serif, Times New Roman, serif" font-size="83.3">Mag Field SC</text>
<text x="1605.5" y="3652" font-family="Liberation Serif, Times New Roman, serif" font-size="83.3">Mag Field SV</text>
<text x="1605.5" y="3752.5" font-family="Liberation Serif, Times New Roman, serif" font-size="83.3">Resistance</text>
<rect x="633.8" y="3758.6" width="155.2" height="98" fill="none" stroke="#000" stroke-width="4.5"/>
<text x="639.6" y="3835.7" font-family="Liberation Serif, Times New Roman, serif" font-size="80" font-weight="bold">19.7</text>
<path d="M789,3853.8L884,3890.7" stroke="#000" stroke-width="4.5"/>
<rect x="1596" y="3951.7" width="159.4" height="88.7" fill="none" stroke="#000" stroke-width="4.5"/>
<text x="1675.7" y="4017.5" text-anchor="middle" font-family="Liberation Serif, Times New Roman, serif" font-size="80" font-weight="bold">18.0</text>
<path d="M1596,4040L1528.3,4132" stroke="#000" stroke-width="4.5"/>
<rect x="1888.9" y="4411" width="155.9" height="100.6" fill="none" stroke="#000" stroke-width="4.5"/>
<text x="1895.2" y="4488" font-family="Liberation Serif, Times New Roman, serif" font-size="80" font-weight="bold">16.2</text>
<path d="M1796.8,4384.6L1888.9,4411" stroke="#000" stroke-width="4.5"/>
<rect x="2819.7" y="2011.7" width="1285" height="1285" fill="#f2dddb"/>
<circle cx="3462" cy="2655.5" r="446" fill="#c0c0c0" stroke="#fff" stroke-width="16"/>
<g fill="#000"><circle cx="3486.1" cy="2284.9" r="42"/><circle cx="3598.4" cy="2299.7" r="42"/><circle cx="3345.3" cy="2340.3" r="42"/><circle cx="3236.2" cy="2374.5" r="42"/><circle cx="3688.0" cy="2395.6" r="42"/><circle cx="3327.9" cy="2437.8" r="42"/><circle cx="3440.2" cy="2437.8" r="42"/><circle cx="3553.6" cy="2415.6" r="42"/><circle cx="3139.7" cy="2490.5" r="42"/><circle cx="3255.7" cy="2501.1" r="42"/><circle cx="3737.0" cy="2510.5" r="42"/><circle cx="3631.6" cy="2545.9" r="42"/><circle cx="3361.1" cy="2577.5" r="42"/><circle cx="3499.8" cy="2561.7" r="42"/><circle cx="3846.2" cy="2569.6" r="42"/><circle cx="3153.9" cy="2594.9" r="42"/><circle cx="3071.2" cy="2659.2" r="42"/><circle cx="3259.4" cy="2646.0" r="42"/><circle cx="3436.5" cy="2664.5" r="42"/><circle cx="3598.4" cy="2646.0" r="42"/><circle cx="3711.7" cy="2667.1" r="42"/><circle cx="3831.9" cy="2693.5" r="42"/><circle cx="3192.4" cy="2758.3" r="42"/><circle cx="3373.3" cy="2738.3" r="42"/><circle cx="3485.0" cy="2788.4" r="42"/><circle cx="3665.3" cy="2765.7" r="42"/><circle cx="3139.7" cy="2833.2" r="42"/><circle cx="3304.7" cy="2825.3" r="42"/><circle cx="3401.7" cy="2874.3" r="42"/><circle cx="3549.3" cy="2874.3" r="42"/><circle cx="3770.8" cy="2842.7" r="42"/><circle cx="3222.5" cy="2922.8" r="42"/><circle cx="3681.1" cy="2930.7" r="42"/><circle cx="3343.7" cy="2996.6" r="42"/><circle cx="3463.9" cy="2975.5" r="42"/><circle cx="3598.4" cy="3006.1" r="42"/></g>
<polygon points="3486.1,2281.6 3439.3,2281.6 3439.3,2263.9 3394.3,2284.9 3439.3,2305.9 3439.3,2288.1 3486.1,2288.1" fill="#ff0000"/><polygon points="3595.1,2299.7 3595.1,2345.3 3577.4,2345.3 3598.4,2390.3 3619.4,2345.3 3601.6,2345.3 3601.6,2299.7" fill="#ff0000"/><polygon points="3348.2,2338.7 3328.7,2302.0 3344.4,2293.7 3304.7,2263.8 3307.3,2313.4 3323.0,2305.1 3342.4,2341.8" fill="#ff0000"/><polygon points="3233.4,2372.8 3209.1,2413.3 3193.9,2404.2 3188.7,2453.6 3229.9,2425.8 3214.7,2416.7 3239.0,2376.2" fill="#ff0000"/><polygon points="3685.7,2397.9 3718.4,2429.8 3706.0,2442.5 3752.8,2458.9 3735.3,2412.4 3722.9,2425.1 3690.3,2393.3" fill="#ff0000"/><polygon points="3329.5,2440.6 3369.5,2418.0 3378.2,2433.4 3407.0,2393.0 3357.5,2396.9 3366.2,2412.3 3326.3,2435.0" fill="#ff0000"/><polygon points="3443.4,2438.6 3455.2,2395.1 3472.4,2399.7 3463.9,2350.8 3431.8,2388.7 3449.0,2393.4 3437.1,2436.9" fill="#ff0000"/><polygon points="3550.4,2416.2 3557.8,2461.4 3540.3,2464.3 3568.3,2505.3 3581.7,2457.5 3564.2,2460.3 3556.8,2415.1" fill="#ff0000"/><polygon points="3138.1,2487.7 3099.5,2510.0 3090.7,2494.6 3062.2,2535.3 3111.7,2531.0 3102.8,2515.6 3141.3,2493.3" fill="#ff0000"/><polygon points="3252.9,2502.7 3276.2,2542.8 3260.8,2551.7 3301.6,2580.1 3297.1,2530.7 3281.8,2539.6 3258.5,2499.4" fill="#ff0000"/><polygon points="3734.2,2508.9 3711.6,2547.6 3696.3,2538.6 3691.7,2588.0 3732.5,2559.8 3717.2,2550.8 3739.8,2512.2" fill="#ff0000"/><polygon points="3634.8,2545.9 3634.8,2498.6 3652.6,2498.6 3631.6,2453.6 3610.6,2498.6 3628.3,2498.6 3628.3,2545.9" fill="#ff0000"/><polygon points="3363.9,2579.2 3386.9,2540.4 3402.2,2549.4 3407.0,2500.0 3366.0,2528.0 3381.3,2537.1 3358.3,2575.8" fill="#ff0000"/><polygon points="3503.0,2561.1 3495.2,2518.4 3512.7,2515.2 3484.0,2474.7 3471.4,2522.7 3488.8,2519.5 3496.6,2562.3" fill="#ff0000"/><polygon points="3849.0,2568.0 3827.3,2529.2 3842.7,2520.5 3802.4,2491.6 3806.1,2541.1 3821.6,2532.4 3843.3,2571.2" fill="#ff0000"/><polygon points="3150.7,2594.9 3150.7,2640.6 3132.9,2640.6 3153.9,2685.6 3174.9,2640.6 3157.2,2640.6 3157.2,2594.9" fill="#ff0000"/><polygon points="3068.9,2661.5 3102.1,2695.3 3089.5,2707.8 3136.0,2725.1 3119.4,2678.3 3106.8,2690.8 3073.5,2656.9" fill="#ff0000"/><polygon points="3257.1,2648.3 3288.5,2679.8 3276.0,2692.3 3322.6,2709.3 3305.7,2662.6 3293.1,2675.2 3261.7,2643.7" fill="#ff0000"/><polygon points="3436.5,2667.7 3482.2,2667.7 3482.2,2685.5 3527.2,2664.5 3482.2,2643.5 3482.2,2661.2 3436.5,2661.2" fill="#ff0000"/><polygon points="3595.5,2647.6 3618.2,2687.6 3602.7,2696.3 3643.2,2725.1 3639.3,2675.6 3623.8,2684.4 3601.2,2644.4" fill="#ff0000"/><polygon points="3713.3,2670.0 3753.0,2648.0 3761.6,2663.5 3790.8,2623.4 3741.3,2626.8 3749.9,2642.3 3710.2,2664.3" fill="#ff0000"/><polygon points="3828.7,2693.5 3828.7,2740.7 3810.9,2740.7 3831.9,2785.7 3852.9,2740.7 3835.2,2740.7 3835.2,2693.5" fill="#ff0000"/><polygon points="3195.3,2759.9 3215.5,2723.8 3231.0,2732.5 3234.6,2682.9 3194.3,2712.0 3209.8,2720.6 3189.6,2756.7" fill="#ff0000"/><polygon points="3370.0,2738.3 3370.0,2785.6 3352.3,2785.6 3373.3,2830.6 3394.3,2785.6 3376.5,2785.6 3376.5,2738.3" fill="#ff0000"/><polygon points="3487.3,2790.7 3519.5,2759.0 3532.0,2771.6 3549.3,2725.1 3502.5,2741.7 3515.0,2754.4 3482.7,2786.1" fill="#ff0000"/><polygon points="3664.4,2762.6 3621.1,2775.3 3616.2,2758.2 3578.9,2791.0 3628.0,2798.5 3623.0,2781.5 3666.2,2768.8" fill="#ff0000"/><polygon points="3142.5,2831.5 3120.8,2795.3 3136.0,2786.2 3094.9,2758.3 3100.0,2807.7 3115.2,2798.6 3136.9,2834.9" fill="#ff0000"/><polygon points="3301.9,2823.7 3279.9,2863.4 3264.4,2854.8 3261.0,2904.4 3301.1,2875.2 3285.6,2866.6 3307.6,2826.9" fill="#ff0000"/><polygon points="3400.9,2877.5 3445.9,2888.7 3441.5,2905.9 3490.3,2896.5 3451.7,2865.2 3447.4,2882.4 3402.5,2871.2" fill="#ff0000"/><polygon points="3548.5,2877.5 3592.4,2888.6 3588.1,2905.8 3636.9,2896.5 3598.4,2865.1 3594.0,2882.3 3550.1,2871.2" fill="#ff0000"/><polygon points="3773.6,2841.1 3752.4,2803.4 3767.9,2794.7 3727.5,2765.7 3731.3,2815.2 3746.7,2806.5 3767.9,2844.3" fill="#ff0000"/><polygon points="3220.1,2925.1 3251.1,2957.0 3238.3,2969.4 3284.7,2987.1 3268.5,2940.2 3255.7,2952.5 3224.8,2920.6" fill="#ff0000"/><polygon points="3684.3,2931.6 3695.3,2890.7 3712.4,2895.3 3703.8,2846.4 3671.9,2884.4 3689.0,2889.0 3678.0,2929.9" fill="#ff0000"/><polygon points="3346.5,2998.3 3368.5,2961.9 3383.7,2971.1 3389.1,2921.8 3347.8,2949.4 3363.0,2958.6 3341.0,2994.9" fill="#ff0000"/><polygon points="3461.1,2974.0 3439.4,3013.6 3423.9,3005.1 3420.7,3054.6 3460.7,3025.2 3445.1,3016.7 3466.8,2977.1" fill="#ff0000"/><polygon points="3601.5,3005.3 3591.4,2964.6 3608.6,2960.3 3577.3,2921.8 3567.8,2970.5 3585.0,2966.2 3595.2,3006.9" fill="#ff0000"/>
<polygon points="3457.8,2211.5 3457.8,2245.5 3440.0,2245.5 3462.0,2291.5 3484.0,2245.5 3466.2,2245.5 3466.2,2211.5" fill="#ffffff"/><polygon points="3572.8,2225.5 3564.0,2258.4 3546.9,2253.8 3556.2,2303.9 3589.4,2265.2 3572.2,2260.6 3581.0,2227.7" fill="#ffffff"/><polygon points="3680.3,2268.9 3663.3,2298.3 3647.9,2289.4 3644.0,2340.3 3686.1,2311.4 3670.7,2302.6 3687.7,2273.1" fill="#ffffff"/><polygon points="3773.0,2338.5 3748.9,2362.6 3736.4,2350.0 3719.4,2398.1 3767.5,2381.1 3754.9,2368.6 3779.0,2344.5" fill="#ffffff"/><polygon points="3844.4,2429.8 3814.9,2446.8 3806.1,2431.4 3777.2,2473.5 3828.1,2469.6 3819.2,2454.2 3848.6,2437.2" fill="#ffffff"/><polygon points="3889.8,2536.5 3856.9,2545.3 3852.3,2528.1 3813.6,2561.3 3863.7,2570.6 3859.1,2553.5 3892.0,2544.7" fill="#ffffff"/><polygon points="3906.0,2651.2 3872.0,2651.2 3872.0,2633.5 3826.0,2655.5 3872.0,2677.5 3872.0,2659.8 3906.0,2659.8" fill="#ffffff"/><polygon points="3892.0,2766.3 3859.1,2757.5 3863.7,2740.4 3813.6,2749.7 3852.3,2782.9 3856.9,2765.7 3889.8,2774.5" fill="#ffffff"/><polygon points="3848.6,2873.8 3819.2,2856.8 3828.1,2841.4 3777.2,2837.5 3806.1,2879.6 3814.9,2864.2 3844.4,2881.2" fill="#ffffff"/><polygon points="3779.0,2966.5 3754.9,2942.4 3767.5,2929.9 3719.4,2912.9 3736.4,2961.0 3748.9,2948.4 3773.0,2972.5" fill="#ffffff"/><polygon points="3687.7,3037.9 3670.7,3008.4 3686.1,2999.6 3644.0,2970.7 3647.9,3021.6 3663.3,3012.7 3680.3,3042.1" fill="#ffffff"/><polygon points="3581.0,3083.3 3572.2,3050.4 3589.4,3045.8 3556.2,3007.1 3546.9,3057.2 3564.0,3052.6 3572.8,3085.5" fill="#ffffff"/><polygon points="3466.2,3099.5 3466.2,3065.5 3484.0,3065.5 3462.0,3019.5 3440.0,3065.5 3457.8,3065.5 3457.8,3099.5" fill="#ffffff"/><polygon points="3351.2,3085.5 3360.0,3052.6 3377.1,3057.2 3367.8,3007.1 3334.6,3045.8 3351.8,3050.4 3343.0,3083.3" fill="#ffffff"/><polygon points="3243.7,3042.1 3260.7,3012.7 3276.1,3021.6 3280.0,2970.7 3237.9,2999.6 3253.3,3008.4 3236.3,3037.9" fill="#ffffff"/><polygon points="3151.0,2972.5 3175.1,2948.4 3187.6,2961.0 3204.6,2912.9 3156.5,2929.9 3169.1,2942.4 3145.0,2966.5" fill="#ffffff"/><polygon points="3079.6,2881.2 3109.1,2864.2 3117.9,2879.6 3146.8,2837.5 3095.9,2841.4 3104.8,2856.8 3075.4,2873.8" fill="#ffffff"/><polygon points="3034.2,2774.5 3067.1,2765.7 3071.7,2782.9 3110.4,2749.7 3060.3,2740.4 3064.9,2757.5 3032.0,2766.3" fill="#ffffff"/><polygon points="3018.0,2659.8 3052.0,2659.8 3052.0,2677.5 3098.0,2655.5 3052.0,2633.5 3052.0,2651.2 3018.0,2651.2" fill="#ffffff"/><polygon points="3032.0,2544.7 3064.9,2553.5 3060.3,2570.6 3110.4,2561.3 3071.7,2528.1 3067.1,2545.3 3034.2,2536.5" fill="#ffffff"/><polygon points="3075.4,2437.2 3104.8,2454.2 3095.9,2469.6 3146.8,2473.5 3117.9,2431.4 3109.1,2446.8 3079.6,2429.8" fill="#ffffff"/><polygon points="3145.0,2344.5 3169.1,2368.6 3156.5,2381.1 3204.6,2398.1 3187.6,2350.0 3175.1,2362.6 3151.0,2338.5" fill="#ffffff"/><polygon points="3236.3,2273.1 3253.3,2302.6 3237.9,2311.4 3280.0,2340.3 3276.1,2289.4 3260.7,2298.3 3243.7,2268.9" fill="#ffffff"/><polygon points="3343.0,2227.7 3351.8,2260.6 3334.6,2265.2 3367.8,2303.9 3377.1,2253.8 3360.0,2258.4 3351.2,2225.5" fill="#ffffff"/>
<text x="3127.5" y="2142.4" font-family="Liberation Serif, Times New Roman, serif" font-size="100" font-weight="bold" fill="#ffffff">Surface tension</text>
<text x="2883.4" y="3240.6" font-family="Liberation Serif, Times New Roman, serif" font-size="100.9">Silicon oil</text>
<text x="3682.5" y="3240.6" font-family="Liberation Serif, Times New Roman, serif" font-size="99.6" font-weight="bold" fill="#0000ff">Field off</text>
<rect x="2819.7" y="3433.7" width="1285" height="1285" fill="#f2dddb"/>
<ellipse cx="3389" cy="4081" rx="320.5" ry="447" fill="#c0c0c0" stroke="#fff" stroke-width="14"/>
<g fill="#000"><circle cx="3193.2" cy="3880.7" r="42.4"/><circle cx="3193.2" cy="4023.9" r="42.4"/><circle cx="3193.2" cy="4167.6" r="42.4"/><circle cx="3193.2" cy="4311.4" r="42.4"/><circle cx="3291.6" cy="3821.7" r="42.4"/><circle cx="3291.6" cy="3965" r="42.4"/><circle cx="3291.6" cy="4107.8" r="42.4"/><circle cx="3291.6" cy="4251.5" r="42.4"/><circle cx="3291.6" cy="4395.7" r="42.4"/><circle cx="3389.1" cy="3745" r="42.4"/><circle cx="3389.1" cy="3889.7" r="42.4"/><circle cx="3389.1" cy="4031.6" r="42.4"/><circle cx="3389.1" cy="4175.8" r="42.4"/><circle cx="3389.1" cy="4319.5" r="42.4"/><circle cx="3389.1" cy="4462.3" r="42.4"/><circle cx="3487.9" cy="3821.7" r="42.4"/><circle cx="3487.9" cy="3965" r="42.4"/><circle cx="3487.9" cy="4107.8" r="42.4"/><circle cx="3487.9" cy="4259.2" r="42.4"/><circle cx="3487.9" cy="4410.2" r="42.4"/><circle cx="3586.3" cy="3880.7" r="42.4"/><circle cx="3586.3" cy="4023.9" r="42.4"/><circle cx="3586.3" cy="4175.3" r="42.4"/><circle cx="3586.3" cy="4326.3" r="42.4"/></g>
<polygon points="3196.3,3880.7 3196.3,3833.7 3215.2,3833.7 3193.2,3790.7 3171.2,3833.7 3190.0,3833.7 3190.0,3880.7" fill="#ff0000"/><polygon points="3196.3,4023.9 3196.3,3976.9 3215.2,3976.9 3193.2,3933.9 3171.2,3976.9 3190.0,3976.9 3190.0,4023.9" fill="#ff0000"/><polygon points="3196.3,4167.6 3196.3,4120.6 3215.2,4120.6 3193.2,4077.6 3171.2,4120.6 3190.0,4120.6 3190.0,4167.6" fill="#ff0000"/><polygon points="3196.3,4311.4 3196.3,4264.4 3215.2,4264.4 3193.2,4221.4 3171.2,4264.4 3190.0,4264.4 3190.0,4311.4" fill="#ff0000"/><polygon points="3294.8,3821.7 3294.8,3774.7 3313.6,3774.7 3291.6,3731.7 3269.6,3774.7 3288.4,3774.7 3288.4,3821.7" fill="#ff0000"/><polygon points="3294.8,3965.0 3294.8,3918.0 3313.6,3918.0 3291.6,3875.0 3269.6,3918.0 3288.4,3918.0 3288.4,3965.0" fill="#ff0000"/><polygon points="3294.8,4107.8 3294.8,4060.8 3313.6,4060.8 3291.6,4017.8 3269.6,4060.8 3288.4,4060.8 3288.4,4107.8" fill="#ff0000"/><polygon points="3294.8,4251.5 3294.8,4204.5 3313.6,4204.5 3291.6,4161.5 3269.6,4204.5 3288.4,4204.5 3288.4,4251.5" fill="#ff0000"/><polygon points="3294.8,4395.7 3294.8,4348.7 3313.6,4348.7 3291.6,4305.7 3269.6,4348.7 3288.4,4348.7 3288.4,4395.7" fill="#ff0000"/><polygon points="3392.2,3745.0 3392.2,3698.0 3411.1,3698.0 3389.1,3655.0 3367.1,3698.0 3385.9,3698.0 3385.9,3745.0" fill="#ff0000"/><polygon points="3392.2,3889.7 3392.2,3842.7 3411.1,3842.7 3389.1,3799.7 3367.1,3842.7 3385.9,3842.7 3385.9,3889.7" fill="#ff0000"/><polygon points="3392.2,4031.6 3392.2,3984.6 3411.1,3984.6 3389.1,3941.6 3367.1,3984.6 3385.9,3984.6 3385.9,4031.6" fill="#ff0000"/><polygon points="3392.2,4175.8 3392.2,4128.8 3411.1,4128.8 3389.1,4085.8 3367.1,4128.8 3385.9,4128.8 3385.9,4175.8" fill="#ff0000"/><polygon points="3392.2,4319.5 3392.2,4272.5 3411.1,4272.5 3389.1,4229.5 3367.1,4272.5 3385.9,4272.5 3385.9,4319.5" fill="#ff0000"/><polygon points="3392.2,4462.3 3392.2,4415.3 3411.1,4415.3 3389.1,4372.3 3367.1,4415.3 3385.9,4415.3 3385.9,4462.3" fill="#ff0000"/><polygon points="3491.1,3821.7 3491.1,3774.7 3509.9,3774.7 3487.9,3731.7 3465.9,3774.7 3484.8,3774.7 3484.8,3821.7" fill="#ff0000"/><polygon points="3491.1,3965.0 3491.1,3918.0 3509.9,3918.0 3487.9,3875.0 3465.9,3918.0 3484.8,3918.0 3484.8,3965.0" fill="#ff0000"/><polygon points="3491.1,4107.8 3491.1,4060.8 3509.9,4060.8 3487.9,4017.8 3465.9,4060.8 3484.8,4060.8 3484.8,4107.8" fill="#ff0000"/><polygon points="3491.1,4259.2 3491.1,4212.2 3509.9,4212.2 3487.9,4169.2 3465.9,4212.2 3484.8,4212.2 3484.8,4259.2" fill="#ff0000"/><polygon points="3491.1,4410.2 3491.1,4363.2 3509.9,4363.2 3487.9,4320.2 3465.9,4363.2 3484.8,4363.2 3484.8,4410.2" fill="#ff0000"/><polygon points="3589.5,3880.7 3589.5,3833.7 3608.3,3833.7 3586.3,3790.7 3564.3,3833.7 3583.2,3833.7 3583.2,3880.7" fill="#ff0000"/><polygon points="3589.5,4023.9 3589.5,3976.9 3608.3,3976.9 3586.3,3933.9 3564.3,3976.9 3583.2,3976.9 3583.2,4023.9" fill="#ff0000"/><polygon points="3589.5,4175.3 3589.5,4128.3 3608.3,4128.3 3586.3,4085.3 3564.3,4128.3 3583.2,4128.3 3583.2,4175.3" fill="#ff0000"/><polygon points="3589.5,4326.3 3589.5,4279.3 3608.3,4279.3 3586.3,4236.3 3564.3,4279.3 3583.2,4279.3 3583.2,4326.3" fill="#ff0000"/>
<polygon points="3299.0,3664.2 3310.4,3686.4 3294.5,3694.6 3334.7,3723.3 3334.4,3673.9 3318.4,3682.2 3306.9,3660.1" fill="#ffffff"/><polygon points="3466.7,3660.0 3455.9,3680.2 3440.0,3671.7 3439.0,3721.1 3479.6,3693.0 3463.8,3684.5 3474.7,3664.3" fill="#ffffff"/><polygon points="3200.2,3733.5 3219.8,3751.4 3207.7,3764.7 3255.4,3777.7 3238.0,3731.5 3225.9,3744.8 3206.2,3726.8" fill="#ffffff"/><polygon points="3567.2,3724.8 3547.7,3745.1 3534.7,3732.7 3520.6,3780.0 3567.2,3763.8 3554.2,3751.3 3573.7,3731.0" fill="#ffffff"/><polygon points="3133.0,3831.6 3155.8,3844.2 3147.0,3859.9 3196.4,3861.6 3168.9,3820.6 3160.1,3836.3 3137.4,3823.7" fill="#ffffff"/><polygon points="3643.1,3828.2 3620.3,3840.9 3611.6,3825.1 3584.0,3866.2 3633.4,3864.5 3624.7,3848.7 3647.4,3836.1" fill="#ffffff"/><polygon points="3093.3,3947.6 3116.3,3953.1 3112.1,3970.6 3160.1,3959.1 3122.7,3926.9 3118.4,3944.4 3095.5,3938.9" fill="#ffffff"/><polygon points="3685.1,3938.8 3655.5,3945.3 3651.7,3927.7 3613.5,3959.1 3661.3,3971.7 3657.5,3954.1 3687.0,3947.6" fill="#ffffff"/><polygon points="3076.3,4086.0 3109.3,4086.0 3109.3,4104.0 3153.3,4081.5 3109.3,4059.0 3109.3,4077.0 3076.3,4077.0" fill="#ffffff"/><polygon points="3701.9,4077.0 3671.1,4077.0 3671.1,4059.0 3627.1,4081.5 3671.1,4104.0 3671.1,4086.0 3701.9,4086.0" fill="#ffffff"/><polygon points="3095.9,4215.0 3118.0,4207.1 3124.0,4224.0 3157.9,4188.0 3108.9,4181.7 3114.9,4198.6 3092.9,4206.5" fill="#ffffff"/><polygon points="3689.7,4204.2 3665.9,4196.8 3671.3,4179.6 3622.6,4188.0 3657.9,4222.6 3663.3,4205.4 3687.0,4212.7" fill="#ffffff"/><polygon points="3138.0,4334.4 3157.9,4318.6 3169.1,4332.7 3189.6,4287.8 3141.1,4297.5 3152.3,4311.6 3132.4,4327.3" fill="#ffffff"/><polygon points="3649.9,4327.0 3624.0,4311.3 3633.3,4295.9 3584.0,4292.3 3610.0,4334.4 3619.3,4319.0 3645.2,4334.7" fill="#ffffff"/><polygon points="3204.4,4433.5 3221.6,4412.9 3235.4,4424.4 3246.3,4376.2 3200.8,4395.6 3214.7,4407.1 3197.5,4427.7" fill="#ffffff"/><polygon points="3582.8,4425.3 3564.9,4405.7 3578.2,4393.5 3531.9,4376.2 3545.0,4423.9 3558.3,4411.7 3576.2,4431.4" fill="#ffffff"/><polygon points="3313.9,4502.6 3323.8,4479.6 3340.3,4486.7 3337.0,4437.4 3298.9,4469.0 3315.5,4476.1 3305.6,4499.1" fill="#ffffff"/><polygon points="3486.2,4496.8 3476.3,4473.8 3492.8,4466.7 3454.8,4435.1 3451.5,4484.4 3468.0,4477.3 3477.9,4500.4" fill="#ffffff"/>
<polygon points="3804,4305.8 3833.8,4305.8 3833.8,3961 3873.8,3961 3818.9,3857 3764,3961 3804,3961" fill="#0000ff"/>
<text x="3942" y="4121.4" font-family="Liberation Serif, Times New Roman, serif" font-size="135.4" font-weight="bold" fill="#0000ff">B</text>
<text transform="translate(2902,4077.5) rotate(-90)" text-anchor="middle" font-family="Liberation Serif, Times New Roman, serif" font-size="100.6">Water-based</text>
<text transform="translate(3005,4075.5) rotate(-90)" text-anchor="middle" font-family="Liberation Serif, Times New Roman, serif" font-size="100.6">ferrofluids</text>
<text x="3049.1" y="3564.3" font-family="Liberation Serif, Times New Roman, serif" font-size="100.4" font-weight="bold" fill="#ffffff">Surface tension</text>
<text x="2883.4" y="4662.5" font-family="Liberation Serif, Times New Roman, serif" font-size="100.9">Silicon oil</text>
<text x="3694.5" y="4662.5" font-family="Liberation Serif, Times New Roman, serif" font-size="99" font-weight="bold" fill="#0000ff">Field on</text>
<text x="886.5" y="1892" text-anchor="middle" font-family="Liberation Serif, Times New Roman, serif" font-size="100">(a)</text>
<text x="3313.3" y="954.2" text-anchor="middle" font-family="Liberation Serif, Times New Roman, serif" font-size="100">(b)</text>
<text x="3051.5" y="1891.5" text-anchor="middle" font-family="Liberation Serif, Times New Roman, serif" font-size="100">(c)</text>
<text x="1337" y="3094.8" text-anchor="middle" font-family="Liberation Serif, Times New Roman, serif" font-size="100">(d)</text>
<text x="1337.4" y="4870" text-anchor="middle" font-family="Liberation Serif, Times New Roman, serif" font-size="100">(e)</text>
<text x="3462" y="3396.8" text-anchor="middle" font-family="Liberation Serif, Times New Roman, serif" font-size="100">(f)</text>
<text x="3462" y="4870.3" text-anchor="middle" font-family="Liberation Serif, Times New Roman, serif" font-size="100">(g)</text>
</svg>
</body></html>
